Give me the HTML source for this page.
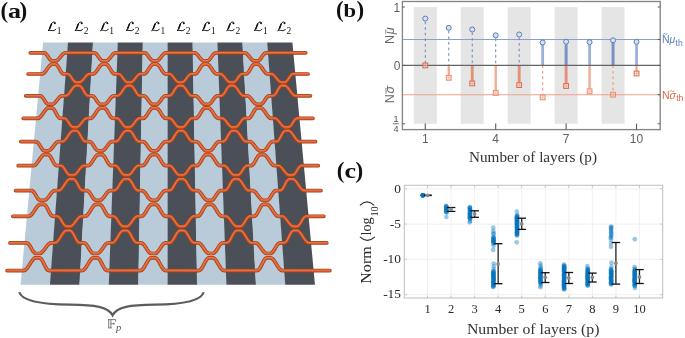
<!DOCTYPE html>
<html><head><meta charset="utf-8"><style>
html,body{margin:0;padding:0;background:#fff;width:685px;height:338px;overflow:hidden}
svg{display:block;will-change:transform}
</style></head><body>
<svg width="685" height="338" viewBox="0 0 685 338">
<rect width="685" height="338" fill="#fff"/>
<polygon points="43.10,42.50 68.30,42.50 50.25,284.70 20.54,284.70" fill="#b9cad9"/>
<polygon points="68.00,42.50 93.20,42.50 79.66,284.70 49.95,284.70" fill="#4b4f58"/>
<polygon points="92.90,42.50 118.10,42.50 109.08,284.70 79.36,284.70" fill="#b9cad9"/>
<polygon points="117.80,42.50 143.00,42.50 138.49,284.70 108.78,284.70" fill="#4b4f58"/>
<polygon points="142.70,42.50 167.90,42.50 167.90,284.70 138.19,284.70" fill="#b9cad9"/>
<polygon points="167.60,42.50 192.80,42.50 197.31,284.70 167.60,284.70" fill="#4b4f58"/>
<polygon points="192.50,42.50 217.70,42.50 226.72,284.70 197.01,284.70" fill="#b9cad9"/>
<polygon points="217.40,42.50 242.60,42.50 256.14,284.70 226.42,284.70" fill="#4b4f58"/>
<polygon points="242.30,42.50 267.50,42.50 285.55,284.70 255.84,284.70" fill="#b9cad9"/>
<polygon points="267.20,42.50 292.40,42.50 314.96,284.70 285.25,284.70" fill="#4b4f58"/>
<path d="M30.29,52.83 L31.21,52.83 L32.13,52.83 L33.05,52.83 L33.97,52.83 L34.88,52.83 L35.80,52.83 L36.72,52.83 L37.64,52.83 L38.56,52.83 L39.47,52.83 L40.39,52.83 L41.31,52.83 L42.23,52.83 L43.15,52.83 L44.06,52.84 L44.96,53.10 L45.82,53.73 L46.66,54.65 L47.47,55.79 L48.28,57.03 L49.10,58.27 L49.92,59.37 L50.77,60.23 L51.65,60.77 L52.56,60.94 L53.48,60.94 L54.40,60.94 L55.33,60.94 L56.26,60.82 L57.22,60.32 L58.21,59.50 L59.22,58.43 L60.24,57.21 L61.26,55.96 L62.27,54.80 L63.26,53.84 L64.23,53.17 L65.18,52.85 L66.10,52.83 L67.01,52.83 L67.93,52.83 L68.85,52.83 L69.77,52.83 L70.69,52.83 L71.60,52.83 L72.52,52.83 L73.44,52.83 L74.36,52.83 L75.28,52.83 L76.19,52.83 L77.11,52.83 L78.03,52.83 L78.95,52.83 L79.87,52.83 L80.78,52.83 L81.70,52.83 L82.62,52.83 L83.54,52.83 L84.46,52.83 L85.37,52.83 L86.29,52.83 L87.21,52.83 L88.13,52.83 L89.05,52.83 L89.96,52.83 L90.88,52.83 L91.80,52.83 L92.72,52.83 L93.64,52.83 L94.55,52.88 L95.45,53.27 L96.33,54.00 L97.19,55.01 L98.05,56.20 L98.91,57.45 L99.77,58.65 L100.64,59.68 L101.53,60.45 L102.43,60.87 L103.35,60.94 L104.27,60.94 L105.20,60.94 L106.12,60.94 L107.06,60.69 L108.01,60.08 L108.97,59.17 L109.94,58.03 L110.91,56.79 L111.88,55.55 L112.85,54.45 L113.80,53.58 L114.74,53.02 L115.67,52.83 L116.59,52.83 L117.50,52.83 L118.42,52.83 L119.34,52.83 L120.26,52.83 L121.18,52.83 L122.09,52.83 L123.01,52.83 L123.93,52.83 L124.85,52.83 L125.77,52.83 L126.68,52.83 L127.60,52.83 L128.52,52.83 L129.44,52.83 L130.36,52.83 L131.27,52.83 L132.19,52.83 L133.11,52.83 L134.03,52.83 L134.95,52.83 L135.86,52.83 L136.78,52.83 L137.70,52.83 L138.62,52.83 L139.54,52.83 L140.45,52.83 L141.37,52.83 L142.29,52.83 L143.21,52.83 L144.13,52.83 L145.04,52.97 L145.95,53.48 L146.86,54.31 L147.76,55.39 L148.66,56.61 L149.57,57.86 L150.47,59.02 L151.39,59.97 L152.30,60.63 L153.22,60.93 L154.14,60.94 L155.07,60.94 L155.99,60.94 L156.92,60.90 L157.84,60.53 L158.77,59.81 L159.70,58.81 L160.63,57.62 L161.55,56.37 L162.48,55.17 L163.40,54.13 L164.32,53.35 L165.24,52.92 L166.16,52.83 L167.08,52.83 L168.00,52.83 L168.91,52.83 L169.83,52.83 L170.75,52.83 L171.67,52.83 L172.59,52.83 L173.50,52.83 L174.42,52.83 L175.34,52.83 L176.26,52.83 L177.18,52.83 L178.09,52.83 L179.01,52.83 L179.93,52.83 L180.85,52.83 L181.77,52.83 L182.68,52.83 L183.60,52.83 L184.52,52.83 L185.44,52.83 L186.36,52.83 L187.27,52.83 L188.19,52.83 L189.11,52.83 L190.03,52.83 L190.95,52.83 L191.86,52.83 L192.78,52.83 L193.70,52.83 L194.62,52.84 L195.54,53.10 L196.47,53.72 L197.41,54.65 L198.36,55.79 L199.31,57.03 L200.26,58.26 L201.21,59.37 L202.15,60.23 L203.09,60.77 L204.02,60.94 L204.94,60.94 L205.86,60.94 L206.79,60.94 L207.71,60.82 L208.61,60.32 L209.51,59.50 L210.40,58.43 L211.28,57.21 L212.16,55.96 L213.04,54.80 L213.93,53.84 L214.83,53.17 L215.73,52.85 L216.65,52.83 L217.57,52.83 L218.49,52.83 L219.40,52.83 L220.32,52.83 L221.24,52.83 L222.16,52.83 L223.08,52.83 L223.99,52.83 L224.91,52.83 L225.83,52.83 L226.75,52.83 L227.67,52.83 L228.58,52.83 L229.50,52.83 L230.42,52.83 L231.34,52.83 L232.26,52.83 L233.17,52.83 L234.09,52.83 L235.01,52.83 L235.93,52.83 L236.85,52.83 L237.76,52.83 L238.68,52.83 L239.60,52.83 L240.52,52.83 L241.44,52.83 L242.35,52.83 L243.27,52.83 L244.19,52.83 L245.11,52.88 L246.05,53.27 L247.01,54.00 L247.99,55.01 L248.98,56.20 L249.98,57.45 L250.97,58.65 L251.96,59.68 L252.93,60.45 L253.88,60.87 L254.81,60.94 L255.73,60.94 L256.66,60.94 L257.58,60.94 L258.49,60.69 L259.37,60.08 L260.23,59.17 L261.07,58.03 L261.91,56.79 L262.74,55.56 L263.58,54.45 L264.44,53.58 L265.32,53.02 L266.22,52.83 L267.14,52.83 L268.06,52.83 L268.98,52.83 L269.89,52.83 L270.81,52.83 L271.73,52.83 L272.65,52.83 L273.57,52.83 L274.48,52.83 L275.40,52.83 L276.32,52.83 L277.24,52.83 L278.16,52.83 L279.07,52.83 L279.99,52.83 L280.91,52.83 L281.83,52.83 L282.75,52.83 L283.66,52.83 L284.58,52.83 L285.50,52.83 L286.42,52.83 L287.34,52.83 L288.25,52.83 L289.17,52.83 L290.09,52.83 L291.01,52.83 L291.93,52.83 L292.84,52.83 L293.76,52.83 L294.68,52.83 L295.60,52.83 L296.52,52.83 L297.43,52.83 L298.35,52.83 L299.27,52.83 L300.19,52.83 L301.11,52.83 L302.02,52.83 L302.94,52.83 L303.86,52.83 L304.78,52.83 L305.70,52.83" fill="none" stroke="#a0401c" stroke-width="3.7" stroke-linecap="round" stroke-linejoin="round"/>
<path d="M30.29,52.83 L31.21,52.83 L32.13,52.83 L33.05,52.83 L33.97,52.83 L34.88,52.83 L35.80,52.83 L36.72,52.83 L37.64,52.83 L38.56,52.83 L39.47,52.83 L40.39,52.83 L41.31,52.83 L42.23,52.83 L43.15,52.83 L44.06,52.84 L44.96,53.10 L45.82,53.73 L46.66,54.65 L47.47,55.79 L48.28,57.03 L49.10,58.27 L49.92,59.37 L50.77,60.23 L51.65,60.77 L52.56,60.94 L53.48,60.94 L54.40,60.94 L55.33,60.94 L56.26,60.82 L57.22,60.32 L58.21,59.50 L59.22,58.43 L60.24,57.21 L61.26,55.96 L62.27,54.80 L63.26,53.84 L64.23,53.17 L65.18,52.85 L66.10,52.83 L67.01,52.83 L67.93,52.83 L68.85,52.83 L69.77,52.83 L70.69,52.83 L71.60,52.83 L72.52,52.83 L73.44,52.83 L74.36,52.83 L75.28,52.83 L76.19,52.83 L77.11,52.83 L78.03,52.83 L78.95,52.83 L79.87,52.83 L80.78,52.83 L81.70,52.83 L82.62,52.83 L83.54,52.83 L84.46,52.83 L85.37,52.83 L86.29,52.83 L87.21,52.83 L88.13,52.83 L89.05,52.83 L89.96,52.83 L90.88,52.83 L91.80,52.83 L92.72,52.83 L93.64,52.83 L94.55,52.88 L95.45,53.27 L96.33,54.00 L97.19,55.01 L98.05,56.20 L98.91,57.45 L99.77,58.65 L100.64,59.68 L101.53,60.45 L102.43,60.87 L103.35,60.94 L104.27,60.94 L105.20,60.94 L106.12,60.94 L107.06,60.69 L108.01,60.08 L108.97,59.17 L109.94,58.03 L110.91,56.79 L111.88,55.55 L112.85,54.45 L113.80,53.58 L114.74,53.02 L115.67,52.83 L116.59,52.83 L117.50,52.83 L118.42,52.83 L119.34,52.83 L120.26,52.83 L121.18,52.83 L122.09,52.83 L123.01,52.83 L123.93,52.83 L124.85,52.83 L125.77,52.83 L126.68,52.83 L127.60,52.83 L128.52,52.83 L129.44,52.83 L130.36,52.83 L131.27,52.83 L132.19,52.83 L133.11,52.83 L134.03,52.83 L134.95,52.83 L135.86,52.83 L136.78,52.83 L137.70,52.83 L138.62,52.83 L139.54,52.83 L140.45,52.83 L141.37,52.83 L142.29,52.83 L143.21,52.83 L144.13,52.83 L145.04,52.97 L145.95,53.48 L146.86,54.31 L147.76,55.39 L148.66,56.61 L149.57,57.86 L150.47,59.02 L151.39,59.97 L152.30,60.63 L153.22,60.93 L154.14,60.94 L155.07,60.94 L155.99,60.94 L156.92,60.90 L157.84,60.53 L158.77,59.81 L159.70,58.81 L160.63,57.62 L161.55,56.37 L162.48,55.17 L163.40,54.13 L164.32,53.35 L165.24,52.92 L166.16,52.83 L167.08,52.83 L168.00,52.83 L168.91,52.83 L169.83,52.83 L170.75,52.83 L171.67,52.83 L172.59,52.83 L173.50,52.83 L174.42,52.83 L175.34,52.83 L176.26,52.83 L177.18,52.83 L178.09,52.83 L179.01,52.83 L179.93,52.83 L180.85,52.83 L181.77,52.83 L182.68,52.83 L183.60,52.83 L184.52,52.83 L185.44,52.83 L186.36,52.83 L187.27,52.83 L188.19,52.83 L189.11,52.83 L190.03,52.83 L190.95,52.83 L191.86,52.83 L192.78,52.83 L193.70,52.83 L194.62,52.84 L195.54,53.10 L196.47,53.72 L197.41,54.65 L198.36,55.79 L199.31,57.03 L200.26,58.26 L201.21,59.37 L202.15,60.23 L203.09,60.77 L204.02,60.94 L204.94,60.94 L205.86,60.94 L206.79,60.94 L207.71,60.82 L208.61,60.32 L209.51,59.50 L210.40,58.43 L211.28,57.21 L212.16,55.96 L213.04,54.80 L213.93,53.84 L214.83,53.17 L215.73,52.85 L216.65,52.83 L217.57,52.83 L218.49,52.83 L219.40,52.83 L220.32,52.83 L221.24,52.83 L222.16,52.83 L223.08,52.83 L223.99,52.83 L224.91,52.83 L225.83,52.83 L226.75,52.83 L227.67,52.83 L228.58,52.83 L229.50,52.83 L230.42,52.83 L231.34,52.83 L232.26,52.83 L233.17,52.83 L234.09,52.83 L235.01,52.83 L235.93,52.83 L236.85,52.83 L237.76,52.83 L238.68,52.83 L239.60,52.83 L240.52,52.83 L241.44,52.83 L242.35,52.83 L243.27,52.83 L244.19,52.83 L245.11,52.88 L246.05,53.27 L247.01,54.00 L247.99,55.01 L248.98,56.20 L249.98,57.45 L250.97,58.65 L251.96,59.68 L252.93,60.45 L253.88,60.87 L254.81,60.94 L255.73,60.94 L256.66,60.94 L257.58,60.94 L258.49,60.69 L259.37,60.08 L260.23,59.17 L261.07,58.03 L261.91,56.79 L262.74,55.56 L263.58,54.45 L264.44,53.58 L265.32,53.02 L266.22,52.83 L267.14,52.83 L268.06,52.83 L268.98,52.83 L269.89,52.83 L270.81,52.83 L271.73,52.83 L272.65,52.83 L273.57,52.83 L274.48,52.83 L275.40,52.83 L276.32,52.83 L277.24,52.83 L278.16,52.83 L279.07,52.83 L279.99,52.83 L280.91,52.83 L281.83,52.83 L282.75,52.83 L283.66,52.83 L284.58,52.83 L285.50,52.83 L286.42,52.83 L287.34,52.83 L288.25,52.83 L289.17,52.83 L290.09,52.83 L291.01,52.83 L291.93,52.83 L292.84,52.83 L293.76,52.83 L294.68,52.83 L295.60,52.83 L296.52,52.83 L297.43,52.83 L298.35,52.83 L299.27,52.83 L300.19,52.83 L301.11,52.83 L302.02,52.83 L302.94,52.83 L303.86,52.83 L304.78,52.83 L305.70,52.83" fill="none" stroke="#dc5b2c" stroke-width="2.3" stroke-linecap="round" stroke-linejoin="round"/>
<path d="M30.29,52.83 L31.21,52.83 L32.13,52.83 L33.05,52.83 L33.97,52.83 L34.88,52.83 L35.80,52.83 L36.72,52.83 L37.64,52.83 L38.56,52.83 L39.47,52.83 L40.39,52.83 L41.31,52.83 L42.23,52.83 L43.15,52.83 L44.06,52.84 L44.96,53.10 L45.82,53.73 L46.66,54.65 L47.47,55.79 L48.28,57.03 L49.10,58.27 L49.92,59.37 L50.77,60.23 L51.65,60.77 L52.56,60.94 L53.48,60.94 L54.40,60.94 L55.33,60.94 L56.26,60.82 L57.22,60.32 L58.21,59.50 L59.22,58.43 L60.24,57.21 L61.26,55.96 L62.27,54.80 L63.26,53.84 L64.23,53.17 L65.18,52.85 L66.10,52.83 L67.01,52.83 L67.93,52.83 L68.85,52.83 L69.77,52.83 L70.69,52.83 L71.60,52.83 L72.52,52.83 L73.44,52.83 L74.36,52.83 L75.28,52.83 L76.19,52.83 L77.11,52.83 L78.03,52.83 L78.95,52.83 L79.87,52.83 L80.78,52.83 L81.70,52.83 L82.62,52.83 L83.54,52.83 L84.46,52.83 L85.37,52.83 L86.29,52.83 L87.21,52.83 L88.13,52.83 L89.05,52.83 L89.96,52.83 L90.88,52.83 L91.80,52.83 L92.72,52.83 L93.64,52.83 L94.55,52.88 L95.45,53.27 L96.33,54.00 L97.19,55.01 L98.05,56.20 L98.91,57.45 L99.77,58.65 L100.64,59.68 L101.53,60.45 L102.43,60.87 L103.35,60.94 L104.27,60.94 L105.20,60.94 L106.12,60.94 L107.06,60.69 L108.01,60.08 L108.97,59.17 L109.94,58.03 L110.91,56.79 L111.88,55.55 L112.85,54.45 L113.80,53.58 L114.74,53.02 L115.67,52.83 L116.59,52.83 L117.50,52.83 L118.42,52.83 L119.34,52.83 L120.26,52.83 L121.18,52.83 L122.09,52.83 L123.01,52.83 L123.93,52.83 L124.85,52.83 L125.77,52.83 L126.68,52.83 L127.60,52.83 L128.52,52.83 L129.44,52.83 L130.36,52.83 L131.27,52.83 L132.19,52.83 L133.11,52.83 L134.03,52.83 L134.95,52.83 L135.86,52.83 L136.78,52.83 L137.70,52.83 L138.62,52.83 L139.54,52.83 L140.45,52.83 L141.37,52.83 L142.29,52.83 L143.21,52.83 L144.13,52.83 L145.04,52.97 L145.95,53.48 L146.86,54.31 L147.76,55.39 L148.66,56.61 L149.57,57.86 L150.47,59.02 L151.39,59.97 L152.30,60.63 L153.22,60.93 L154.14,60.94 L155.07,60.94 L155.99,60.94 L156.92,60.90 L157.84,60.53 L158.77,59.81 L159.70,58.81 L160.63,57.62 L161.55,56.37 L162.48,55.17 L163.40,54.13 L164.32,53.35 L165.24,52.92 L166.16,52.83 L167.08,52.83 L168.00,52.83 L168.91,52.83 L169.83,52.83 L170.75,52.83 L171.67,52.83 L172.59,52.83 L173.50,52.83 L174.42,52.83 L175.34,52.83 L176.26,52.83 L177.18,52.83 L178.09,52.83 L179.01,52.83 L179.93,52.83 L180.85,52.83 L181.77,52.83 L182.68,52.83 L183.60,52.83 L184.52,52.83 L185.44,52.83 L186.36,52.83 L187.27,52.83 L188.19,52.83 L189.11,52.83 L190.03,52.83 L190.95,52.83 L191.86,52.83 L192.78,52.83 L193.70,52.83 L194.62,52.84 L195.54,53.10 L196.47,53.72 L197.41,54.65 L198.36,55.79 L199.31,57.03 L200.26,58.26 L201.21,59.37 L202.15,60.23 L203.09,60.77 L204.02,60.94 L204.94,60.94 L205.86,60.94 L206.79,60.94 L207.71,60.82 L208.61,60.32 L209.51,59.50 L210.40,58.43 L211.28,57.21 L212.16,55.96 L213.04,54.80 L213.93,53.84 L214.83,53.17 L215.73,52.85 L216.65,52.83 L217.57,52.83 L218.49,52.83 L219.40,52.83 L220.32,52.83 L221.24,52.83 L222.16,52.83 L223.08,52.83 L223.99,52.83 L224.91,52.83 L225.83,52.83 L226.75,52.83 L227.67,52.83 L228.58,52.83 L229.50,52.83 L230.42,52.83 L231.34,52.83 L232.26,52.83 L233.17,52.83 L234.09,52.83 L235.01,52.83 L235.93,52.83 L236.85,52.83 L237.76,52.83 L238.68,52.83 L239.60,52.83 L240.52,52.83 L241.44,52.83 L242.35,52.83 L243.27,52.83 L244.19,52.83 L245.11,52.88 L246.05,53.27 L247.01,54.00 L247.99,55.01 L248.98,56.20 L249.98,57.45 L250.97,58.65 L251.96,59.68 L252.93,60.45 L253.88,60.87 L254.81,60.94 L255.73,60.94 L256.66,60.94 L257.58,60.94 L258.49,60.69 L259.37,60.08 L260.23,59.17 L261.07,58.03 L261.91,56.79 L262.74,55.56 L263.58,54.45 L264.44,53.58 L265.32,53.02 L266.22,52.83 L267.14,52.83 L268.06,52.83 L268.98,52.83 L269.89,52.83 L270.81,52.83 L271.73,52.83 L272.65,52.83 L273.57,52.83 L274.48,52.83 L275.40,52.83 L276.32,52.83 L277.24,52.83 L278.16,52.83 L279.07,52.83 L279.99,52.83 L280.91,52.83 L281.83,52.83 L282.75,52.83 L283.66,52.83 L284.58,52.83 L285.50,52.83 L286.42,52.83 L287.34,52.83 L288.25,52.83 L289.17,52.83 L290.09,52.83 L291.01,52.83 L291.93,52.83 L292.84,52.83 L293.76,52.83 L294.68,52.83 L295.60,52.83 L296.52,52.83 L297.43,52.83 L298.35,52.83 L299.27,52.83 L300.19,52.83 L301.11,52.83 L302.02,52.83 L302.94,52.83 L303.86,52.83 L304.78,52.83 L305.70,52.83" fill="none" stroke="#ee8656" stroke-width="0.8" stroke-linecap="round" stroke-linejoin="round" transform="translate(0,-0.4)"/>
<path d="M28.04,73.98 L28.97,73.98 L29.90,73.98 L30.84,73.98 L31.77,73.98 L32.70,73.98 L33.64,73.98 L34.57,73.98 L35.50,73.98 L36.44,73.98 L37.37,73.98 L38.30,73.98 L39.24,73.98 L40.17,73.98 L41.10,73.98 L42.04,73.98 L43.00,73.70 L43.99,72.98 L45.02,71.89 L46.08,70.53 L47.14,69.03 L48.20,67.54 L49.25,66.21 L50.27,65.15 L51.25,64.47 L52.20,64.23 L53.12,64.23 L54.05,64.23 L54.98,64.23 L55.90,64.35 L56.78,64.90 L57.63,65.86 L58.45,67.12 L59.27,68.58 L60.08,70.08 L60.90,71.50 L61.74,72.69 L62.61,73.53 L63.51,73.95 L64.44,73.98 L65.37,73.98 L66.30,73.98 L67.24,73.98 L68.16,74.10 L69.06,74.61 L69.93,75.45 L70.79,76.55 L71.64,77.80 L72.48,79.10 L73.34,80.30 L74.21,81.30 L75.10,82.00 L76.02,82.33 L76.95,82.35 L77.89,82.35 L78.83,82.35 L79.77,82.31 L80.73,81.95 L81.72,81.22 L82.72,80.20 L83.73,78.99 L84.75,77.69 L85.76,76.45 L86.76,75.36 L87.74,74.55 L88.70,74.08 L89.64,73.98 L90.57,73.98 L91.50,73.98 L92.44,73.98 L93.37,73.93 L94.33,73.47 L95.31,72.60 L96.31,71.38 L97.31,69.96 L98.32,68.45 L99.32,67.00 L100.31,65.76 L101.28,64.84 L102.24,64.33 L103.17,64.23 L104.09,64.23 L105.02,64.23 L105.95,64.24 L106.86,64.51 L107.76,65.23 L108.64,66.31 L109.51,67.67 L110.37,69.16 L111.24,70.65 L112.12,71.99 L113.01,73.06 L113.91,73.74 L114.84,73.98 L115.77,73.98 L116.71,73.98 L117.64,73.98 L118.57,73.99 L119.50,74.25 L120.41,74.90 L121.31,75.85 L122.20,77.02 L123.10,78.31 L123.99,79.58 L124.90,80.72 L125.81,81.61 L126.73,82.17 L127.66,82.35 L128.60,82.35 L129.54,82.35 L130.48,82.35 L131.42,82.22 L132.37,81.71 L133.33,80.86 L134.30,79.75 L135.27,78.49 L136.23,77.20 L137.19,76.00 L138.15,75.01 L139.10,74.32 L140.04,74.00 L140.97,73.98 L141.91,73.98 L142.84,73.98 L143.77,73.98 L144.71,73.81 L145.65,73.18 L146.60,72.16 L147.55,70.85 L148.50,69.37 L149.45,67.87 L150.40,66.49 L151.34,65.36 L152.28,64.59 L153.21,64.25 L154.14,64.23 L155.06,64.23 L155.99,64.23 L156.92,64.29 L157.84,64.74 L158.76,65.61 L159.68,66.81 L160.60,68.24 L161.53,69.75 L162.45,71.20 L163.38,72.45 L164.31,73.37 L165.24,73.89 L166.17,73.98 L167.11,73.98 L168.04,73.98 L168.97,73.98 L169.91,74.04 L170.84,74.46 L171.78,75.23 L172.72,76.28 L173.66,77.51 L174.60,78.81 L175.54,80.04 L176.49,81.10 L177.43,81.87 L178.37,82.29 L179.31,82.35 L180.25,82.35 L181.19,82.35 L182.13,82.34 L183.06,82.07 L184.00,81.42 L184.92,80.45 L185.84,79.27 L186.76,77.99 L187.68,76.72 L188.60,75.59 L189.52,74.70 L190.44,74.15 L191.37,73.98 L192.31,73.98 L193.24,73.98 L194.17,73.98 L195.11,73.97 L196.03,73.61 L196.95,72.83 L197.86,71.68 L198.76,70.29 L199.65,68.79 L200.55,67.31 L201.44,66.02 L202.34,65.01 L203.26,64.40 L204.18,64.23 L205.10,64.23 L206.03,64.23 L206.96,64.23 L207.89,64.41 L208.84,65.03 L209.79,66.04 L210.76,67.35 L211.74,68.82 L212.72,70.32 L213.70,71.71 L214.67,72.85 L215.63,73.63 L216.57,73.97 L217.51,73.98 L218.44,73.98 L219.37,73.98 L220.31,73.98 L221.25,74.16 L222.20,74.72 L223.17,75.61 L224.15,76.74 L225.14,78.02 L226.13,79.30 L227.12,80.48 L228.10,81.44 L229.07,82.08 L230.02,82.34 L230.96,82.35 L231.90,82.35 L232.84,82.35 L233.77,82.28 L234.69,81.86 L235.59,81.08 L236.48,80.02 L237.35,78.78 L238.22,77.48 L239.09,76.26 L239.97,75.21 L240.87,74.45 L241.78,74.04 L242.71,73.98 L243.64,73.98 L244.57,73.98 L245.51,73.98 L246.44,73.88 L247.34,73.36 L248.22,72.42 L249.07,71.16 L249.92,69.71 L250.76,68.20 L251.60,66.78 L252.45,65.59 L253.32,64.73 L254.22,64.28 L255.15,64.23 L256.07,64.23 L257.00,64.23 L257.93,64.25 L258.88,64.60 L259.86,65.38 L260.86,66.52 L261.89,67.91 L262.92,69.41 L263.96,70.88 L264.98,72.19 L265.99,73.20 L266.96,73.81 L267.91,73.98 L268.84,73.98 L269.78,73.98 L270.71,73.98 L271.64,74.00 L272.60,74.33 L273.59,75.03 L274.60,76.03 L275.63,77.23 L276.67,78.52 L277.71,79.78 L278.73,80.88 L279.74,81.73 L280.72,82.23 L281.67,82.35 L282.61,82.35 L283.55,82.35 L284.49,82.35 L285.41,82.16 L286.30,81.59 L287.16,80.69 L288.00,79.55 L288.82,78.28 L289.64,76.99 L290.47,75.82 L291.32,74.88 L292.20,74.24 L293.11,73.99 L294.04,73.98 L294.98,73.98 L295.91,73.98 L296.84,73.98 L297.78,73.98 L298.71,73.98 L299.64,73.98 L300.58,73.98 L301.51,73.98 L302.44,73.98 L303.38,73.98 L304.31,73.98 L305.24,73.98 L306.18,73.98 L307.11,73.98 L308.04,73.98" fill="none" stroke="#a0401c" stroke-width="3.7" stroke-linecap="round" stroke-linejoin="round"/>
<path d="M28.04,73.98 L28.97,73.98 L29.90,73.98 L30.84,73.98 L31.77,73.98 L32.70,73.98 L33.64,73.98 L34.57,73.98 L35.50,73.98 L36.44,73.98 L37.37,73.98 L38.30,73.98 L39.24,73.98 L40.17,73.98 L41.10,73.98 L42.04,73.98 L43.00,73.70 L43.99,72.98 L45.02,71.89 L46.08,70.53 L47.14,69.03 L48.20,67.54 L49.25,66.21 L50.27,65.15 L51.25,64.47 L52.20,64.23 L53.12,64.23 L54.05,64.23 L54.98,64.23 L55.90,64.35 L56.78,64.90 L57.63,65.86 L58.45,67.12 L59.27,68.58 L60.08,70.08 L60.90,71.50 L61.74,72.69 L62.61,73.53 L63.51,73.95 L64.44,73.98 L65.37,73.98 L66.30,73.98 L67.24,73.98 L68.16,74.10 L69.06,74.61 L69.93,75.45 L70.79,76.55 L71.64,77.80 L72.48,79.10 L73.34,80.30 L74.21,81.30 L75.10,82.00 L76.02,82.33 L76.95,82.35 L77.89,82.35 L78.83,82.35 L79.77,82.31 L80.73,81.95 L81.72,81.22 L82.72,80.20 L83.73,78.99 L84.75,77.69 L85.76,76.45 L86.76,75.36 L87.74,74.55 L88.70,74.08 L89.64,73.98 L90.57,73.98 L91.50,73.98 L92.44,73.98 L93.37,73.93 L94.33,73.47 L95.31,72.60 L96.31,71.38 L97.31,69.96 L98.32,68.45 L99.32,67.00 L100.31,65.76 L101.28,64.84 L102.24,64.33 L103.17,64.23 L104.09,64.23 L105.02,64.23 L105.95,64.24 L106.86,64.51 L107.76,65.23 L108.64,66.31 L109.51,67.67 L110.37,69.16 L111.24,70.65 L112.12,71.99 L113.01,73.06 L113.91,73.74 L114.84,73.98 L115.77,73.98 L116.71,73.98 L117.64,73.98 L118.57,73.99 L119.50,74.25 L120.41,74.90 L121.31,75.85 L122.20,77.02 L123.10,78.31 L123.99,79.58 L124.90,80.72 L125.81,81.61 L126.73,82.17 L127.66,82.35 L128.60,82.35 L129.54,82.35 L130.48,82.35 L131.42,82.22 L132.37,81.71 L133.33,80.86 L134.30,79.75 L135.27,78.49 L136.23,77.20 L137.19,76.00 L138.15,75.01 L139.10,74.32 L140.04,74.00 L140.97,73.98 L141.91,73.98 L142.84,73.98 L143.77,73.98 L144.71,73.81 L145.65,73.18 L146.60,72.16 L147.55,70.85 L148.50,69.37 L149.45,67.87 L150.40,66.49 L151.34,65.36 L152.28,64.59 L153.21,64.25 L154.14,64.23 L155.06,64.23 L155.99,64.23 L156.92,64.29 L157.84,64.74 L158.76,65.61 L159.68,66.81 L160.60,68.24 L161.53,69.75 L162.45,71.20 L163.38,72.45 L164.31,73.37 L165.24,73.89 L166.17,73.98 L167.11,73.98 L168.04,73.98 L168.97,73.98 L169.91,74.04 L170.84,74.46 L171.78,75.23 L172.72,76.28 L173.66,77.51 L174.60,78.81 L175.54,80.04 L176.49,81.10 L177.43,81.87 L178.37,82.29 L179.31,82.35 L180.25,82.35 L181.19,82.35 L182.13,82.34 L183.06,82.07 L184.00,81.42 L184.92,80.45 L185.84,79.27 L186.76,77.99 L187.68,76.72 L188.60,75.59 L189.52,74.70 L190.44,74.15 L191.37,73.98 L192.31,73.98 L193.24,73.98 L194.17,73.98 L195.11,73.97 L196.03,73.61 L196.95,72.83 L197.86,71.68 L198.76,70.29 L199.65,68.79 L200.55,67.31 L201.44,66.02 L202.34,65.01 L203.26,64.40 L204.18,64.23 L205.10,64.23 L206.03,64.23 L206.96,64.23 L207.89,64.41 L208.84,65.03 L209.79,66.04 L210.76,67.35 L211.74,68.82 L212.72,70.32 L213.70,71.71 L214.67,72.85 L215.63,73.63 L216.57,73.97 L217.51,73.98 L218.44,73.98 L219.37,73.98 L220.31,73.98 L221.25,74.16 L222.20,74.72 L223.17,75.61 L224.15,76.74 L225.14,78.02 L226.13,79.30 L227.12,80.48 L228.10,81.44 L229.07,82.08 L230.02,82.34 L230.96,82.35 L231.90,82.35 L232.84,82.35 L233.77,82.28 L234.69,81.86 L235.59,81.08 L236.48,80.02 L237.35,78.78 L238.22,77.48 L239.09,76.26 L239.97,75.21 L240.87,74.45 L241.78,74.04 L242.71,73.98 L243.64,73.98 L244.57,73.98 L245.51,73.98 L246.44,73.88 L247.34,73.36 L248.22,72.42 L249.07,71.16 L249.92,69.71 L250.76,68.20 L251.60,66.78 L252.45,65.59 L253.32,64.73 L254.22,64.28 L255.15,64.23 L256.07,64.23 L257.00,64.23 L257.93,64.25 L258.88,64.60 L259.86,65.38 L260.86,66.52 L261.89,67.91 L262.92,69.41 L263.96,70.88 L264.98,72.19 L265.99,73.20 L266.96,73.81 L267.91,73.98 L268.84,73.98 L269.78,73.98 L270.71,73.98 L271.64,74.00 L272.60,74.33 L273.59,75.03 L274.60,76.03 L275.63,77.23 L276.67,78.52 L277.71,79.78 L278.73,80.88 L279.74,81.73 L280.72,82.23 L281.67,82.35 L282.61,82.35 L283.55,82.35 L284.49,82.35 L285.41,82.16 L286.30,81.59 L287.16,80.69 L288.00,79.55 L288.82,78.28 L289.64,76.99 L290.47,75.82 L291.32,74.88 L292.20,74.24 L293.11,73.99 L294.04,73.98 L294.98,73.98 L295.91,73.98 L296.84,73.98 L297.78,73.98 L298.71,73.98 L299.64,73.98 L300.58,73.98 L301.51,73.98 L302.44,73.98 L303.38,73.98 L304.31,73.98 L305.24,73.98 L306.18,73.98 L307.11,73.98 L308.04,73.98" fill="none" stroke="#dc5b2c" stroke-width="2.3" stroke-linecap="round" stroke-linejoin="round"/>
<path d="M28.04,73.98 L28.97,73.98 L29.90,73.98 L30.84,73.98 L31.77,73.98 L32.70,73.98 L33.64,73.98 L34.57,73.98 L35.50,73.98 L36.44,73.98 L37.37,73.98 L38.30,73.98 L39.24,73.98 L40.17,73.98 L41.10,73.98 L42.04,73.98 L43.00,73.70 L43.99,72.98 L45.02,71.89 L46.08,70.53 L47.14,69.03 L48.20,67.54 L49.25,66.21 L50.27,65.15 L51.25,64.47 L52.20,64.23 L53.12,64.23 L54.05,64.23 L54.98,64.23 L55.90,64.35 L56.78,64.90 L57.63,65.86 L58.45,67.12 L59.27,68.58 L60.08,70.08 L60.90,71.50 L61.74,72.69 L62.61,73.53 L63.51,73.95 L64.44,73.98 L65.37,73.98 L66.30,73.98 L67.24,73.98 L68.16,74.10 L69.06,74.61 L69.93,75.45 L70.79,76.55 L71.64,77.80 L72.48,79.10 L73.34,80.30 L74.21,81.30 L75.10,82.00 L76.02,82.33 L76.95,82.35 L77.89,82.35 L78.83,82.35 L79.77,82.31 L80.73,81.95 L81.72,81.22 L82.72,80.20 L83.73,78.99 L84.75,77.69 L85.76,76.45 L86.76,75.36 L87.74,74.55 L88.70,74.08 L89.64,73.98 L90.57,73.98 L91.50,73.98 L92.44,73.98 L93.37,73.93 L94.33,73.47 L95.31,72.60 L96.31,71.38 L97.31,69.96 L98.32,68.45 L99.32,67.00 L100.31,65.76 L101.28,64.84 L102.24,64.33 L103.17,64.23 L104.09,64.23 L105.02,64.23 L105.95,64.24 L106.86,64.51 L107.76,65.23 L108.64,66.31 L109.51,67.67 L110.37,69.16 L111.24,70.65 L112.12,71.99 L113.01,73.06 L113.91,73.74 L114.84,73.98 L115.77,73.98 L116.71,73.98 L117.64,73.98 L118.57,73.99 L119.50,74.25 L120.41,74.90 L121.31,75.85 L122.20,77.02 L123.10,78.31 L123.99,79.58 L124.90,80.72 L125.81,81.61 L126.73,82.17 L127.66,82.35 L128.60,82.35 L129.54,82.35 L130.48,82.35 L131.42,82.22 L132.37,81.71 L133.33,80.86 L134.30,79.75 L135.27,78.49 L136.23,77.20 L137.19,76.00 L138.15,75.01 L139.10,74.32 L140.04,74.00 L140.97,73.98 L141.91,73.98 L142.84,73.98 L143.77,73.98 L144.71,73.81 L145.65,73.18 L146.60,72.16 L147.55,70.85 L148.50,69.37 L149.45,67.87 L150.40,66.49 L151.34,65.36 L152.28,64.59 L153.21,64.25 L154.14,64.23 L155.06,64.23 L155.99,64.23 L156.92,64.29 L157.84,64.74 L158.76,65.61 L159.68,66.81 L160.60,68.24 L161.53,69.75 L162.45,71.20 L163.38,72.45 L164.31,73.37 L165.24,73.89 L166.17,73.98 L167.11,73.98 L168.04,73.98 L168.97,73.98 L169.91,74.04 L170.84,74.46 L171.78,75.23 L172.72,76.28 L173.66,77.51 L174.60,78.81 L175.54,80.04 L176.49,81.10 L177.43,81.87 L178.37,82.29 L179.31,82.35 L180.25,82.35 L181.19,82.35 L182.13,82.34 L183.06,82.07 L184.00,81.42 L184.92,80.45 L185.84,79.27 L186.76,77.99 L187.68,76.72 L188.60,75.59 L189.52,74.70 L190.44,74.15 L191.37,73.98 L192.31,73.98 L193.24,73.98 L194.17,73.98 L195.11,73.97 L196.03,73.61 L196.95,72.83 L197.86,71.68 L198.76,70.29 L199.65,68.79 L200.55,67.31 L201.44,66.02 L202.34,65.01 L203.26,64.40 L204.18,64.23 L205.10,64.23 L206.03,64.23 L206.96,64.23 L207.89,64.41 L208.84,65.03 L209.79,66.04 L210.76,67.35 L211.74,68.82 L212.72,70.32 L213.70,71.71 L214.67,72.85 L215.63,73.63 L216.57,73.97 L217.51,73.98 L218.44,73.98 L219.37,73.98 L220.31,73.98 L221.25,74.16 L222.20,74.72 L223.17,75.61 L224.15,76.74 L225.14,78.02 L226.13,79.30 L227.12,80.48 L228.10,81.44 L229.07,82.08 L230.02,82.34 L230.96,82.35 L231.90,82.35 L232.84,82.35 L233.77,82.28 L234.69,81.86 L235.59,81.08 L236.48,80.02 L237.35,78.78 L238.22,77.48 L239.09,76.26 L239.97,75.21 L240.87,74.45 L241.78,74.04 L242.71,73.98 L243.64,73.98 L244.57,73.98 L245.51,73.98 L246.44,73.88 L247.34,73.36 L248.22,72.42 L249.07,71.16 L249.92,69.71 L250.76,68.20 L251.60,66.78 L252.45,65.59 L253.32,64.73 L254.22,64.28 L255.15,64.23 L256.07,64.23 L257.00,64.23 L257.93,64.25 L258.88,64.60 L259.86,65.38 L260.86,66.52 L261.89,67.91 L262.92,69.41 L263.96,70.88 L264.98,72.19 L265.99,73.20 L266.96,73.81 L267.91,73.98 L268.84,73.98 L269.78,73.98 L270.71,73.98 L271.64,74.00 L272.60,74.33 L273.59,75.03 L274.60,76.03 L275.63,77.23 L276.67,78.52 L277.71,79.78 L278.73,80.88 L279.74,81.73 L280.72,82.23 L281.67,82.35 L282.61,82.35 L283.55,82.35 L284.49,82.35 L285.41,82.16 L286.30,81.59 L287.16,80.69 L288.00,79.55 L288.82,78.28 L289.64,76.99 L290.47,75.82 L291.32,74.88 L292.20,74.24 L293.11,73.99 L294.04,73.98 L294.98,73.98 L295.91,73.98 L296.84,73.98 L297.78,73.98 L298.71,73.98 L299.64,73.98 L300.58,73.98 L301.51,73.98 L302.44,73.98 L303.38,73.98 L304.31,73.98 L305.24,73.98 L306.18,73.98 L307.11,73.98 L308.04,73.98" fill="none" stroke="#ee8656" stroke-width="0.8" stroke-linecap="round" stroke-linejoin="round" transform="translate(0,-0.4)"/>
<path d="M25.71,95.81 L26.66,95.81 L27.60,95.81 L28.55,95.81 L29.50,95.81 L30.45,95.81 L31.40,95.81 L32.35,95.81 L33.30,95.81 L34.25,95.81 L35.20,95.81 L36.15,95.81 L37.10,95.81 L38.05,95.81 L39.00,95.81 L39.94,95.81 L40.87,96.01 L41.77,96.61 L42.64,97.54 L43.48,98.73 L44.32,100.04 L45.15,101.37 L46.00,102.58 L46.87,103.55 L47.77,104.19 L48.70,104.44 L49.66,104.44 L50.61,104.44 L51.57,104.44 L52.53,104.36 L53.52,103.89 L54.54,103.07 L55.59,101.96 L56.64,100.67 L57.70,99.33 L58.75,98.07 L59.78,97.01 L60.79,96.24 L61.77,95.85 L62.72,95.81 L63.67,95.81 L64.62,95.81 L65.57,95.81 L66.53,95.68 L67.52,95.10 L68.54,94.10 L69.58,92.78 L70.64,91.27 L71.69,89.72 L72.73,88.26 L73.76,87.05 L74.76,86.20 L75.73,85.78 L76.68,85.75 L77.62,85.75 L78.56,85.75 L79.50,85.78 L80.42,86.18 L81.31,87.03 L82.18,88.23 L83.03,89.68 L83.88,91.23 L84.74,92.75 L85.61,94.07 L86.50,95.08 L87.41,95.67 L88.35,95.81 L89.30,95.81 L90.25,95.81 L91.20,95.81 L92.15,95.85 L93.08,96.23 L93.99,96.99 L94.88,98.04 L95.77,99.30 L96.65,100.64 L97.54,101.93 L98.44,103.04 L99.35,103.88 L100.28,104.35 L101.23,104.44 L102.19,104.44 L103.14,104.44 L104.10,104.44 L105.06,104.20 L106.05,103.57 L107.04,102.60 L108.05,101.40 L109.06,100.08 L110.06,98.76 L111.06,97.57 L112.05,96.63 L113.02,96.02 L113.98,95.81 L114.93,95.81 L115.88,95.81 L116.83,95.81 L117.78,95.80 L118.74,95.48 L119.71,94.71 L120.70,93.55 L121.70,92.13 L122.69,90.58 L123.69,89.05 L124.67,87.69 L125.65,86.62 L126.61,85.96 L127.56,85.75 L128.50,85.75 L129.45,85.75 L130.39,85.75 L131.33,85.90 L132.25,86.51 L133.17,87.52 L134.08,88.85 L134.99,90.36 L135.90,91.92 L136.82,93.37 L137.74,94.56 L138.67,95.40 L139.61,95.78 L140.56,95.81 L141.51,95.81 L142.46,95.81 L143.41,95.81 L144.35,95.97 L145.29,96.52 L146.23,97.42 L147.16,98.58 L148.10,99.89 L149.03,101.22 L149.97,102.45 L150.91,103.45 L151.86,104.14 L152.81,104.43 L153.76,104.44 L154.72,104.44 L155.67,104.44 L156.63,104.39 L157.59,103.97 L158.55,103.18 L159.51,102.10 L160.47,100.82 L161.42,99.48 L162.38,98.21 L163.34,97.12 L164.29,96.31 L165.24,95.88 L166.19,95.81 L167.14,95.81 L168.09,95.81 L169.03,95.81 L169.98,95.72 L170.93,95.19 L171.88,94.24 L172.82,92.95 L173.76,91.45 L174.70,89.89 L175.64,88.42 L176.57,87.18 L177.51,86.28 L178.45,85.81 L179.39,85.75 L180.33,85.75 L181.27,85.75 L182.22,85.76 L183.16,86.11 L184.12,86.91 L185.07,88.08 L186.04,89.50 L187.00,91.05 L187.97,92.58 L188.94,93.93 L189.90,94.98 L190.86,95.63 L191.82,95.81 L192.76,95.81 L193.71,95.81 L194.66,95.81 L195.61,95.83 L196.57,96.17 L197.53,96.88 L198.51,97.91 L199.49,99.15 L200.47,100.48 L201.45,101.78 L202.43,102.93 L203.41,103.80 L204.38,104.32 L205.34,104.44 L206.29,104.44 L207.25,104.44 L208.20,104.44 L209.15,104.25 L210.09,103.66 L211.01,102.73 L211.93,101.55 L212.84,100.23 L213.75,98.91 L214.66,97.70 L215.58,96.72 L216.50,96.07 L217.44,95.81 L218.39,95.81 L219.34,95.81 L220.29,95.81 L221.24,95.81 L222.18,95.54 L223.10,94.82 L224.00,93.70 L224.89,92.30 L225.77,90.76 L226.65,89.22 L227.54,87.84 L228.43,86.73 L229.34,86.01 L230.28,85.75 L231.22,85.75 L232.16,85.75 L233.10,85.75 L234.05,85.86 L235.02,86.41 L236.01,87.38 L237.02,88.68 L238.04,90.18 L239.07,91.74 L240.09,93.21 L241.10,94.44 L242.10,95.32 L243.07,95.76 L244.02,95.81 L244.97,95.81 L245.92,95.81 L246.87,95.81 L247.82,95.93 L248.80,96.44 L249.80,97.30 L250.82,98.44 L251.85,99.73 L252.89,101.07 L253.92,102.31 L254.93,103.35 L255.93,104.08 L256.91,104.42 L257.87,104.44 L258.82,104.44 L259.78,104.44 L260.73,104.41 L261.66,104.04 L262.56,103.29 L263.45,102.23 L264.31,100.98 L265.17,99.64 L266.03,98.35 L266.90,97.23 L267.79,96.39 L268.71,95.91 L269.65,95.81 L270.60,95.81 L271.55,95.81 L272.50,95.81 L273.44,95.75 L274.35,95.27 L275.23,94.37 L276.08,93.11 L276.91,91.63 L277.74,90.07 L278.56,88.58 L279.40,87.30 L280.27,86.36 L281.17,85.84 L282.10,85.75 L283.05,85.75 L283.99,85.75 L284.93,85.75 L285.90,86.05 L286.91,86.80 L287.95,87.93 L289.01,89.33 L290.10,90.87 L291.18,92.41 L292.25,93.79 L293.30,94.88 L294.31,95.58 L295.28,95.81 L296.23,95.81 L297.18,95.81 L298.13,95.81 L299.07,95.81 L300.02,95.81 L300.97,95.81 L301.92,95.81 L302.87,95.81 L303.82,95.81 L304.77,95.81 L305.72,95.81 L306.67,95.81 L307.62,95.81 L308.57,95.81 L309.52,95.81 L310.46,95.81" fill="none" stroke="#a0401c" stroke-width="3.7" stroke-linecap="round" stroke-linejoin="round"/>
<path d="M25.71,95.81 L26.66,95.81 L27.60,95.81 L28.55,95.81 L29.50,95.81 L30.45,95.81 L31.40,95.81 L32.35,95.81 L33.30,95.81 L34.25,95.81 L35.20,95.81 L36.15,95.81 L37.10,95.81 L38.05,95.81 L39.00,95.81 L39.94,95.81 L40.87,96.01 L41.77,96.61 L42.64,97.54 L43.48,98.73 L44.32,100.04 L45.15,101.37 L46.00,102.58 L46.87,103.55 L47.77,104.19 L48.70,104.44 L49.66,104.44 L50.61,104.44 L51.57,104.44 L52.53,104.36 L53.52,103.89 L54.54,103.07 L55.59,101.96 L56.64,100.67 L57.70,99.33 L58.75,98.07 L59.78,97.01 L60.79,96.24 L61.77,95.85 L62.72,95.81 L63.67,95.81 L64.62,95.81 L65.57,95.81 L66.53,95.68 L67.52,95.10 L68.54,94.10 L69.58,92.78 L70.64,91.27 L71.69,89.72 L72.73,88.26 L73.76,87.05 L74.76,86.20 L75.73,85.78 L76.68,85.75 L77.62,85.75 L78.56,85.75 L79.50,85.78 L80.42,86.18 L81.31,87.03 L82.18,88.23 L83.03,89.68 L83.88,91.23 L84.74,92.75 L85.61,94.07 L86.50,95.08 L87.41,95.67 L88.35,95.81 L89.30,95.81 L90.25,95.81 L91.20,95.81 L92.15,95.85 L93.08,96.23 L93.99,96.99 L94.88,98.04 L95.77,99.30 L96.65,100.64 L97.54,101.93 L98.44,103.04 L99.35,103.88 L100.28,104.35 L101.23,104.44 L102.19,104.44 L103.14,104.44 L104.10,104.44 L105.06,104.20 L106.05,103.57 L107.04,102.60 L108.05,101.40 L109.06,100.08 L110.06,98.76 L111.06,97.57 L112.05,96.63 L113.02,96.02 L113.98,95.81 L114.93,95.81 L115.88,95.81 L116.83,95.81 L117.78,95.80 L118.74,95.48 L119.71,94.71 L120.70,93.55 L121.70,92.13 L122.69,90.58 L123.69,89.05 L124.67,87.69 L125.65,86.62 L126.61,85.96 L127.56,85.75 L128.50,85.75 L129.45,85.75 L130.39,85.75 L131.33,85.90 L132.25,86.51 L133.17,87.52 L134.08,88.85 L134.99,90.36 L135.90,91.92 L136.82,93.37 L137.74,94.56 L138.67,95.40 L139.61,95.78 L140.56,95.81 L141.51,95.81 L142.46,95.81 L143.41,95.81 L144.35,95.97 L145.29,96.52 L146.23,97.42 L147.16,98.58 L148.10,99.89 L149.03,101.22 L149.97,102.45 L150.91,103.45 L151.86,104.14 L152.81,104.43 L153.76,104.44 L154.72,104.44 L155.67,104.44 L156.63,104.39 L157.59,103.97 L158.55,103.18 L159.51,102.10 L160.47,100.82 L161.42,99.48 L162.38,98.21 L163.34,97.12 L164.29,96.31 L165.24,95.88 L166.19,95.81 L167.14,95.81 L168.09,95.81 L169.03,95.81 L169.98,95.72 L170.93,95.19 L171.88,94.24 L172.82,92.95 L173.76,91.45 L174.70,89.89 L175.64,88.42 L176.57,87.18 L177.51,86.28 L178.45,85.81 L179.39,85.75 L180.33,85.75 L181.27,85.75 L182.22,85.76 L183.16,86.11 L184.12,86.91 L185.07,88.08 L186.04,89.50 L187.00,91.05 L187.97,92.58 L188.94,93.93 L189.90,94.98 L190.86,95.63 L191.82,95.81 L192.76,95.81 L193.71,95.81 L194.66,95.81 L195.61,95.83 L196.57,96.17 L197.53,96.88 L198.51,97.91 L199.49,99.15 L200.47,100.48 L201.45,101.78 L202.43,102.93 L203.41,103.80 L204.38,104.32 L205.34,104.44 L206.29,104.44 L207.25,104.44 L208.20,104.44 L209.15,104.25 L210.09,103.66 L211.01,102.73 L211.93,101.55 L212.84,100.23 L213.75,98.91 L214.66,97.70 L215.58,96.72 L216.50,96.07 L217.44,95.81 L218.39,95.81 L219.34,95.81 L220.29,95.81 L221.24,95.81 L222.18,95.54 L223.10,94.82 L224.00,93.70 L224.89,92.30 L225.77,90.76 L226.65,89.22 L227.54,87.84 L228.43,86.73 L229.34,86.01 L230.28,85.75 L231.22,85.75 L232.16,85.75 L233.10,85.75 L234.05,85.86 L235.02,86.41 L236.01,87.38 L237.02,88.68 L238.04,90.18 L239.07,91.74 L240.09,93.21 L241.10,94.44 L242.10,95.32 L243.07,95.76 L244.02,95.81 L244.97,95.81 L245.92,95.81 L246.87,95.81 L247.82,95.93 L248.80,96.44 L249.80,97.30 L250.82,98.44 L251.85,99.73 L252.89,101.07 L253.92,102.31 L254.93,103.35 L255.93,104.08 L256.91,104.42 L257.87,104.44 L258.82,104.44 L259.78,104.44 L260.73,104.41 L261.66,104.04 L262.56,103.29 L263.45,102.23 L264.31,100.98 L265.17,99.64 L266.03,98.35 L266.90,97.23 L267.79,96.39 L268.71,95.91 L269.65,95.81 L270.60,95.81 L271.55,95.81 L272.50,95.81 L273.44,95.75 L274.35,95.27 L275.23,94.37 L276.08,93.11 L276.91,91.63 L277.74,90.07 L278.56,88.58 L279.40,87.30 L280.27,86.36 L281.17,85.84 L282.10,85.75 L283.05,85.75 L283.99,85.75 L284.93,85.75 L285.90,86.05 L286.91,86.80 L287.95,87.93 L289.01,89.33 L290.10,90.87 L291.18,92.41 L292.25,93.79 L293.30,94.88 L294.31,95.58 L295.28,95.81 L296.23,95.81 L297.18,95.81 L298.13,95.81 L299.07,95.81 L300.02,95.81 L300.97,95.81 L301.92,95.81 L302.87,95.81 L303.82,95.81 L304.77,95.81 L305.72,95.81 L306.67,95.81 L307.62,95.81 L308.57,95.81 L309.52,95.81 L310.46,95.81" fill="none" stroke="#dc5b2c" stroke-width="2.3" stroke-linecap="round" stroke-linejoin="round"/>
<path d="M25.71,95.81 L26.66,95.81 L27.60,95.81 L28.55,95.81 L29.50,95.81 L30.45,95.81 L31.40,95.81 L32.35,95.81 L33.30,95.81 L34.25,95.81 L35.20,95.81 L36.15,95.81 L37.10,95.81 L38.05,95.81 L39.00,95.81 L39.94,95.81 L40.87,96.01 L41.77,96.61 L42.64,97.54 L43.48,98.73 L44.32,100.04 L45.15,101.37 L46.00,102.58 L46.87,103.55 L47.77,104.19 L48.70,104.44 L49.66,104.44 L50.61,104.44 L51.57,104.44 L52.53,104.36 L53.52,103.89 L54.54,103.07 L55.59,101.96 L56.64,100.67 L57.70,99.33 L58.75,98.07 L59.78,97.01 L60.79,96.24 L61.77,95.85 L62.72,95.81 L63.67,95.81 L64.62,95.81 L65.57,95.81 L66.53,95.68 L67.52,95.10 L68.54,94.10 L69.58,92.78 L70.64,91.27 L71.69,89.72 L72.73,88.26 L73.76,87.05 L74.76,86.20 L75.73,85.78 L76.68,85.75 L77.62,85.75 L78.56,85.75 L79.50,85.78 L80.42,86.18 L81.31,87.03 L82.18,88.23 L83.03,89.68 L83.88,91.23 L84.74,92.75 L85.61,94.07 L86.50,95.08 L87.41,95.67 L88.35,95.81 L89.30,95.81 L90.25,95.81 L91.20,95.81 L92.15,95.85 L93.08,96.23 L93.99,96.99 L94.88,98.04 L95.77,99.30 L96.65,100.64 L97.54,101.93 L98.44,103.04 L99.35,103.88 L100.28,104.35 L101.23,104.44 L102.19,104.44 L103.14,104.44 L104.10,104.44 L105.06,104.20 L106.05,103.57 L107.04,102.60 L108.05,101.40 L109.06,100.08 L110.06,98.76 L111.06,97.57 L112.05,96.63 L113.02,96.02 L113.98,95.81 L114.93,95.81 L115.88,95.81 L116.83,95.81 L117.78,95.80 L118.74,95.48 L119.71,94.71 L120.70,93.55 L121.70,92.13 L122.69,90.58 L123.69,89.05 L124.67,87.69 L125.65,86.62 L126.61,85.96 L127.56,85.75 L128.50,85.75 L129.45,85.75 L130.39,85.75 L131.33,85.90 L132.25,86.51 L133.17,87.52 L134.08,88.85 L134.99,90.36 L135.90,91.92 L136.82,93.37 L137.74,94.56 L138.67,95.40 L139.61,95.78 L140.56,95.81 L141.51,95.81 L142.46,95.81 L143.41,95.81 L144.35,95.97 L145.29,96.52 L146.23,97.42 L147.16,98.58 L148.10,99.89 L149.03,101.22 L149.97,102.45 L150.91,103.45 L151.86,104.14 L152.81,104.43 L153.76,104.44 L154.72,104.44 L155.67,104.44 L156.63,104.39 L157.59,103.97 L158.55,103.18 L159.51,102.10 L160.47,100.82 L161.42,99.48 L162.38,98.21 L163.34,97.12 L164.29,96.31 L165.24,95.88 L166.19,95.81 L167.14,95.81 L168.09,95.81 L169.03,95.81 L169.98,95.72 L170.93,95.19 L171.88,94.24 L172.82,92.95 L173.76,91.45 L174.70,89.89 L175.64,88.42 L176.57,87.18 L177.51,86.28 L178.45,85.81 L179.39,85.75 L180.33,85.75 L181.27,85.75 L182.22,85.76 L183.16,86.11 L184.12,86.91 L185.07,88.08 L186.04,89.50 L187.00,91.05 L187.97,92.58 L188.94,93.93 L189.90,94.98 L190.86,95.63 L191.82,95.81 L192.76,95.81 L193.71,95.81 L194.66,95.81 L195.61,95.83 L196.57,96.17 L197.53,96.88 L198.51,97.91 L199.49,99.15 L200.47,100.48 L201.45,101.78 L202.43,102.93 L203.41,103.80 L204.38,104.32 L205.34,104.44 L206.29,104.44 L207.25,104.44 L208.20,104.44 L209.15,104.25 L210.09,103.66 L211.01,102.73 L211.93,101.55 L212.84,100.23 L213.75,98.91 L214.66,97.70 L215.58,96.72 L216.50,96.07 L217.44,95.81 L218.39,95.81 L219.34,95.81 L220.29,95.81 L221.24,95.81 L222.18,95.54 L223.10,94.82 L224.00,93.70 L224.89,92.30 L225.77,90.76 L226.65,89.22 L227.54,87.84 L228.43,86.73 L229.34,86.01 L230.28,85.75 L231.22,85.75 L232.16,85.75 L233.10,85.75 L234.05,85.86 L235.02,86.41 L236.01,87.38 L237.02,88.68 L238.04,90.18 L239.07,91.74 L240.09,93.21 L241.10,94.44 L242.10,95.32 L243.07,95.76 L244.02,95.81 L244.97,95.81 L245.92,95.81 L246.87,95.81 L247.82,95.93 L248.80,96.44 L249.80,97.30 L250.82,98.44 L251.85,99.73 L252.89,101.07 L253.92,102.31 L254.93,103.35 L255.93,104.08 L256.91,104.42 L257.87,104.44 L258.82,104.44 L259.78,104.44 L260.73,104.41 L261.66,104.04 L262.56,103.29 L263.45,102.23 L264.31,100.98 L265.17,99.64 L266.03,98.35 L266.90,97.23 L267.79,96.39 L268.71,95.91 L269.65,95.81 L270.60,95.81 L271.55,95.81 L272.50,95.81 L273.44,95.75 L274.35,95.27 L275.23,94.37 L276.08,93.11 L276.91,91.63 L277.74,90.07 L278.56,88.58 L279.40,87.30 L280.27,86.36 L281.17,85.84 L282.10,85.75 L283.05,85.75 L283.99,85.75 L284.93,85.75 L285.90,86.05 L286.91,86.80 L287.95,87.93 L289.01,89.33 L290.10,90.87 L291.18,92.41 L292.25,93.79 L293.30,94.88 L294.31,95.58 L295.28,95.81 L296.23,95.81 L297.18,95.81 L298.13,95.81 L299.07,95.81 L300.02,95.81 L300.97,95.81 L301.92,95.81 L302.87,95.81 L303.82,95.81 L304.77,95.81 L305.72,95.81 L306.67,95.81 L307.62,95.81 L308.57,95.81 L309.52,95.81 L310.46,95.81" fill="none" stroke="#ee8656" stroke-width="0.8" stroke-linecap="round" stroke-linejoin="round" transform="translate(0,-0.4)"/>
<path d="M23.30,118.34 L24.27,118.34 L25.23,118.34 L26.20,118.34 L27.16,118.34 L28.13,118.34 L29.09,118.34 L30.06,118.34 L31.03,118.34 L31.99,118.34 L32.96,118.34 L33.92,118.34 L34.89,118.34 L35.85,118.34 L36.82,118.34 L37.78,118.34 L38.77,118.13 L39.80,117.45 L40.86,116.34 L41.95,114.93 L43.05,113.35 L44.16,111.75 L45.24,110.29 L46.31,109.10 L47.34,108.30 L48.32,107.96 L49.28,107.95 L50.24,107.95 L51.20,107.95 L52.15,108.03 L53.07,108.54 L53.95,109.50 L54.80,110.80 L55.64,112.33 L56.48,113.94 L57.32,115.48 L58.18,116.79 L59.07,117.75 L60.00,118.27 L60.96,118.34 L61.92,118.34 L62.89,118.34 L63.85,118.34 L64.81,118.43 L65.74,118.91 L66.65,119.77 L67.53,120.91 L68.41,122.24 L69.28,123.63 L70.16,124.93 L71.06,126.03 L71.97,126.82 L72.92,127.22 L73.89,127.26 L74.86,127.26 L75.83,127.26 L76.80,127.24 L77.80,126.89 L78.81,126.16 L79.85,125.09 L80.90,123.81 L81.95,122.43 L83.00,121.09 L84.04,119.91 L85.06,119.01 L86.05,118.47 L87.03,118.34 L87.99,118.34 L88.96,118.34 L89.92,118.34 L90.89,118.30 L91.88,117.85 L92.89,116.95 L93.93,115.67 L94.97,114.16 L96.01,112.55 L97.05,111.00 L98.08,109.65 L99.09,108.65 L100.07,108.07 L101.04,107.95 L102.00,107.95 L102.95,107.95 L103.91,107.95 L104.86,108.22 L105.79,108.96 L106.69,110.11 L107.59,111.54 L108.49,113.13 L109.38,114.73 L110.29,116.17 L111.21,117.32 L112.14,118.07 L113.10,118.34 L114.06,118.34 L115.03,118.34 L115.99,118.34 L116.96,118.34 L117.91,118.62 L118.86,119.30 L119.79,120.31 L120.71,121.56 L121.64,122.93 L122.56,124.29 L123.49,125.51 L124.44,126.47 L125.39,127.07 L126.36,127.26 L127.33,127.26 L128.30,127.26 L129.27,127.26 L130.25,127.12 L131.23,126.57 L132.23,125.66 L133.22,124.48 L134.23,123.13 L135.23,121.75 L136.22,120.47 L137.21,119.42 L138.19,118.69 L139.17,118.36 L140.13,118.34 L141.10,118.34 L142.06,118.34 L143.03,118.34 L144.00,118.14 L144.97,117.45 L145.96,116.35 L146.94,114.94 L147.93,113.36 L148.91,111.76 L149.89,110.30 L150.86,109.10 L151.83,108.30 L152.79,107.96 L153.75,107.95 L154.71,107.95 L155.67,107.95 L156.63,108.03 L157.58,108.54 L158.53,109.49 L159.49,110.79 L160.44,112.32 L161.39,113.93 L162.35,115.47 L163.31,116.79 L164.27,117.75 L165.24,118.27 L166.20,118.34 L167.17,118.34 L168.13,118.34 L169.10,118.34 L170.06,118.43 L171.03,118.91 L172.00,119.76 L172.97,120.91 L173.94,122.23 L174.92,123.62 L175.90,124.92 L176.87,126.02 L177.85,126.81 L178.82,127.21 L179.80,127.26 L180.77,127.26 L181.74,127.26 L182.71,127.24 L183.68,126.90 L184.64,126.16 L185.60,125.10 L186.55,123.82 L187.50,122.44 L188.45,121.09 L189.40,119.91 L190.35,119.01 L191.31,118.47 L192.27,118.34 L193.24,118.34 L194.20,118.34 L195.17,118.34 L196.13,118.30 L197.09,117.85 L198.03,116.95 L198.97,115.68 L199.90,114.17 L200.82,112.56 L201.75,111.01 L202.68,109.66 L203.61,108.65 L204.55,108.07 L205.51,107.95 L206.47,107.95 L207.43,107.95 L208.38,107.95 L209.35,108.22 L210.33,108.96 L211.33,110.10 L212.33,111.53 L213.34,113.12 L214.36,114.72 L215.37,116.16 L216.37,117.31 L217.37,118.06 L218.34,118.34 L219.31,118.34 L220.27,118.34 L221.24,118.34 L222.20,118.34 L223.18,118.62 L224.17,119.29 L225.18,120.30 L226.20,121.55 L227.22,122.92 L228.25,124.28 L229.27,125.50 L230.29,126.46 L231.28,127.06 L232.26,127.26 L233.24,127.26 L234.21,127.26 L235.18,127.26 L236.14,127.12 L237.09,126.58 L238.02,125.67 L238.93,124.48 L239.83,123.14 L240.73,121.76 L241.63,120.48 L242.54,119.43 L243.46,118.70 L244.41,118.36 L245.38,118.34 L246.34,118.34 L247.31,118.34 L248.27,118.34 L249.23,118.14 L250.15,117.46 L251.05,116.36 L251.93,114.95 L252.80,113.37 L253.66,111.77 L254.53,110.30 L255.42,109.11 L256.33,108.30 L257.26,107.96 L258.22,107.95 L259.18,107.95 L260.14,107.95 L261.10,108.02 L262.10,108.53 L263.12,109.48 L264.17,110.78 L265.23,112.31 L266.31,113.92 L267.38,115.46 L268.44,116.78 L269.47,117.74 L270.48,118.26 L271.45,118.34 L272.41,118.34 L273.38,118.34 L274.34,118.34 L275.32,118.43 L276.32,118.90 L277.35,119.75 L278.41,120.90 L279.48,122.22 L280.56,123.61 L281.63,124.91 L282.69,126.02 L283.72,126.81 L284.73,127.21 L285.70,127.26 L286.68,127.26 L287.65,127.26 L288.62,127.24 L289.56,126.90 L290.47,126.17 L291.35,125.11 L292.20,123.83 L293.05,122.45 L293.90,121.10 L294.76,119.92 L295.65,119.02 L296.56,118.48 L297.52,118.34 L298.48,118.34 L299.45,118.34 L300.41,118.34 L301.38,118.34 L302.34,118.34 L303.31,118.34 L304.27,118.34 L305.24,118.34 L306.21,118.34 L307.17,118.34 L308.14,118.34 L309.10,118.34 L310.07,118.34 L311.03,118.34 L312.00,118.34 L312.96,118.34" fill="none" stroke="#a0401c" stroke-width="3.7" stroke-linecap="round" stroke-linejoin="round"/>
<path d="M23.30,118.34 L24.27,118.34 L25.23,118.34 L26.20,118.34 L27.16,118.34 L28.13,118.34 L29.09,118.34 L30.06,118.34 L31.03,118.34 L31.99,118.34 L32.96,118.34 L33.92,118.34 L34.89,118.34 L35.85,118.34 L36.82,118.34 L37.78,118.34 L38.77,118.13 L39.80,117.45 L40.86,116.34 L41.95,114.93 L43.05,113.35 L44.16,111.75 L45.24,110.29 L46.31,109.10 L47.34,108.30 L48.32,107.96 L49.28,107.95 L50.24,107.95 L51.20,107.95 L52.15,108.03 L53.07,108.54 L53.95,109.50 L54.80,110.80 L55.64,112.33 L56.48,113.94 L57.32,115.48 L58.18,116.79 L59.07,117.75 L60.00,118.27 L60.96,118.34 L61.92,118.34 L62.89,118.34 L63.85,118.34 L64.81,118.43 L65.74,118.91 L66.65,119.77 L67.53,120.91 L68.41,122.24 L69.28,123.63 L70.16,124.93 L71.06,126.03 L71.97,126.82 L72.92,127.22 L73.89,127.26 L74.86,127.26 L75.83,127.26 L76.80,127.24 L77.80,126.89 L78.81,126.16 L79.85,125.09 L80.90,123.81 L81.95,122.43 L83.00,121.09 L84.04,119.91 L85.06,119.01 L86.05,118.47 L87.03,118.34 L87.99,118.34 L88.96,118.34 L89.92,118.34 L90.89,118.30 L91.88,117.85 L92.89,116.95 L93.93,115.67 L94.97,114.16 L96.01,112.55 L97.05,111.00 L98.08,109.65 L99.09,108.65 L100.07,108.07 L101.04,107.95 L102.00,107.95 L102.95,107.95 L103.91,107.95 L104.86,108.22 L105.79,108.96 L106.69,110.11 L107.59,111.54 L108.49,113.13 L109.38,114.73 L110.29,116.17 L111.21,117.32 L112.14,118.07 L113.10,118.34 L114.06,118.34 L115.03,118.34 L115.99,118.34 L116.96,118.34 L117.91,118.62 L118.86,119.30 L119.79,120.31 L120.71,121.56 L121.64,122.93 L122.56,124.29 L123.49,125.51 L124.44,126.47 L125.39,127.07 L126.36,127.26 L127.33,127.26 L128.30,127.26 L129.27,127.26 L130.25,127.12 L131.23,126.57 L132.23,125.66 L133.22,124.48 L134.23,123.13 L135.23,121.75 L136.22,120.47 L137.21,119.42 L138.19,118.69 L139.17,118.36 L140.13,118.34 L141.10,118.34 L142.06,118.34 L143.03,118.34 L144.00,118.14 L144.97,117.45 L145.96,116.35 L146.94,114.94 L147.93,113.36 L148.91,111.76 L149.89,110.30 L150.86,109.10 L151.83,108.30 L152.79,107.96 L153.75,107.95 L154.71,107.95 L155.67,107.95 L156.63,108.03 L157.58,108.54 L158.53,109.49 L159.49,110.79 L160.44,112.32 L161.39,113.93 L162.35,115.47 L163.31,116.79 L164.27,117.75 L165.24,118.27 L166.20,118.34 L167.17,118.34 L168.13,118.34 L169.10,118.34 L170.06,118.43 L171.03,118.91 L172.00,119.76 L172.97,120.91 L173.94,122.23 L174.92,123.62 L175.90,124.92 L176.87,126.02 L177.85,126.81 L178.82,127.21 L179.80,127.26 L180.77,127.26 L181.74,127.26 L182.71,127.24 L183.68,126.90 L184.64,126.16 L185.60,125.10 L186.55,123.82 L187.50,122.44 L188.45,121.09 L189.40,119.91 L190.35,119.01 L191.31,118.47 L192.27,118.34 L193.24,118.34 L194.20,118.34 L195.17,118.34 L196.13,118.30 L197.09,117.85 L198.03,116.95 L198.97,115.68 L199.90,114.17 L200.82,112.56 L201.75,111.01 L202.68,109.66 L203.61,108.65 L204.55,108.07 L205.51,107.95 L206.47,107.95 L207.43,107.95 L208.38,107.95 L209.35,108.22 L210.33,108.96 L211.33,110.10 L212.33,111.53 L213.34,113.12 L214.36,114.72 L215.37,116.16 L216.37,117.31 L217.37,118.06 L218.34,118.34 L219.31,118.34 L220.27,118.34 L221.24,118.34 L222.20,118.34 L223.18,118.62 L224.17,119.29 L225.18,120.30 L226.20,121.55 L227.22,122.92 L228.25,124.28 L229.27,125.50 L230.29,126.46 L231.28,127.06 L232.26,127.26 L233.24,127.26 L234.21,127.26 L235.18,127.26 L236.14,127.12 L237.09,126.58 L238.02,125.67 L238.93,124.48 L239.83,123.14 L240.73,121.76 L241.63,120.48 L242.54,119.43 L243.46,118.70 L244.41,118.36 L245.38,118.34 L246.34,118.34 L247.31,118.34 L248.27,118.34 L249.23,118.14 L250.15,117.46 L251.05,116.36 L251.93,114.95 L252.80,113.37 L253.66,111.77 L254.53,110.30 L255.42,109.11 L256.33,108.30 L257.26,107.96 L258.22,107.95 L259.18,107.95 L260.14,107.95 L261.10,108.02 L262.10,108.53 L263.12,109.48 L264.17,110.78 L265.23,112.31 L266.31,113.92 L267.38,115.46 L268.44,116.78 L269.47,117.74 L270.48,118.26 L271.45,118.34 L272.41,118.34 L273.38,118.34 L274.34,118.34 L275.32,118.43 L276.32,118.90 L277.35,119.75 L278.41,120.90 L279.48,122.22 L280.56,123.61 L281.63,124.91 L282.69,126.02 L283.72,126.81 L284.73,127.21 L285.70,127.26 L286.68,127.26 L287.65,127.26 L288.62,127.24 L289.56,126.90 L290.47,126.17 L291.35,125.11 L292.20,123.83 L293.05,122.45 L293.90,121.10 L294.76,119.92 L295.65,119.02 L296.56,118.48 L297.52,118.34 L298.48,118.34 L299.45,118.34 L300.41,118.34 L301.38,118.34 L302.34,118.34 L303.31,118.34 L304.27,118.34 L305.24,118.34 L306.21,118.34 L307.17,118.34 L308.14,118.34 L309.10,118.34 L310.07,118.34 L311.03,118.34 L312.00,118.34 L312.96,118.34" fill="none" stroke="#dc5b2c" stroke-width="2.3" stroke-linecap="round" stroke-linejoin="round"/>
<path d="M23.30,118.34 L24.27,118.34 L25.23,118.34 L26.20,118.34 L27.16,118.34 L28.13,118.34 L29.09,118.34 L30.06,118.34 L31.03,118.34 L31.99,118.34 L32.96,118.34 L33.92,118.34 L34.89,118.34 L35.85,118.34 L36.82,118.34 L37.78,118.34 L38.77,118.13 L39.80,117.45 L40.86,116.34 L41.95,114.93 L43.05,113.35 L44.16,111.75 L45.24,110.29 L46.31,109.10 L47.34,108.30 L48.32,107.96 L49.28,107.95 L50.24,107.95 L51.20,107.95 L52.15,108.03 L53.07,108.54 L53.95,109.50 L54.80,110.80 L55.64,112.33 L56.48,113.94 L57.32,115.48 L58.18,116.79 L59.07,117.75 L60.00,118.27 L60.96,118.34 L61.92,118.34 L62.89,118.34 L63.85,118.34 L64.81,118.43 L65.74,118.91 L66.65,119.77 L67.53,120.91 L68.41,122.24 L69.28,123.63 L70.16,124.93 L71.06,126.03 L71.97,126.82 L72.92,127.22 L73.89,127.26 L74.86,127.26 L75.83,127.26 L76.80,127.24 L77.80,126.89 L78.81,126.16 L79.85,125.09 L80.90,123.81 L81.95,122.43 L83.00,121.09 L84.04,119.91 L85.06,119.01 L86.05,118.47 L87.03,118.34 L87.99,118.34 L88.96,118.34 L89.92,118.34 L90.89,118.30 L91.88,117.85 L92.89,116.95 L93.93,115.67 L94.97,114.16 L96.01,112.55 L97.05,111.00 L98.08,109.65 L99.09,108.65 L100.07,108.07 L101.04,107.95 L102.00,107.95 L102.95,107.95 L103.91,107.95 L104.86,108.22 L105.79,108.96 L106.69,110.11 L107.59,111.54 L108.49,113.13 L109.38,114.73 L110.29,116.17 L111.21,117.32 L112.14,118.07 L113.10,118.34 L114.06,118.34 L115.03,118.34 L115.99,118.34 L116.96,118.34 L117.91,118.62 L118.86,119.30 L119.79,120.31 L120.71,121.56 L121.64,122.93 L122.56,124.29 L123.49,125.51 L124.44,126.47 L125.39,127.07 L126.36,127.26 L127.33,127.26 L128.30,127.26 L129.27,127.26 L130.25,127.12 L131.23,126.57 L132.23,125.66 L133.22,124.48 L134.23,123.13 L135.23,121.75 L136.22,120.47 L137.21,119.42 L138.19,118.69 L139.17,118.36 L140.13,118.34 L141.10,118.34 L142.06,118.34 L143.03,118.34 L144.00,118.14 L144.97,117.45 L145.96,116.35 L146.94,114.94 L147.93,113.36 L148.91,111.76 L149.89,110.30 L150.86,109.10 L151.83,108.30 L152.79,107.96 L153.75,107.95 L154.71,107.95 L155.67,107.95 L156.63,108.03 L157.58,108.54 L158.53,109.49 L159.49,110.79 L160.44,112.32 L161.39,113.93 L162.35,115.47 L163.31,116.79 L164.27,117.75 L165.24,118.27 L166.20,118.34 L167.17,118.34 L168.13,118.34 L169.10,118.34 L170.06,118.43 L171.03,118.91 L172.00,119.76 L172.97,120.91 L173.94,122.23 L174.92,123.62 L175.90,124.92 L176.87,126.02 L177.85,126.81 L178.82,127.21 L179.80,127.26 L180.77,127.26 L181.74,127.26 L182.71,127.24 L183.68,126.90 L184.64,126.16 L185.60,125.10 L186.55,123.82 L187.50,122.44 L188.45,121.09 L189.40,119.91 L190.35,119.01 L191.31,118.47 L192.27,118.34 L193.24,118.34 L194.20,118.34 L195.17,118.34 L196.13,118.30 L197.09,117.85 L198.03,116.95 L198.97,115.68 L199.90,114.17 L200.82,112.56 L201.75,111.01 L202.68,109.66 L203.61,108.65 L204.55,108.07 L205.51,107.95 L206.47,107.95 L207.43,107.95 L208.38,107.95 L209.35,108.22 L210.33,108.96 L211.33,110.10 L212.33,111.53 L213.34,113.12 L214.36,114.72 L215.37,116.16 L216.37,117.31 L217.37,118.06 L218.34,118.34 L219.31,118.34 L220.27,118.34 L221.24,118.34 L222.20,118.34 L223.18,118.62 L224.17,119.29 L225.18,120.30 L226.20,121.55 L227.22,122.92 L228.25,124.28 L229.27,125.50 L230.29,126.46 L231.28,127.06 L232.26,127.26 L233.24,127.26 L234.21,127.26 L235.18,127.26 L236.14,127.12 L237.09,126.58 L238.02,125.67 L238.93,124.48 L239.83,123.14 L240.73,121.76 L241.63,120.48 L242.54,119.43 L243.46,118.70 L244.41,118.36 L245.38,118.34 L246.34,118.34 L247.31,118.34 L248.27,118.34 L249.23,118.14 L250.15,117.46 L251.05,116.36 L251.93,114.95 L252.80,113.37 L253.66,111.77 L254.53,110.30 L255.42,109.11 L256.33,108.30 L257.26,107.96 L258.22,107.95 L259.18,107.95 L260.14,107.95 L261.10,108.02 L262.10,108.53 L263.12,109.48 L264.17,110.78 L265.23,112.31 L266.31,113.92 L267.38,115.46 L268.44,116.78 L269.47,117.74 L270.48,118.26 L271.45,118.34 L272.41,118.34 L273.38,118.34 L274.34,118.34 L275.32,118.43 L276.32,118.90 L277.35,119.75 L278.41,120.90 L279.48,122.22 L280.56,123.61 L281.63,124.91 L282.69,126.02 L283.72,126.81 L284.73,127.21 L285.70,127.26 L286.68,127.26 L287.65,127.26 L288.62,127.24 L289.56,126.90 L290.47,126.17 L291.35,125.11 L292.20,123.83 L293.05,122.45 L293.90,121.10 L294.76,119.92 L295.65,119.02 L296.56,118.48 L297.52,118.34 L298.48,118.34 L299.45,118.34 L300.41,118.34 L301.38,118.34 L302.34,118.34 L303.31,118.34 L304.27,118.34 L305.24,118.34 L306.21,118.34 L307.17,118.34 L308.14,118.34 L309.10,118.34 L310.07,118.34 L311.03,118.34 L312.00,118.34 L312.96,118.34" fill="none" stroke="#ee8656" stroke-width="0.8" stroke-linecap="round" stroke-linejoin="round" transform="translate(0,-0.4)"/>
<path d="M20.82,141.61 L21.80,141.61 L22.78,141.61 L23.76,141.61 L24.75,141.61 L25.73,141.61 L26.71,141.61 L27.69,141.61 L28.68,141.61 L29.66,141.61 L30.64,141.61 L31.62,141.61 L32.61,141.61 L33.59,141.61 L34.57,141.61 L35.55,141.61 L36.52,141.76 L37.45,142.32 L38.35,143.26 L39.23,144.49 L40.09,145.88 L40.95,147.31 L41.82,148.63 L42.71,149.72 L43.63,150.47 L44.59,150.81 L45.58,150.83 L46.57,150.83 L47.56,150.83 L48.55,150.78 L49.58,150.35 L50.63,149.52 L51.71,148.37 L52.81,147.02 L53.91,145.59 L55.00,144.22 L56.07,143.04 L57.12,142.18 L58.14,141.70 L59.13,141.61 L60.11,141.61 L61.10,141.61 L62.08,141.61 L63.07,141.52 L64.09,140.97 L65.14,139.95 L66.22,138.58 L67.32,136.98 L68.41,135.32 L69.50,133.74 L70.56,132.41 L71.61,131.45 L72.61,130.94 L73.59,130.88 L74.57,130.88 L75.54,130.88 L76.52,130.90 L77.47,131.28 L78.39,132.14 L79.29,133.39 L80.17,134.92 L81.05,136.58 L81.93,138.20 L82.83,139.65 L83.74,140.76 L84.69,141.43 L85.66,141.61 L86.64,141.61 L87.62,141.61 L88.60,141.61 L89.59,141.64 L90.55,142.02 L91.49,142.80 L92.41,143.91 L93.33,145.24 L94.24,146.67 L95.16,148.06 L96.08,149.27 L97.03,150.18 L97.99,150.71 L98.97,150.83 L99.96,150.83 L100.95,150.83 L101.94,150.83 L102.94,150.60 L103.96,149.94 L104.99,148.92 L106.03,147.64 L107.08,146.23 L108.12,144.82 L109.16,143.54 L110.18,142.52 L111.19,141.86 L112.18,141.61 L113.17,141.61 L114.15,141.61 L115.13,141.61 L116.11,141.61 L117.11,141.28 L118.12,140.46 L119.14,139.23 L120.17,137.72 L121.20,136.06 L122.24,134.43 L123.26,132.97 L124.27,131.83 L125.27,131.11 L126.25,130.88 L127.22,130.88 L128.20,130.88 L129.17,130.88 L130.14,131.05 L131.10,131.70 L132.05,132.78 L132.99,134.21 L133.93,135.83 L134.87,137.49 L135.82,139.03 L136.77,140.31 L137.74,141.19 L138.71,141.59 L139.69,141.61 L140.67,141.61 L141.66,141.61 L142.64,141.61 L143.62,141.80 L144.59,142.40 L145.56,143.38 L146.52,144.62 L147.49,146.03 L148.46,147.45 L149.43,148.75 L150.40,149.81 L151.38,150.53 L152.37,150.82 L153.35,150.83 L154.34,150.83 L155.33,150.83 L156.32,150.76 L157.31,150.28 L158.31,149.42 L159.30,148.24 L160.30,146.87 L161.29,145.44 L162.28,144.09 L163.27,142.94 L164.25,142.11 L165.23,141.67 L166.22,141.61 L167.20,141.61 L168.18,141.61 L169.16,141.61 L170.15,141.49 L171.13,140.88 L172.11,139.83 L173.08,138.42 L174.05,136.81 L175.03,135.15 L175.99,133.59 L176.96,132.29 L177.93,131.37 L178.90,130.92 L179.88,130.88 L180.85,130.88 L181.83,130.88 L182.80,130.91 L183.78,131.35 L184.77,132.25 L185.76,133.53 L186.76,135.08 L187.76,136.75 L188.76,138.36 L189.77,139.78 L190.77,140.85 L191.76,141.48 L192.74,141.61 L193.73,141.61 L194.71,141.61 L195.69,141.61 L196.67,141.66 L197.66,142.08 L198.67,142.90 L199.67,144.04 L200.69,145.39 L201.71,146.82 L202.73,148.19 L203.74,149.38 L204.75,150.26 L205.76,150.74 L206.75,150.83 L207.74,150.83 L208.72,150.83 L209.71,150.83 L210.69,150.55 L211.66,149.85 L212.62,148.80 L213.56,147.50 L214.50,146.08 L215.44,144.68 L216.38,143.42 L217.33,142.44 L218.29,141.81 L219.27,141.61 L220.25,141.61 L221.23,141.61 L222.22,141.61 L223.20,141.60 L224.16,141.22 L225.11,140.35 L226.04,139.09 L226.96,137.55 L227.87,135.89 L228.78,134.27 L229.69,132.84 L230.62,131.73 L231.57,131.06 L232.53,130.88 L233.51,130.88 L234.48,130.88 L235.46,130.88 L236.44,131.09 L237.45,131.79 L238.49,132.92 L239.53,134.36 L240.60,136.00 L241.66,137.65 L242.72,139.18 L243.77,140.42 L244.79,141.25 L245.79,141.61 L246.78,141.61 L247.76,141.61 L248.74,141.61 L249.72,141.61 L250.72,141.84 L251.74,142.49 L252.78,143.49 L253.84,144.76 L254.91,146.17 L255.98,147.59 L257.05,148.88 L258.10,149.90 L259.13,150.58 L260.14,150.83 L261.13,150.83 L262.12,150.83 L263.10,150.83 L264.09,150.73 L265.04,150.21 L265.97,149.31 L266.87,148.11 L267.76,146.73 L268.65,145.30 L269.54,143.96 L270.44,142.84 L271.37,142.04 L272.32,141.65 L273.30,141.61 L274.28,141.61 L275.27,141.61 L276.25,141.61 L277.22,141.45 L278.15,140.80 L279.05,139.70 L279.92,138.27 L280.77,136.64 L281.62,134.98 L282.47,133.45 L283.34,132.18 L284.25,131.30 L285.19,130.90 L286.16,130.88 L287.14,130.88 L288.11,130.88 L289.09,130.94 L290.11,131.42 L291.17,132.36 L292.26,133.68 L293.37,135.25 L294.50,136.92 L295.62,138.52 L296.73,139.90 L297.80,140.94 L298.84,141.51 L299.83,141.61 L300.81,141.61 L301.79,141.61 L302.78,141.61 L303.76,141.61 L304.74,141.61 L305.72,141.61 L306.71,141.61 L307.69,141.61 L308.67,141.61 L309.65,141.61 L310.63,141.61 L311.62,141.61 L312.60,141.61 L313.58,141.61 L314.56,141.61 L315.55,141.61" fill="none" stroke="#a0401c" stroke-width="3.7" stroke-linecap="round" stroke-linejoin="round"/>
<path d="M20.82,141.61 L21.80,141.61 L22.78,141.61 L23.76,141.61 L24.75,141.61 L25.73,141.61 L26.71,141.61 L27.69,141.61 L28.68,141.61 L29.66,141.61 L30.64,141.61 L31.62,141.61 L32.61,141.61 L33.59,141.61 L34.57,141.61 L35.55,141.61 L36.52,141.76 L37.45,142.32 L38.35,143.26 L39.23,144.49 L40.09,145.88 L40.95,147.31 L41.82,148.63 L42.71,149.72 L43.63,150.47 L44.59,150.81 L45.58,150.83 L46.57,150.83 L47.56,150.83 L48.55,150.78 L49.58,150.35 L50.63,149.52 L51.71,148.37 L52.81,147.02 L53.91,145.59 L55.00,144.22 L56.07,143.04 L57.12,142.18 L58.14,141.70 L59.13,141.61 L60.11,141.61 L61.10,141.61 L62.08,141.61 L63.07,141.52 L64.09,140.97 L65.14,139.95 L66.22,138.58 L67.32,136.98 L68.41,135.32 L69.50,133.74 L70.56,132.41 L71.61,131.45 L72.61,130.94 L73.59,130.88 L74.57,130.88 L75.54,130.88 L76.52,130.90 L77.47,131.28 L78.39,132.14 L79.29,133.39 L80.17,134.92 L81.05,136.58 L81.93,138.20 L82.83,139.65 L83.74,140.76 L84.69,141.43 L85.66,141.61 L86.64,141.61 L87.62,141.61 L88.60,141.61 L89.59,141.64 L90.55,142.02 L91.49,142.80 L92.41,143.91 L93.33,145.24 L94.24,146.67 L95.16,148.06 L96.08,149.27 L97.03,150.18 L97.99,150.71 L98.97,150.83 L99.96,150.83 L100.95,150.83 L101.94,150.83 L102.94,150.60 L103.96,149.94 L104.99,148.92 L106.03,147.64 L107.08,146.23 L108.12,144.82 L109.16,143.54 L110.18,142.52 L111.19,141.86 L112.18,141.61 L113.17,141.61 L114.15,141.61 L115.13,141.61 L116.11,141.61 L117.11,141.28 L118.12,140.46 L119.14,139.23 L120.17,137.72 L121.20,136.06 L122.24,134.43 L123.26,132.97 L124.27,131.83 L125.27,131.11 L126.25,130.88 L127.22,130.88 L128.20,130.88 L129.17,130.88 L130.14,131.05 L131.10,131.70 L132.05,132.78 L132.99,134.21 L133.93,135.83 L134.87,137.49 L135.82,139.03 L136.77,140.31 L137.74,141.19 L138.71,141.59 L139.69,141.61 L140.67,141.61 L141.66,141.61 L142.64,141.61 L143.62,141.80 L144.59,142.40 L145.56,143.38 L146.52,144.62 L147.49,146.03 L148.46,147.45 L149.43,148.75 L150.40,149.81 L151.38,150.53 L152.37,150.82 L153.35,150.83 L154.34,150.83 L155.33,150.83 L156.32,150.76 L157.31,150.28 L158.31,149.42 L159.30,148.24 L160.30,146.87 L161.29,145.44 L162.28,144.09 L163.27,142.94 L164.25,142.11 L165.23,141.67 L166.22,141.61 L167.20,141.61 L168.18,141.61 L169.16,141.61 L170.15,141.49 L171.13,140.88 L172.11,139.83 L173.08,138.42 L174.05,136.81 L175.03,135.15 L175.99,133.59 L176.96,132.29 L177.93,131.37 L178.90,130.92 L179.88,130.88 L180.85,130.88 L181.83,130.88 L182.80,130.91 L183.78,131.35 L184.77,132.25 L185.76,133.53 L186.76,135.08 L187.76,136.75 L188.76,138.36 L189.77,139.78 L190.77,140.85 L191.76,141.48 L192.74,141.61 L193.73,141.61 L194.71,141.61 L195.69,141.61 L196.67,141.66 L197.66,142.08 L198.67,142.90 L199.67,144.04 L200.69,145.39 L201.71,146.82 L202.73,148.19 L203.74,149.38 L204.75,150.26 L205.76,150.74 L206.75,150.83 L207.74,150.83 L208.72,150.83 L209.71,150.83 L210.69,150.55 L211.66,149.85 L212.62,148.80 L213.56,147.50 L214.50,146.08 L215.44,144.68 L216.38,143.42 L217.33,142.44 L218.29,141.81 L219.27,141.61 L220.25,141.61 L221.23,141.61 L222.22,141.61 L223.20,141.60 L224.16,141.22 L225.11,140.35 L226.04,139.09 L226.96,137.55 L227.87,135.89 L228.78,134.27 L229.69,132.84 L230.62,131.73 L231.57,131.06 L232.53,130.88 L233.51,130.88 L234.48,130.88 L235.46,130.88 L236.44,131.09 L237.45,131.79 L238.49,132.92 L239.53,134.36 L240.60,136.00 L241.66,137.65 L242.72,139.18 L243.77,140.42 L244.79,141.25 L245.79,141.61 L246.78,141.61 L247.76,141.61 L248.74,141.61 L249.72,141.61 L250.72,141.84 L251.74,142.49 L252.78,143.49 L253.84,144.76 L254.91,146.17 L255.98,147.59 L257.05,148.88 L258.10,149.90 L259.13,150.58 L260.14,150.83 L261.13,150.83 L262.12,150.83 L263.10,150.83 L264.09,150.73 L265.04,150.21 L265.97,149.31 L266.87,148.11 L267.76,146.73 L268.65,145.30 L269.54,143.96 L270.44,142.84 L271.37,142.04 L272.32,141.65 L273.30,141.61 L274.28,141.61 L275.27,141.61 L276.25,141.61 L277.22,141.45 L278.15,140.80 L279.05,139.70 L279.92,138.27 L280.77,136.64 L281.62,134.98 L282.47,133.45 L283.34,132.18 L284.25,131.30 L285.19,130.90 L286.16,130.88 L287.14,130.88 L288.11,130.88 L289.09,130.94 L290.11,131.42 L291.17,132.36 L292.26,133.68 L293.37,135.25 L294.50,136.92 L295.62,138.52 L296.73,139.90 L297.80,140.94 L298.84,141.51 L299.83,141.61 L300.81,141.61 L301.79,141.61 L302.78,141.61 L303.76,141.61 L304.74,141.61 L305.72,141.61 L306.71,141.61 L307.69,141.61 L308.67,141.61 L309.65,141.61 L310.63,141.61 L311.62,141.61 L312.60,141.61 L313.58,141.61 L314.56,141.61 L315.55,141.61" fill="none" stroke="#dc5b2c" stroke-width="2.3" stroke-linecap="round" stroke-linejoin="round"/>
<path d="M20.82,141.61 L21.80,141.61 L22.78,141.61 L23.76,141.61 L24.75,141.61 L25.73,141.61 L26.71,141.61 L27.69,141.61 L28.68,141.61 L29.66,141.61 L30.64,141.61 L31.62,141.61 L32.61,141.61 L33.59,141.61 L34.57,141.61 L35.55,141.61 L36.52,141.76 L37.45,142.32 L38.35,143.26 L39.23,144.49 L40.09,145.88 L40.95,147.31 L41.82,148.63 L42.71,149.72 L43.63,150.47 L44.59,150.81 L45.58,150.83 L46.57,150.83 L47.56,150.83 L48.55,150.78 L49.58,150.35 L50.63,149.52 L51.71,148.37 L52.81,147.02 L53.91,145.59 L55.00,144.22 L56.07,143.04 L57.12,142.18 L58.14,141.70 L59.13,141.61 L60.11,141.61 L61.10,141.61 L62.08,141.61 L63.07,141.52 L64.09,140.97 L65.14,139.95 L66.22,138.58 L67.32,136.98 L68.41,135.32 L69.50,133.74 L70.56,132.41 L71.61,131.45 L72.61,130.94 L73.59,130.88 L74.57,130.88 L75.54,130.88 L76.52,130.90 L77.47,131.28 L78.39,132.14 L79.29,133.39 L80.17,134.92 L81.05,136.58 L81.93,138.20 L82.83,139.65 L83.74,140.76 L84.69,141.43 L85.66,141.61 L86.64,141.61 L87.62,141.61 L88.60,141.61 L89.59,141.64 L90.55,142.02 L91.49,142.80 L92.41,143.91 L93.33,145.24 L94.24,146.67 L95.16,148.06 L96.08,149.27 L97.03,150.18 L97.99,150.71 L98.97,150.83 L99.96,150.83 L100.95,150.83 L101.94,150.83 L102.94,150.60 L103.96,149.94 L104.99,148.92 L106.03,147.64 L107.08,146.23 L108.12,144.82 L109.16,143.54 L110.18,142.52 L111.19,141.86 L112.18,141.61 L113.17,141.61 L114.15,141.61 L115.13,141.61 L116.11,141.61 L117.11,141.28 L118.12,140.46 L119.14,139.23 L120.17,137.72 L121.20,136.06 L122.24,134.43 L123.26,132.97 L124.27,131.83 L125.27,131.11 L126.25,130.88 L127.22,130.88 L128.20,130.88 L129.17,130.88 L130.14,131.05 L131.10,131.70 L132.05,132.78 L132.99,134.21 L133.93,135.83 L134.87,137.49 L135.82,139.03 L136.77,140.31 L137.74,141.19 L138.71,141.59 L139.69,141.61 L140.67,141.61 L141.66,141.61 L142.64,141.61 L143.62,141.80 L144.59,142.40 L145.56,143.38 L146.52,144.62 L147.49,146.03 L148.46,147.45 L149.43,148.75 L150.40,149.81 L151.38,150.53 L152.37,150.82 L153.35,150.83 L154.34,150.83 L155.33,150.83 L156.32,150.76 L157.31,150.28 L158.31,149.42 L159.30,148.24 L160.30,146.87 L161.29,145.44 L162.28,144.09 L163.27,142.94 L164.25,142.11 L165.23,141.67 L166.22,141.61 L167.20,141.61 L168.18,141.61 L169.16,141.61 L170.15,141.49 L171.13,140.88 L172.11,139.83 L173.08,138.42 L174.05,136.81 L175.03,135.15 L175.99,133.59 L176.96,132.29 L177.93,131.37 L178.90,130.92 L179.88,130.88 L180.85,130.88 L181.83,130.88 L182.80,130.91 L183.78,131.35 L184.77,132.25 L185.76,133.53 L186.76,135.08 L187.76,136.75 L188.76,138.36 L189.77,139.78 L190.77,140.85 L191.76,141.48 L192.74,141.61 L193.73,141.61 L194.71,141.61 L195.69,141.61 L196.67,141.66 L197.66,142.08 L198.67,142.90 L199.67,144.04 L200.69,145.39 L201.71,146.82 L202.73,148.19 L203.74,149.38 L204.75,150.26 L205.76,150.74 L206.75,150.83 L207.74,150.83 L208.72,150.83 L209.71,150.83 L210.69,150.55 L211.66,149.85 L212.62,148.80 L213.56,147.50 L214.50,146.08 L215.44,144.68 L216.38,143.42 L217.33,142.44 L218.29,141.81 L219.27,141.61 L220.25,141.61 L221.23,141.61 L222.22,141.61 L223.20,141.60 L224.16,141.22 L225.11,140.35 L226.04,139.09 L226.96,137.55 L227.87,135.89 L228.78,134.27 L229.69,132.84 L230.62,131.73 L231.57,131.06 L232.53,130.88 L233.51,130.88 L234.48,130.88 L235.46,130.88 L236.44,131.09 L237.45,131.79 L238.49,132.92 L239.53,134.36 L240.60,136.00 L241.66,137.65 L242.72,139.18 L243.77,140.42 L244.79,141.25 L245.79,141.61 L246.78,141.61 L247.76,141.61 L248.74,141.61 L249.72,141.61 L250.72,141.84 L251.74,142.49 L252.78,143.49 L253.84,144.76 L254.91,146.17 L255.98,147.59 L257.05,148.88 L258.10,149.90 L259.13,150.58 L260.14,150.83 L261.13,150.83 L262.12,150.83 L263.10,150.83 L264.09,150.73 L265.04,150.21 L265.97,149.31 L266.87,148.11 L267.76,146.73 L268.65,145.30 L269.54,143.96 L270.44,142.84 L271.37,142.04 L272.32,141.65 L273.30,141.61 L274.28,141.61 L275.27,141.61 L276.25,141.61 L277.22,141.45 L278.15,140.80 L279.05,139.70 L279.92,138.27 L280.77,136.64 L281.62,134.98 L282.47,133.45 L283.34,132.18 L284.25,131.30 L285.19,130.90 L286.16,130.88 L287.14,130.88 L288.11,130.88 L289.09,130.94 L290.11,131.42 L291.17,132.36 L292.26,133.68 L293.37,135.25 L294.50,136.92 L295.62,138.52 L296.73,139.90 L297.80,140.94 L298.84,141.51 L299.83,141.61 L300.81,141.61 L301.79,141.61 L302.78,141.61 L303.76,141.61 L304.74,141.61 L305.72,141.61 L306.71,141.61 L307.69,141.61 L308.67,141.61 L309.65,141.61 L310.63,141.61 L311.62,141.61 L312.60,141.61 L313.58,141.61 L314.56,141.61 L315.55,141.61" fill="none" stroke="#ee8656" stroke-width="0.8" stroke-linecap="round" stroke-linejoin="round" transform="translate(0,-0.4)"/>
<path d="M18.25,165.67 L19.25,165.67 L20.25,165.67 L21.25,165.67 L22.25,165.67 L23.25,165.67 L24.25,165.67 L25.25,165.67 L26.25,165.67 L27.25,165.67 L28.25,165.67 L29.25,165.67 L30.25,165.67 L31.25,165.67 L32.25,165.67 L33.25,165.67 L34.26,165.53 L35.32,164.89 L36.42,163.78 L37.55,162.32 L38.69,160.65 L39.84,158.93 L40.97,157.32 L42.08,155.99 L43.16,155.06 L44.19,154.61 L45.18,154.58 L46.18,154.58 L47.17,154.58 L48.16,154.62 L49.11,155.09 L50.03,156.04 L50.91,157.38 L51.78,159.00 L52.64,160.72 L53.50,162.39 L54.39,163.83 L55.30,164.92 L56.25,165.55 L57.24,165.67 L58.24,165.67 L59.24,165.67 L60.24,165.67 L61.24,165.73 L62.21,166.19 L63.14,167.06 L64.06,168.25 L64.96,169.66 L65.86,171.14 L66.77,172.55 L67.69,173.76 L68.64,174.65 L69.61,175.13 L70.61,175.20 L71.62,175.20 L72.63,175.20 L73.63,175.19 L74.66,174.87 L75.71,174.12 L76.79,173.01 L77.88,171.65 L78.97,170.18 L80.06,168.73 L81.14,167.45 L82.20,166.45 L83.23,165.84 L84.24,165.67 L85.24,165.67 L86.24,165.67 L87.24,165.67 L88.24,165.64 L89.27,165.20 L90.31,164.27 L91.38,162.93 L92.46,161.32 L93.55,159.60 L94.63,157.93 L95.70,156.48 L96.74,155.37 L97.77,154.72 L98.77,154.58 L99.76,154.58 L100.75,154.58 L101.74,154.58 L102.72,154.84 L103.68,155.61 L104.62,156.81 L105.55,158.34 L106.48,160.04 L107.40,161.74 L108.34,163.30 L109.28,164.54 L110.25,165.36 L111.24,165.67 L112.24,165.67 L113.24,165.67 L114.24,165.67 L115.24,165.67 L116.23,165.96 L117.20,166.67 L118.17,167.75 L119.12,169.09 L120.08,170.55 L121.04,172.01 L122.00,173.32 L122.97,174.34 L123.96,174.99 L124.96,175.20 L125.97,175.20 L126.97,175.20 L127.98,175.20 L128.99,175.05 L130.01,174.46 L131.04,173.48 L132.08,172.21 L133.12,170.77 L134.15,169.29 L135.19,167.93 L136.21,166.81 L137.23,166.03 L138.24,165.69 L139.24,165.67 L140.24,165.67 L141.24,165.67 L142.24,165.67 L143.24,165.44 L144.25,164.69 L145.27,163.50 L146.29,161.98 L147.31,160.28 L148.33,158.57 L149.34,157.02 L150.35,155.76 L151.35,154.92 L152.35,154.58 L153.34,154.58 L154.34,154.58 L155.33,154.58 L156.32,154.67 L157.31,155.25 L158.29,156.29 L159.28,157.71 L160.26,159.36 L161.25,161.08 L162.24,162.71 L163.24,164.10 L164.23,165.10 L165.23,165.61 L166.23,165.67 L167.23,165.67 L168.23,165.67 L169.23,165.67 L170.23,165.79 L171.23,166.34 L172.24,167.29 L173.24,168.53 L174.25,169.97 L175.26,171.45 L176.27,172.83 L177.29,173.98 L178.30,174.79 L179.31,175.17 L180.31,175.20 L181.32,175.20 L182.33,175.20 L183.33,175.16 L184.33,174.74 L185.33,173.91 L186.32,172.74 L187.31,171.35 L188.29,169.87 L189.27,168.44 L190.25,167.21 L191.24,166.29 L192.23,165.77 L193.23,165.67 L194.23,165.67 L195.23,165.67 L196.23,165.67 L197.23,165.59 L198.22,165.04 L199.19,164.01 L200.16,162.61 L201.12,160.96 L202.08,159.24 L203.03,157.60 L203.99,156.21 L204.96,155.19 L205.94,154.65 L206.93,154.58 L207.92,154.58 L208.91,154.58 L209.90,154.59 L210.91,154.96 L211.93,155.83 L212.96,157.11 L214.00,158.69 L215.06,160.40 L216.11,162.09 L217.16,163.59 L218.20,164.75 L219.22,165.47 L220.23,165.67 L221.23,165.67 L222.23,165.67 L223.23,165.67 L224.23,165.69 L225.24,166.07 L226.27,166.87 L227.32,168.01 L228.38,169.39 L229.45,170.87 L230.51,172.30 L231.57,173.56 L232.62,174.51 L233.65,175.07 L234.66,175.20 L235.67,175.20 L236.67,175.20 L237.68,175.20 L238.67,174.96 L239.65,174.29 L240.60,173.24 L241.54,171.92 L242.47,170.45 L243.40,168.99 L244.33,167.67 L245.27,166.61 L246.24,165.92 L247.22,165.67 L248.22,165.67 L249.22,165.67 L250.22,165.67 L251.22,165.66 L252.20,165.32 L253.15,164.47 L254.08,163.20 L254.98,161.63 L255.87,159.92 L256.77,158.23 L257.67,156.72 L258.59,155.54 L259.53,154.81 L260.51,154.58 L261.50,154.58 L262.50,154.58 L263.49,154.58 L264.49,154.75 L265.53,155.43 L266.60,156.56 L267.70,158.04 L268.81,159.72 L269.92,161.44 L271.03,163.03 L272.13,164.34 L273.19,165.25 L274.22,165.65 L275.22,165.67 L276.22,165.67 L277.22,165.67 L278.22,165.67 L279.24,165.87 L280.29,166.51 L281.36,167.53 L282.47,168.83 L283.59,170.28 L284.71,171.75 L285.82,173.09 L286.91,174.18 L287.98,174.90 L289.01,175.19 L290.01,175.20 L291.02,175.20 L292.03,175.20 L293.02,175.11 L293.99,174.60 L294.91,173.69 L295.81,172.46 L296.69,171.04 L297.56,169.56 L298.44,168.16 L299.34,166.99 L300.26,166.15 L301.22,165.72 L302.22,165.67 L303.22,165.67 L304.22,165.67 L305.22,165.67 L306.22,165.67 L307.22,165.67 L308.22,165.67 L309.22,165.67 L310.22,165.67 L311.22,165.67 L312.22,165.67 L313.22,165.67 L314.22,165.67 L315.22,165.67 L316.22,165.67 L317.22,165.67 L318.22,165.67" fill="none" stroke="#a0401c" stroke-width="3.7" stroke-linecap="round" stroke-linejoin="round"/>
<path d="M18.25,165.67 L19.25,165.67 L20.25,165.67 L21.25,165.67 L22.25,165.67 L23.25,165.67 L24.25,165.67 L25.25,165.67 L26.25,165.67 L27.25,165.67 L28.25,165.67 L29.25,165.67 L30.25,165.67 L31.25,165.67 L32.25,165.67 L33.25,165.67 L34.26,165.53 L35.32,164.89 L36.42,163.78 L37.55,162.32 L38.69,160.65 L39.84,158.93 L40.97,157.32 L42.08,155.99 L43.16,155.06 L44.19,154.61 L45.18,154.58 L46.18,154.58 L47.17,154.58 L48.16,154.62 L49.11,155.09 L50.03,156.04 L50.91,157.38 L51.78,159.00 L52.64,160.72 L53.50,162.39 L54.39,163.83 L55.30,164.92 L56.25,165.55 L57.24,165.67 L58.24,165.67 L59.24,165.67 L60.24,165.67 L61.24,165.73 L62.21,166.19 L63.14,167.06 L64.06,168.25 L64.96,169.66 L65.86,171.14 L66.77,172.55 L67.69,173.76 L68.64,174.65 L69.61,175.13 L70.61,175.20 L71.62,175.20 L72.63,175.20 L73.63,175.19 L74.66,174.87 L75.71,174.12 L76.79,173.01 L77.88,171.65 L78.97,170.18 L80.06,168.73 L81.14,167.45 L82.20,166.45 L83.23,165.84 L84.24,165.67 L85.24,165.67 L86.24,165.67 L87.24,165.67 L88.24,165.64 L89.27,165.20 L90.31,164.27 L91.38,162.93 L92.46,161.32 L93.55,159.60 L94.63,157.93 L95.70,156.48 L96.74,155.37 L97.77,154.72 L98.77,154.58 L99.76,154.58 L100.75,154.58 L101.74,154.58 L102.72,154.84 L103.68,155.61 L104.62,156.81 L105.55,158.34 L106.48,160.04 L107.40,161.74 L108.34,163.30 L109.28,164.54 L110.25,165.36 L111.24,165.67 L112.24,165.67 L113.24,165.67 L114.24,165.67 L115.24,165.67 L116.23,165.96 L117.20,166.67 L118.17,167.75 L119.12,169.09 L120.08,170.55 L121.04,172.01 L122.00,173.32 L122.97,174.34 L123.96,174.99 L124.96,175.20 L125.97,175.20 L126.97,175.20 L127.98,175.20 L128.99,175.05 L130.01,174.46 L131.04,173.48 L132.08,172.21 L133.12,170.77 L134.15,169.29 L135.19,167.93 L136.21,166.81 L137.23,166.03 L138.24,165.69 L139.24,165.67 L140.24,165.67 L141.24,165.67 L142.24,165.67 L143.24,165.44 L144.25,164.69 L145.27,163.50 L146.29,161.98 L147.31,160.28 L148.33,158.57 L149.34,157.02 L150.35,155.76 L151.35,154.92 L152.35,154.58 L153.34,154.58 L154.34,154.58 L155.33,154.58 L156.32,154.67 L157.31,155.25 L158.29,156.29 L159.28,157.71 L160.26,159.36 L161.25,161.08 L162.24,162.71 L163.24,164.10 L164.23,165.10 L165.23,165.61 L166.23,165.67 L167.23,165.67 L168.23,165.67 L169.23,165.67 L170.23,165.79 L171.23,166.34 L172.24,167.29 L173.24,168.53 L174.25,169.97 L175.26,171.45 L176.27,172.83 L177.29,173.98 L178.30,174.79 L179.31,175.17 L180.31,175.20 L181.32,175.20 L182.33,175.20 L183.33,175.16 L184.33,174.74 L185.33,173.91 L186.32,172.74 L187.31,171.35 L188.29,169.87 L189.27,168.44 L190.25,167.21 L191.24,166.29 L192.23,165.77 L193.23,165.67 L194.23,165.67 L195.23,165.67 L196.23,165.67 L197.23,165.59 L198.22,165.04 L199.19,164.01 L200.16,162.61 L201.12,160.96 L202.08,159.24 L203.03,157.60 L203.99,156.21 L204.96,155.19 L205.94,154.65 L206.93,154.58 L207.92,154.58 L208.91,154.58 L209.90,154.59 L210.91,154.96 L211.93,155.83 L212.96,157.11 L214.00,158.69 L215.06,160.40 L216.11,162.09 L217.16,163.59 L218.20,164.75 L219.22,165.47 L220.23,165.67 L221.23,165.67 L222.23,165.67 L223.23,165.67 L224.23,165.69 L225.24,166.07 L226.27,166.87 L227.32,168.01 L228.38,169.39 L229.45,170.87 L230.51,172.30 L231.57,173.56 L232.62,174.51 L233.65,175.07 L234.66,175.20 L235.67,175.20 L236.67,175.20 L237.68,175.20 L238.67,174.96 L239.65,174.29 L240.60,173.24 L241.54,171.92 L242.47,170.45 L243.40,168.99 L244.33,167.67 L245.27,166.61 L246.24,165.92 L247.22,165.67 L248.22,165.67 L249.22,165.67 L250.22,165.67 L251.22,165.66 L252.20,165.32 L253.15,164.47 L254.08,163.20 L254.98,161.63 L255.87,159.92 L256.77,158.23 L257.67,156.72 L258.59,155.54 L259.53,154.81 L260.51,154.58 L261.50,154.58 L262.50,154.58 L263.49,154.58 L264.49,154.75 L265.53,155.43 L266.60,156.56 L267.70,158.04 L268.81,159.72 L269.92,161.44 L271.03,163.03 L272.13,164.34 L273.19,165.25 L274.22,165.65 L275.22,165.67 L276.22,165.67 L277.22,165.67 L278.22,165.67 L279.24,165.87 L280.29,166.51 L281.36,167.53 L282.47,168.83 L283.59,170.28 L284.71,171.75 L285.82,173.09 L286.91,174.18 L287.98,174.90 L289.01,175.19 L290.01,175.20 L291.02,175.20 L292.03,175.20 L293.02,175.11 L293.99,174.60 L294.91,173.69 L295.81,172.46 L296.69,171.04 L297.56,169.56 L298.44,168.16 L299.34,166.99 L300.26,166.15 L301.22,165.72 L302.22,165.67 L303.22,165.67 L304.22,165.67 L305.22,165.67 L306.22,165.67 L307.22,165.67 L308.22,165.67 L309.22,165.67 L310.22,165.67 L311.22,165.67 L312.22,165.67 L313.22,165.67 L314.22,165.67 L315.22,165.67 L316.22,165.67 L317.22,165.67 L318.22,165.67" fill="none" stroke="#dc5b2c" stroke-width="2.3" stroke-linecap="round" stroke-linejoin="round"/>
<path d="M18.25,165.67 L19.25,165.67 L20.25,165.67 L21.25,165.67 L22.25,165.67 L23.25,165.67 L24.25,165.67 L25.25,165.67 L26.25,165.67 L27.25,165.67 L28.25,165.67 L29.25,165.67 L30.25,165.67 L31.25,165.67 L32.25,165.67 L33.25,165.67 L34.26,165.53 L35.32,164.89 L36.42,163.78 L37.55,162.32 L38.69,160.65 L39.84,158.93 L40.97,157.32 L42.08,155.99 L43.16,155.06 L44.19,154.61 L45.18,154.58 L46.18,154.58 L47.17,154.58 L48.16,154.62 L49.11,155.09 L50.03,156.04 L50.91,157.38 L51.78,159.00 L52.64,160.72 L53.50,162.39 L54.39,163.83 L55.30,164.92 L56.25,165.55 L57.24,165.67 L58.24,165.67 L59.24,165.67 L60.24,165.67 L61.24,165.73 L62.21,166.19 L63.14,167.06 L64.06,168.25 L64.96,169.66 L65.86,171.14 L66.77,172.55 L67.69,173.76 L68.64,174.65 L69.61,175.13 L70.61,175.20 L71.62,175.20 L72.63,175.20 L73.63,175.19 L74.66,174.87 L75.71,174.12 L76.79,173.01 L77.88,171.65 L78.97,170.18 L80.06,168.73 L81.14,167.45 L82.20,166.45 L83.23,165.84 L84.24,165.67 L85.24,165.67 L86.24,165.67 L87.24,165.67 L88.24,165.64 L89.27,165.20 L90.31,164.27 L91.38,162.93 L92.46,161.32 L93.55,159.60 L94.63,157.93 L95.70,156.48 L96.74,155.37 L97.77,154.72 L98.77,154.58 L99.76,154.58 L100.75,154.58 L101.74,154.58 L102.72,154.84 L103.68,155.61 L104.62,156.81 L105.55,158.34 L106.48,160.04 L107.40,161.74 L108.34,163.30 L109.28,164.54 L110.25,165.36 L111.24,165.67 L112.24,165.67 L113.24,165.67 L114.24,165.67 L115.24,165.67 L116.23,165.96 L117.20,166.67 L118.17,167.75 L119.12,169.09 L120.08,170.55 L121.04,172.01 L122.00,173.32 L122.97,174.34 L123.96,174.99 L124.96,175.20 L125.97,175.20 L126.97,175.20 L127.98,175.20 L128.99,175.05 L130.01,174.46 L131.04,173.48 L132.08,172.21 L133.12,170.77 L134.15,169.29 L135.19,167.93 L136.21,166.81 L137.23,166.03 L138.24,165.69 L139.24,165.67 L140.24,165.67 L141.24,165.67 L142.24,165.67 L143.24,165.44 L144.25,164.69 L145.27,163.50 L146.29,161.98 L147.31,160.28 L148.33,158.57 L149.34,157.02 L150.35,155.76 L151.35,154.92 L152.35,154.58 L153.34,154.58 L154.34,154.58 L155.33,154.58 L156.32,154.67 L157.31,155.25 L158.29,156.29 L159.28,157.71 L160.26,159.36 L161.25,161.08 L162.24,162.71 L163.24,164.10 L164.23,165.10 L165.23,165.61 L166.23,165.67 L167.23,165.67 L168.23,165.67 L169.23,165.67 L170.23,165.79 L171.23,166.34 L172.24,167.29 L173.24,168.53 L174.25,169.97 L175.26,171.45 L176.27,172.83 L177.29,173.98 L178.30,174.79 L179.31,175.17 L180.31,175.20 L181.32,175.20 L182.33,175.20 L183.33,175.16 L184.33,174.74 L185.33,173.91 L186.32,172.74 L187.31,171.35 L188.29,169.87 L189.27,168.44 L190.25,167.21 L191.24,166.29 L192.23,165.77 L193.23,165.67 L194.23,165.67 L195.23,165.67 L196.23,165.67 L197.23,165.59 L198.22,165.04 L199.19,164.01 L200.16,162.61 L201.12,160.96 L202.08,159.24 L203.03,157.60 L203.99,156.21 L204.96,155.19 L205.94,154.65 L206.93,154.58 L207.92,154.58 L208.91,154.58 L209.90,154.59 L210.91,154.96 L211.93,155.83 L212.96,157.11 L214.00,158.69 L215.06,160.40 L216.11,162.09 L217.16,163.59 L218.20,164.75 L219.22,165.47 L220.23,165.67 L221.23,165.67 L222.23,165.67 L223.23,165.67 L224.23,165.69 L225.24,166.07 L226.27,166.87 L227.32,168.01 L228.38,169.39 L229.45,170.87 L230.51,172.30 L231.57,173.56 L232.62,174.51 L233.65,175.07 L234.66,175.20 L235.67,175.20 L236.67,175.20 L237.68,175.20 L238.67,174.96 L239.65,174.29 L240.60,173.24 L241.54,171.92 L242.47,170.45 L243.40,168.99 L244.33,167.67 L245.27,166.61 L246.24,165.92 L247.22,165.67 L248.22,165.67 L249.22,165.67 L250.22,165.67 L251.22,165.66 L252.20,165.32 L253.15,164.47 L254.08,163.20 L254.98,161.63 L255.87,159.92 L256.77,158.23 L257.67,156.72 L258.59,155.54 L259.53,154.81 L260.51,154.58 L261.50,154.58 L262.50,154.58 L263.49,154.58 L264.49,154.75 L265.53,155.43 L266.60,156.56 L267.70,158.04 L268.81,159.72 L269.92,161.44 L271.03,163.03 L272.13,164.34 L273.19,165.25 L274.22,165.65 L275.22,165.67 L276.22,165.67 L277.22,165.67 L278.22,165.67 L279.24,165.87 L280.29,166.51 L281.36,167.53 L282.47,168.83 L283.59,170.28 L284.71,171.75 L285.82,173.09 L286.91,174.18 L287.98,174.90 L289.01,175.19 L290.01,175.20 L291.02,175.20 L292.03,175.20 L293.02,175.11 L293.99,174.60 L294.91,173.69 L295.81,172.46 L296.69,171.04 L297.56,169.56 L298.44,168.16 L299.34,166.99 L300.26,166.15 L301.22,165.72 L302.22,165.67 L303.22,165.67 L304.22,165.67 L305.22,165.67 L306.22,165.67 L307.22,165.67 L308.22,165.67 L309.22,165.67 L310.22,165.67 L311.22,165.67 L312.22,165.67 L313.22,165.67 L314.22,165.67 L315.22,165.67 L316.22,165.67 L317.22,165.67 L318.22,165.67" fill="none" stroke="#ee8656" stroke-width="0.8" stroke-linecap="round" stroke-linejoin="round" transform="translate(0,-0.4)"/>
<path d="M15.59,190.54 L16.61,190.54 L17.63,190.54 L18.65,190.54 L19.66,190.54 L20.68,190.54 L21.70,190.54 L22.72,190.54 L23.74,190.54 L24.75,190.54 L25.77,190.54 L26.79,190.54 L27.81,190.54 L28.83,190.54 L29.84,190.54 L30.86,190.54 L31.87,190.64 L32.84,191.16 L33.78,192.10 L34.68,193.36 L35.57,194.83 L36.46,196.37 L37.35,197.81 L38.27,199.04 L39.22,199.91 L40.21,200.35 L41.23,200.40 L42.25,200.40 L43.28,200.40 L44.30,200.38 L45.36,199.99 L46.45,199.16 L47.57,197.98 L48.71,196.55 L49.85,195.02 L50.99,193.54 L52.11,192.24 L53.20,191.25 L54.26,190.68 L55.29,190.54 L56.31,190.54 L57.33,190.54 L58.35,190.54 L59.37,190.49 L60.42,189.96 L61.52,188.93 L62.63,187.50 L63.77,185.81 L64.91,184.03 L66.04,182.32 L67.15,180.85 L68.23,179.77 L69.28,179.17 L70.30,179.07 L71.31,179.07 L72.32,179.07 L73.33,179.08 L74.32,179.43 L75.28,180.30 L76.21,181.60 L77.12,183.21 L78.02,184.99 L78.93,186.74 L79.86,188.31 L80.80,189.54 L81.77,190.31 L82.78,190.54 L83.80,190.54 L84.81,190.54 L85.83,190.54 L86.85,190.56 L87.85,190.93 L88.82,191.74 L89.78,192.90 L90.73,194.32 L91.67,195.85 L92.61,197.34 L93.57,198.65 L94.55,199.66 L95.54,200.26 L96.56,200.40 L97.58,200.40 L98.61,200.40 L99.63,200.40 L100.67,200.17 L101.72,199.49 L102.79,198.42 L103.88,197.06 L104.96,195.55 L106.05,194.03 L107.12,192.65 L108.19,191.55 L109.23,190.82 L110.26,190.55 L111.28,190.54 L112.30,190.54 L113.32,190.54 L114.33,190.54 L115.36,190.20 L116.41,189.33 L117.47,188.02 L118.54,186.41 L119.61,184.63 L120.68,182.88 L121.75,181.32 L122.79,180.09 L123.83,179.32 L124.85,179.07 L125.86,179.07 L126.87,179.07 L127.88,179.07 L128.88,179.25 L129.87,179.95 L130.86,181.11 L131.83,182.64 L132.80,184.38 L133.77,186.16 L134.75,187.81 L135.74,189.17 L136.74,190.10 L137.75,190.53 L138.76,190.54 L139.78,190.54 L140.80,190.54 L141.82,190.54 L142.83,190.75 L143.84,191.42 L144.84,192.47 L145.84,193.82 L146.84,195.32 L147.84,196.85 L148.85,198.24 L149.86,199.36 L150.87,200.10 L151.89,200.40 L152.92,200.40 L153.94,200.40 L154.97,200.40 L155.99,200.30 L157.02,199.77 L158.05,198.82 L159.08,197.54 L160.11,196.07 L161.14,194.54 L162.17,193.10 L163.19,191.89 L164.21,191.02 L165.23,190.59 L166.25,190.54 L167.27,190.54 L168.28,190.54 L169.30,190.54 L170.32,190.38 L171.34,189.68 L172.35,188.51 L173.36,186.98 L174.37,185.24 L175.37,183.46 L176.38,181.82 L177.38,180.46 L178.38,179.52 L179.39,179.09 L180.40,179.07 L181.41,179.07 L182.42,179.07 L183.43,179.13 L184.45,179.65 L185.47,180.67 L186.50,182.09 L187.53,183.77 L188.57,185.56 L189.61,187.27 L190.65,188.75 L191.69,189.84 L192.71,190.44 L193.73,190.54 L194.75,190.54 L195.77,190.54 L196.79,190.54 L197.81,190.63 L198.84,191.14 L199.87,192.07 L200.92,193.33 L201.97,194.80 L203.03,196.33 L204.09,197.79 L205.14,199.01 L206.19,199.90 L207.23,200.35 L208.25,200.40 L209.28,200.40 L210.30,200.40 L211.33,200.38 L212.34,200.00 L213.34,199.19 L214.33,198.01 L215.30,196.58 L216.28,195.05 L217.25,193.57 L218.22,192.26 L219.21,191.27 L220.20,190.68 L221.22,190.54 L222.24,190.54 L223.25,190.54 L224.27,190.54 L225.29,190.49 L226.28,189.98 L227.26,188.96 L228.22,187.53 L229.17,185.85 L230.11,184.06 L231.05,182.35 L231.99,180.88 L232.96,179.79 L233.94,179.18 L234.94,179.07 L235.95,179.07 L236.96,179.07 L237.97,179.08 L239.00,179.41 L240.05,180.27 L241.13,181.57 L242.22,183.18 L243.33,184.95 L244.43,186.70 L245.53,188.28 L246.61,189.52 L247.67,190.30 L248.70,190.54 L249.72,190.54 L250.74,190.54 L251.76,190.54 L252.77,190.56 L253.81,190.92 L254.88,191.72 L255.97,192.88 L257.07,194.29 L258.18,195.81 L259.30,197.31 L260.40,198.63 L261.49,199.64 L262.55,200.25 L263.59,200.40 L264.61,200.40 L265.64,200.40 L266.66,200.40 L267.67,200.18 L268.65,199.51 L269.60,198.44 L270.53,197.09 L271.45,195.58 L272.36,194.06 L273.28,192.68 L274.22,191.57 L275.19,190.83 L276.19,190.55 L277.20,190.54 L278.22,190.54 L279.24,190.54 L280.26,190.54 L281.25,190.21 L282.20,189.36 L283.12,188.06 L284.01,186.44 L284.88,184.67 L285.76,182.92 L286.64,181.35 L287.55,180.11 L288.50,179.33 L289.49,179.07 L290.50,179.07 L291.51,179.07 L292.52,179.07 L293.54,179.24 L294.61,179.93 L295.72,181.09 L296.87,182.60 L298.03,184.34 L299.21,186.12 L300.37,187.77 L301.51,189.14 L302.61,190.09 L303.67,190.52 L304.69,190.54 L305.71,190.54 L306.72,190.54 L307.74,190.54 L308.76,190.54 L309.78,190.54 L310.80,190.54 L311.81,190.54 L312.83,190.54 L313.85,190.54 L314.87,190.54 L315.89,190.54 L316.90,190.54 L317.92,190.54 L318.94,190.54 L319.96,190.54 L320.98,190.54" fill="none" stroke="#a0401c" stroke-width="3.7" stroke-linecap="round" stroke-linejoin="round"/>
<path d="M15.59,190.54 L16.61,190.54 L17.63,190.54 L18.65,190.54 L19.66,190.54 L20.68,190.54 L21.70,190.54 L22.72,190.54 L23.74,190.54 L24.75,190.54 L25.77,190.54 L26.79,190.54 L27.81,190.54 L28.83,190.54 L29.84,190.54 L30.86,190.54 L31.87,190.64 L32.84,191.16 L33.78,192.10 L34.68,193.36 L35.57,194.83 L36.46,196.37 L37.35,197.81 L38.27,199.04 L39.22,199.91 L40.21,200.35 L41.23,200.40 L42.25,200.40 L43.28,200.40 L44.30,200.38 L45.36,199.99 L46.45,199.16 L47.57,197.98 L48.71,196.55 L49.85,195.02 L50.99,193.54 L52.11,192.24 L53.20,191.25 L54.26,190.68 L55.29,190.54 L56.31,190.54 L57.33,190.54 L58.35,190.54 L59.37,190.49 L60.42,189.96 L61.52,188.93 L62.63,187.50 L63.77,185.81 L64.91,184.03 L66.04,182.32 L67.15,180.85 L68.23,179.77 L69.28,179.17 L70.30,179.07 L71.31,179.07 L72.32,179.07 L73.33,179.08 L74.32,179.43 L75.28,180.30 L76.21,181.60 L77.12,183.21 L78.02,184.99 L78.93,186.74 L79.86,188.31 L80.80,189.54 L81.77,190.31 L82.78,190.54 L83.80,190.54 L84.81,190.54 L85.83,190.54 L86.85,190.56 L87.85,190.93 L88.82,191.74 L89.78,192.90 L90.73,194.32 L91.67,195.85 L92.61,197.34 L93.57,198.65 L94.55,199.66 L95.54,200.26 L96.56,200.40 L97.58,200.40 L98.61,200.40 L99.63,200.40 L100.67,200.17 L101.72,199.49 L102.79,198.42 L103.88,197.06 L104.96,195.55 L106.05,194.03 L107.12,192.65 L108.19,191.55 L109.23,190.82 L110.26,190.55 L111.28,190.54 L112.30,190.54 L113.32,190.54 L114.33,190.54 L115.36,190.20 L116.41,189.33 L117.47,188.02 L118.54,186.41 L119.61,184.63 L120.68,182.88 L121.75,181.32 L122.79,180.09 L123.83,179.32 L124.85,179.07 L125.86,179.07 L126.87,179.07 L127.88,179.07 L128.88,179.25 L129.87,179.95 L130.86,181.11 L131.83,182.64 L132.80,184.38 L133.77,186.16 L134.75,187.81 L135.74,189.17 L136.74,190.10 L137.75,190.53 L138.76,190.54 L139.78,190.54 L140.80,190.54 L141.82,190.54 L142.83,190.75 L143.84,191.42 L144.84,192.47 L145.84,193.82 L146.84,195.32 L147.84,196.85 L148.85,198.24 L149.86,199.36 L150.87,200.10 L151.89,200.40 L152.92,200.40 L153.94,200.40 L154.97,200.40 L155.99,200.30 L157.02,199.77 L158.05,198.82 L159.08,197.54 L160.11,196.07 L161.14,194.54 L162.17,193.10 L163.19,191.89 L164.21,191.02 L165.23,190.59 L166.25,190.54 L167.27,190.54 L168.28,190.54 L169.30,190.54 L170.32,190.38 L171.34,189.68 L172.35,188.51 L173.36,186.98 L174.37,185.24 L175.37,183.46 L176.38,181.82 L177.38,180.46 L178.38,179.52 L179.39,179.09 L180.40,179.07 L181.41,179.07 L182.42,179.07 L183.43,179.13 L184.45,179.65 L185.47,180.67 L186.50,182.09 L187.53,183.77 L188.57,185.56 L189.61,187.27 L190.65,188.75 L191.69,189.84 L192.71,190.44 L193.73,190.54 L194.75,190.54 L195.77,190.54 L196.79,190.54 L197.81,190.63 L198.84,191.14 L199.87,192.07 L200.92,193.33 L201.97,194.80 L203.03,196.33 L204.09,197.79 L205.14,199.01 L206.19,199.90 L207.23,200.35 L208.25,200.40 L209.28,200.40 L210.30,200.40 L211.33,200.38 L212.34,200.00 L213.34,199.19 L214.33,198.01 L215.30,196.58 L216.28,195.05 L217.25,193.57 L218.22,192.26 L219.21,191.27 L220.20,190.68 L221.22,190.54 L222.24,190.54 L223.25,190.54 L224.27,190.54 L225.29,190.49 L226.28,189.98 L227.26,188.96 L228.22,187.53 L229.17,185.85 L230.11,184.06 L231.05,182.35 L231.99,180.88 L232.96,179.79 L233.94,179.18 L234.94,179.07 L235.95,179.07 L236.96,179.07 L237.97,179.08 L239.00,179.41 L240.05,180.27 L241.13,181.57 L242.22,183.18 L243.33,184.95 L244.43,186.70 L245.53,188.28 L246.61,189.52 L247.67,190.30 L248.70,190.54 L249.72,190.54 L250.74,190.54 L251.76,190.54 L252.77,190.56 L253.81,190.92 L254.88,191.72 L255.97,192.88 L257.07,194.29 L258.18,195.81 L259.30,197.31 L260.40,198.63 L261.49,199.64 L262.55,200.25 L263.59,200.40 L264.61,200.40 L265.64,200.40 L266.66,200.40 L267.67,200.18 L268.65,199.51 L269.60,198.44 L270.53,197.09 L271.45,195.58 L272.36,194.06 L273.28,192.68 L274.22,191.57 L275.19,190.83 L276.19,190.55 L277.20,190.54 L278.22,190.54 L279.24,190.54 L280.26,190.54 L281.25,190.21 L282.20,189.36 L283.12,188.06 L284.01,186.44 L284.88,184.67 L285.76,182.92 L286.64,181.35 L287.55,180.11 L288.50,179.33 L289.49,179.07 L290.50,179.07 L291.51,179.07 L292.52,179.07 L293.54,179.24 L294.61,179.93 L295.72,181.09 L296.87,182.60 L298.03,184.34 L299.21,186.12 L300.37,187.77 L301.51,189.14 L302.61,190.09 L303.67,190.52 L304.69,190.54 L305.71,190.54 L306.72,190.54 L307.74,190.54 L308.76,190.54 L309.78,190.54 L310.80,190.54 L311.81,190.54 L312.83,190.54 L313.85,190.54 L314.87,190.54 L315.89,190.54 L316.90,190.54 L317.92,190.54 L318.94,190.54 L319.96,190.54 L320.98,190.54" fill="none" stroke="#dc5b2c" stroke-width="2.3" stroke-linecap="round" stroke-linejoin="round"/>
<path d="M15.59,190.54 L16.61,190.54 L17.63,190.54 L18.65,190.54 L19.66,190.54 L20.68,190.54 L21.70,190.54 L22.72,190.54 L23.74,190.54 L24.75,190.54 L25.77,190.54 L26.79,190.54 L27.81,190.54 L28.83,190.54 L29.84,190.54 L30.86,190.54 L31.87,190.64 L32.84,191.16 L33.78,192.10 L34.68,193.36 L35.57,194.83 L36.46,196.37 L37.35,197.81 L38.27,199.04 L39.22,199.91 L40.21,200.35 L41.23,200.40 L42.25,200.40 L43.28,200.40 L44.30,200.38 L45.36,199.99 L46.45,199.16 L47.57,197.98 L48.71,196.55 L49.85,195.02 L50.99,193.54 L52.11,192.24 L53.20,191.25 L54.26,190.68 L55.29,190.54 L56.31,190.54 L57.33,190.54 L58.35,190.54 L59.37,190.49 L60.42,189.96 L61.52,188.93 L62.63,187.50 L63.77,185.81 L64.91,184.03 L66.04,182.32 L67.15,180.85 L68.23,179.77 L69.28,179.17 L70.30,179.07 L71.31,179.07 L72.32,179.07 L73.33,179.08 L74.32,179.43 L75.28,180.30 L76.21,181.60 L77.12,183.21 L78.02,184.99 L78.93,186.74 L79.86,188.31 L80.80,189.54 L81.77,190.31 L82.78,190.54 L83.80,190.54 L84.81,190.54 L85.83,190.54 L86.85,190.56 L87.85,190.93 L88.82,191.74 L89.78,192.90 L90.73,194.32 L91.67,195.85 L92.61,197.34 L93.57,198.65 L94.55,199.66 L95.54,200.26 L96.56,200.40 L97.58,200.40 L98.61,200.40 L99.63,200.40 L100.67,200.17 L101.72,199.49 L102.79,198.42 L103.88,197.06 L104.96,195.55 L106.05,194.03 L107.12,192.65 L108.19,191.55 L109.23,190.82 L110.26,190.55 L111.28,190.54 L112.30,190.54 L113.32,190.54 L114.33,190.54 L115.36,190.20 L116.41,189.33 L117.47,188.02 L118.54,186.41 L119.61,184.63 L120.68,182.88 L121.75,181.32 L122.79,180.09 L123.83,179.32 L124.85,179.07 L125.86,179.07 L126.87,179.07 L127.88,179.07 L128.88,179.25 L129.87,179.95 L130.86,181.11 L131.83,182.64 L132.80,184.38 L133.77,186.16 L134.75,187.81 L135.74,189.17 L136.74,190.10 L137.75,190.53 L138.76,190.54 L139.78,190.54 L140.80,190.54 L141.82,190.54 L142.83,190.75 L143.84,191.42 L144.84,192.47 L145.84,193.82 L146.84,195.32 L147.84,196.85 L148.85,198.24 L149.86,199.36 L150.87,200.10 L151.89,200.40 L152.92,200.40 L153.94,200.40 L154.97,200.40 L155.99,200.30 L157.02,199.77 L158.05,198.82 L159.08,197.54 L160.11,196.07 L161.14,194.54 L162.17,193.10 L163.19,191.89 L164.21,191.02 L165.23,190.59 L166.25,190.54 L167.27,190.54 L168.28,190.54 L169.30,190.54 L170.32,190.38 L171.34,189.68 L172.35,188.51 L173.36,186.98 L174.37,185.24 L175.37,183.46 L176.38,181.82 L177.38,180.46 L178.38,179.52 L179.39,179.09 L180.40,179.07 L181.41,179.07 L182.42,179.07 L183.43,179.13 L184.45,179.65 L185.47,180.67 L186.50,182.09 L187.53,183.77 L188.57,185.56 L189.61,187.27 L190.65,188.75 L191.69,189.84 L192.71,190.44 L193.73,190.54 L194.75,190.54 L195.77,190.54 L196.79,190.54 L197.81,190.63 L198.84,191.14 L199.87,192.07 L200.92,193.33 L201.97,194.80 L203.03,196.33 L204.09,197.79 L205.14,199.01 L206.19,199.90 L207.23,200.35 L208.25,200.40 L209.28,200.40 L210.30,200.40 L211.33,200.38 L212.34,200.00 L213.34,199.19 L214.33,198.01 L215.30,196.58 L216.28,195.05 L217.25,193.57 L218.22,192.26 L219.21,191.27 L220.20,190.68 L221.22,190.54 L222.24,190.54 L223.25,190.54 L224.27,190.54 L225.29,190.49 L226.28,189.98 L227.26,188.96 L228.22,187.53 L229.17,185.85 L230.11,184.06 L231.05,182.35 L231.99,180.88 L232.96,179.79 L233.94,179.18 L234.94,179.07 L235.95,179.07 L236.96,179.07 L237.97,179.08 L239.00,179.41 L240.05,180.27 L241.13,181.57 L242.22,183.18 L243.33,184.95 L244.43,186.70 L245.53,188.28 L246.61,189.52 L247.67,190.30 L248.70,190.54 L249.72,190.54 L250.74,190.54 L251.76,190.54 L252.77,190.56 L253.81,190.92 L254.88,191.72 L255.97,192.88 L257.07,194.29 L258.18,195.81 L259.30,197.31 L260.40,198.63 L261.49,199.64 L262.55,200.25 L263.59,200.40 L264.61,200.40 L265.64,200.40 L266.66,200.40 L267.67,200.18 L268.65,199.51 L269.60,198.44 L270.53,197.09 L271.45,195.58 L272.36,194.06 L273.28,192.68 L274.22,191.57 L275.19,190.83 L276.19,190.55 L277.20,190.54 L278.22,190.54 L279.24,190.54 L280.26,190.54 L281.25,190.21 L282.20,189.36 L283.12,188.06 L284.01,186.44 L284.88,184.67 L285.76,182.92 L286.64,181.35 L287.55,180.11 L288.50,179.33 L289.49,179.07 L290.50,179.07 L291.51,179.07 L292.52,179.07 L293.54,179.24 L294.61,179.93 L295.72,181.09 L296.87,182.60 L298.03,184.34 L299.21,186.12 L300.37,187.77 L301.51,189.14 L302.61,190.09 L303.67,190.52 L304.69,190.54 L305.71,190.54 L306.72,190.54 L307.74,190.54 L308.76,190.54 L309.78,190.54 L310.80,190.54 L311.81,190.54 L312.83,190.54 L313.85,190.54 L314.87,190.54 L315.89,190.54 L316.90,190.54 L317.92,190.54 L318.94,190.54 L319.96,190.54 L320.98,190.54" fill="none" stroke="#ee8656" stroke-width="0.8" stroke-linecap="round" stroke-linejoin="round" transform="translate(0,-0.4)"/>
<path d="M12.85,216.28 L13.88,216.28 L14.92,216.28 L15.96,216.28 L16.99,216.28 L18.03,216.28 L19.07,216.28 L20.10,216.28 L21.14,216.28 L22.18,216.28 L23.21,216.28 L24.25,216.28 L25.28,216.28 L26.32,216.28 L27.36,216.28 L28.39,216.28 L29.44,216.20 L30.53,215.61 L31.66,214.51 L32.83,213.00 L34.03,211.23 L35.22,209.38 L36.41,207.63 L37.57,206.14 L38.69,205.06 L39.77,204.49 L40.80,204.41 L41.83,204.41 L42.86,204.41 L43.89,204.42 L44.88,204.84 L45.83,205.78 L46.75,207.17 L47.65,208.86 L48.53,210.71 L49.42,212.51 L50.33,214.11 L51.27,215.34 L52.25,216.09 L53.27,216.28 L54.31,216.28 L55.35,216.28 L56.38,216.28 L57.42,216.32 L58.42,216.75 L59.40,217.63 L60.35,218.87 L61.28,220.36 L62.21,221.94 L63.14,223.48 L64.10,224.81 L65.07,225.81 L66.08,226.37 L67.11,226.48 L68.16,226.48 L69.20,226.48 L70.24,226.48 L71.31,226.19 L72.40,225.43 L73.51,224.27 L74.64,222.84 L75.78,221.26 L76.91,219.70 L78.03,218.30 L79.14,217.20 L80.21,216.51 L81.26,216.28 L82.30,216.28 L83.34,216.28 L84.37,216.28 L85.41,216.26 L86.47,215.83 L87.56,214.87 L88.67,213.46 L89.79,211.76 L90.92,209.91 L92.04,208.11 L93.15,206.53 L94.24,205.32 L95.30,204.59 L96.34,204.41 L97.37,204.41 L98.40,204.41 L99.43,204.41 L100.44,204.66 L101.44,205.46 L102.41,206.74 L103.37,208.36 L104.32,210.17 L105.28,212.01 L106.25,213.68 L107.23,215.04 L108.23,215.93 L109.25,216.28 L110.29,216.28 L111.32,216.28 L112.36,216.28 L113.40,216.28 L114.42,216.58 L115.43,217.33 L116.43,218.48 L117.42,219.91 L118.41,221.49 L119.40,223.05 L120.40,224.46 L121.41,225.56 L122.43,226.26 L123.47,226.48 L124.51,226.48 L125.56,226.48 L126.60,226.48 L127.65,226.32 L128.71,225.69 L129.78,224.64 L130.85,223.27 L131.93,221.72 L133.01,220.14 L134.08,218.68 L135.14,217.48 L136.20,216.66 L137.24,216.30 L138.28,216.28 L139.31,216.28 L140.35,216.28 L141.39,216.28 L142.43,216.02 L143.48,215.20 L144.53,213.90 L145.59,212.27 L146.65,210.44 L147.71,208.61 L148.76,206.95 L149.81,205.62 L150.84,204.75 L151.88,204.41 L152.91,204.41 L153.93,204.41 L154.96,204.41 L155.99,204.53 L157.01,205.18 L158.04,206.33 L159.06,207.87 L160.08,209.64 L161.10,211.49 L162.13,213.23 L163.16,214.69 L164.19,215.73 L165.23,216.24 L166.27,216.28 L167.30,216.28 L168.34,216.28 L169.38,216.28 L170.41,216.44 L171.45,217.07 L172.49,218.12 L173.53,219.48 L174.58,221.03 L175.63,222.61 L176.68,224.08 L177.73,225.28 L178.78,226.11 L179.82,226.47 L180.87,226.48 L181.91,226.48 L182.95,226.48 L184.00,226.42 L185.04,225.92 L186.07,224.98 L187.09,223.69 L188.11,222.17 L189.13,220.58 L190.15,219.07 L191.17,217.79 L192.19,216.85 L193.22,216.35 L194.25,216.28 L195.29,216.28 L196.33,216.28 L197.36,216.28 L198.40,216.15 L199.42,215.48 L200.43,214.32 L201.43,212.76 L202.42,210.97 L203.41,209.13 L204.40,207.40 L205.40,205.96 L206.40,204.94 L207.42,204.45 L208.44,204.41 L209.47,204.41 L210.50,204.41 L211.53,204.45 L212.57,204.94 L213.63,205.96 L214.71,207.39 L215.79,209.12 L216.89,210.97 L217.98,212.75 L219.07,214.31 L220.14,215.48 L221.20,216.15 L222.24,216.28 L223.28,216.28 L224.32,216.28 L225.35,216.28 L226.39,216.35 L227.45,216.85 L228.52,217.78 L229.61,219.07 L230.71,220.58 L231.82,222.17 L232.93,223.68 L234.03,224.97 L235.11,225.91 L236.18,226.41 L237.22,226.48 L238.27,226.48 L239.31,226.48 L240.35,226.47 L241.38,226.11 L242.38,225.29 L243.36,224.09 L244.33,222.62 L245.29,221.04 L246.25,219.49 L247.22,218.13 L248.20,217.08 L249.20,216.45 L250.23,216.28 L251.27,216.28 L252.30,216.28 L253.34,216.28 L254.38,216.24 L255.38,215.73 L256.36,214.70 L257.31,213.24 L258.24,211.50 L259.16,209.65 L260.08,207.87 L261.02,206.34 L261.97,205.19 L262.96,204.53 L263.98,204.41 L265.01,204.41 L266.04,204.41 L267.07,204.41 L268.12,204.74 L269.20,205.62 L270.33,206.95 L271.47,208.61 L272.63,210.44 L273.79,212.26 L274.94,213.90 L276.07,215.19 L277.16,216.01 L278.22,216.28 L279.26,216.28 L280.29,216.28 L281.33,216.28 L282.37,216.29 L283.43,216.66 L284.53,217.47 L285.66,218.67 L286.82,220.13 L287.98,221.71 L289.15,223.26 L290.30,224.63 L291.43,225.69 L292.52,226.32 L293.58,226.48 L294.62,226.48 L295.67,226.48 L296.71,226.48 L297.73,226.26 L298.72,225.57 L299.66,224.46 L300.58,223.06 L301.49,221.49 L302.39,219.92 L303.30,218.49 L304.23,217.34 L305.20,216.58 L306.21,216.28 L307.25,216.28 L308.28,216.28 L309.32,216.28 L310.36,216.28 L311.39,216.28 L312.43,216.28 L313.47,216.28 L314.50,216.28 L315.54,216.28 L316.58,216.28 L317.61,216.28 L318.65,216.28 L319.69,216.28 L320.72,216.28 L321.76,216.28 L322.80,216.28 L323.83,216.28" fill="none" stroke="#a0401c" stroke-width="3.7" stroke-linecap="round" stroke-linejoin="round"/>
<path d="M12.85,216.28 L13.88,216.28 L14.92,216.28 L15.96,216.28 L16.99,216.28 L18.03,216.28 L19.07,216.28 L20.10,216.28 L21.14,216.28 L22.18,216.28 L23.21,216.28 L24.25,216.28 L25.28,216.28 L26.32,216.28 L27.36,216.28 L28.39,216.28 L29.44,216.20 L30.53,215.61 L31.66,214.51 L32.83,213.00 L34.03,211.23 L35.22,209.38 L36.41,207.63 L37.57,206.14 L38.69,205.06 L39.77,204.49 L40.80,204.41 L41.83,204.41 L42.86,204.41 L43.89,204.42 L44.88,204.84 L45.83,205.78 L46.75,207.17 L47.65,208.86 L48.53,210.71 L49.42,212.51 L50.33,214.11 L51.27,215.34 L52.25,216.09 L53.27,216.28 L54.31,216.28 L55.35,216.28 L56.38,216.28 L57.42,216.32 L58.42,216.75 L59.40,217.63 L60.35,218.87 L61.28,220.36 L62.21,221.94 L63.14,223.48 L64.10,224.81 L65.07,225.81 L66.08,226.37 L67.11,226.48 L68.16,226.48 L69.20,226.48 L70.24,226.48 L71.31,226.19 L72.40,225.43 L73.51,224.27 L74.64,222.84 L75.78,221.26 L76.91,219.70 L78.03,218.30 L79.14,217.20 L80.21,216.51 L81.26,216.28 L82.30,216.28 L83.34,216.28 L84.37,216.28 L85.41,216.26 L86.47,215.83 L87.56,214.87 L88.67,213.46 L89.79,211.76 L90.92,209.91 L92.04,208.11 L93.15,206.53 L94.24,205.32 L95.30,204.59 L96.34,204.41 L97.37,204.41 L98.40,204.41 L99.43,204.41 L100.44,204.66 L101.44,205.46 L102.41,206.74 L103.37,208.36 L104.32,210.17 L105.28,212.01 L106.25,213.68 L107.23,215.04 L108.23,215.93 L109.25,216.28 L110.29,216.28 L111.32,216.28 L112.36,216.28 L113.40,216.28 L114.42,216.58 L115.43,217.33 L116.43,218.48 L117.42,219.91 L118.41,221.49 L119.40,223.05 L120.40,224.46 L121.41,225.56 L122.43,226.26 L123.47,226.48 L124.51,226.48 L125.56,226.48 L126.60,226.48 L127.65,226.32 L128.71,225.69 L129.78,224.64 L130.85,223.27 L131.93,221.72 L133.01,220.14 L134.08,218.68 L135.14,217.48 L136.20,216.66 L137.24,216.30 L138.28,216.28 L139.31,216.28 L140.35,216.28 L141.39,216.28 L142.43,216.02 L143.48,215.20 L144.53,213.90 L145.59,212.27 L146.65,210.44 L147.71,208.61 L148.76,206.95 L149.81,205.62 L150.84,204.75 L151.88,204.41 L152.91,204.41 L153.93,204.41 L154.96,204.41 L155.99,204.53 L157.01,205.18 L158.04,206.33 L159.06,207.87 L160.08,209.64 L161.10,211.49 L162.13,213.23 L163.16,214.69 L164.19,215.73 L165.23,216.24 L166.27,216.28 L167.30,216.28 L168.34,216.28 L169.38,216.28 L170.41,216.44 L171.45,217.07 L172.49,218.12 L173.53,219.48 L174.58,221.03 L175.63,222.61 L176.68,224.08 L177.73,225.28 L178.78,226.11 L179.82,226.47 L180.87,226.48 L181.91,226.48 L182.95,226.48 L184.00,226.42 L185.04,225.92 L186.07,224.98 L187.09,223.69 L188.11,222.17 L189.13,220.58 L190.15,219.07 L191.17,217.79 L192.19,216.85 L193.22,216.35 L194.25,216.28 L195.29,216.28 L196.33,216.28 L197.36,216.28 L198.40,216.15 L199.42,215.48 L200.43,214.32 L201.43,212.76 L202.42,210.97 L203.41,209.13 L204.40,207.40 L205.40,205.96 L206.40,204.94 L207.42,204.45 L208.44,204.41 L209.47,204.41 L210.50,204.41 L211.53,204.45 L212.57,204.94 L213.63,205.96 L214.71,207.39 L215.79,209.12 L216.89,210.97 L217.98,212.75 L219.07,214.31 L220.14,215.48 L221.20,216.15 L222.24,216.28 L223.28,216.28 L224.32,216.28 L225.35,216.28 L226.39,216.35 L227.45,216.85 L228.52,217.78 L229.61,219.07 L230.71,220.58 L231.82,222.17 L232.93,223.68 L234.03,224.97 L235.11,225.91 L236.18,226.41 L237.22,226.48 L238.27,226.48 L239.31,226.48 L240.35,226.47 L241.38,226.11 L242.38,225.29 L243.36,224.09 L244.33,222.62 L245.29,221.04 L246.25,219.49 L247.22,218.13 L248.20,217.08 L249.20,216.45 L250.23,216.28 L251.27,216.28 L252.30,216.28 L253.34,216.28 L254.38,216.24 L255.38,215.73 L256.36,214.70 L257.31,213.24 L258.24,211.50 L259.16,209.65 L260.08,207.87 L261.02,206.34 L261.97,205.19 L262.96,204.53 L263.98,204.41 L265.01,204.41 L266.04,204.41 L267.07,204.41 L268.12,204.74 L269.20,205.62 L270.33,206.95 L271.47,208.61 L272.63,210.44 L273.79,212.26 L274.94,213.90 L276.07,215.19 L277.16,216.01 L278.22,216.28 L279.26,216.28 L280.29,216.28 L281.33,216.28 L282.37,216.29 L283.43,216.66 L284.53,217.47 L285.66,218.67 L286.82,220.13 L287.98,221.71 L289.15,223.26 L290.30,224.63 L291.43,225.69 L292.52,226.32 L293.58,226.48 L294.62,226.48 L295.67,226.48 L296.71,226.48 L297.73,226.26 L298.72,225.57 L299.66,224.46 L300.58,223.06 L301.49,221.49 L302.39,219.92 L303.30,218.49 L304.23,217.34 L305.20,216.58 L306.21,216.28 L307.25,216.28 L308.28,216.28 L309.32,216.28 L310.36,216.28 L311.39,216.28 L312.43,216.28 L313.47,216.28 L314.50,216.28 L315.54,216.28 L316.58,216.28 L317.61,216.28 L318.65,216.28 L319.69,216.28 L320.72,216.28 L321.76,216.28 L322.80,216.28 L323.83,216.28" fill="none" stroke="#dc5b2c" stroke-width="2.3" stroke-linecap="round" stroke-linejoin="round"/>
<path d="M12.85,216.28 L13.88,216.28 L14.92,216.28 L15.96,216.28 L16.99,216.28 L18.03,216.28 L19.07,216.28 L20.10,216.28 L21.14,216.28 L22.18,216.28 L23.21,216.28 L24.25,216.28 L25.28,216.28 L26.32,216.28 L27.36,216.28 L28.39,216.28 L29.44,216.20 L30.53,215.61 L31.66,214.51 L32.83,213.00 L34.03,211.23 L35.22,209.38 L36.41,207.63 L37.57,206.14 L38.69,205.06 L39.77,204.49 L40.80,204.41 L41.83,204.41 L42.86,204.41 L43.89,204.42 L44.88,204.84 L45.83,205.78 L46.75,207.17 L47.65,208.86 L48.53,210.71 L49.42,212.51 L50.33,214.11 L51.27,215.34 L52.25,216.09 L53.27,216.28 L54.31,216.28 L55.35,216.28 L56.38,216.28 L57.42,216.32 L58.42,216.75 L59.40,217.63 L60.35,218.87 L61.28,220.36 L62.21,221.94 L63.14,223.48 L64.10,224.81 L65.07,225.81 L66.08,226.37 L67.11,226.48 L68.16,226.48 L69.20,226.48 L70.24,226.48 L71.31,226.19 L72.40,225.43 L73.51,224.27 L74.64,222.84 L75.78,221.26 L76.91,219.70 L78.03,218.30 L79.14,217.20 L80.21,216.51 L81.26,216.28 L82.30,216.28 L83.34,216.28 L84.37,216.28 L85.41,216.26 L86.47,215.83 L87.56,214.87 L88.67,213.46 L89.79,211.76 L90.92,209.91 L92.04,208.11 L93.15,206.53 L94.24,205.32 L95.30,204.59 L96.34,204.41 L97.37,204.41 L98.40,204.41 L99.43,204.41 L100.44,204.66 L101.44,205.46 L102.41,206.74 L103.37,208.36 L104.32,210.17 L105.28,212.01 L106.25,213.68 L107.23,215.04 L108.23,215.93 L109.25,216.28 L110.29,216.28 L111.32,216.28 L112.36,216.28 L113.40,216.28 L114.42,216.58 L115.43,217.33 L116.43,218.48 L117.42,219.91 L118.41,221.49 L119.40,223.05 L120.40,224.46 L121.41,225.56 L122.43,226.26 L123.47,226.48 L124.51,226.48 L125.56,226.48 L126.60,226.48 L127.65,226.32 L128.71,225.69 L129.78,224.64 L130.85,223.27 L131.93,221.72 L133.01,220.14 L134.08,218.68 L135.14,217.48 L136.20,216.66 L137.24,216.30 L138.28,216.28 L139.31,216.28 L140.35,216.28 L141.39,216.28 L142.43,216.02 L143.48,215.20 L144.53,213.90 L145.59,212.27 L146.65,210.44 L147.71,208.61 L148.76,206.95 L149.81,205.62 L150.84,204.75 L151.88,204.41 L152.91,204.41 L153.93,204.41 L154.96,204.41 L155.99,204.53 L157.01,205.18 L158.04,206.33 L159.06,207.87 L160.08,209.64 L161.10,211.49 L162.13,213.23 L163.16,214.69 L164.19,215.73 L165.23,216.24 L166.27,216.28 L167.30,216.28 L168.34,216.28 L169.38,216.28 L170.41,216.44 L171.45,217.07 L172.49,218.12 L173.53,219.48 L174.58,221.03 L175.63,222.61 L176.68,224.08 L177.73,225.28 L178.78,226.11 L179.82,226.47 L180.87,226.48 L181.91,226.48 L182.95,226.48 L184.00,226.42 L185.04,225.92 L186.07,224.98 L187.09,223.69 L188.11,222.17 L189.13,220.58 L190.15,219.07 L191.17,217.79 L192.19,216.85 L193.22,216.35 L194.25,216.28 L195.29,216.28 L196.33,216.28 L197.36,216.28 L198.40,216.15 L199.42,215.48 L200.43,214.32 L201.43,212.76 L202.42,210.97 L203.41,209.13 L204.40,207.40 L205.40,205.96 L206.40,204.94 L207.42,204.45 L208.44,204.41 L209.47,204.41 L210.50,204.41 L211.53,204.45 L212.57,204.94 L213.63,205.96 L214.71,207.39 L215.79,209.12 L216.89,210.97 L217.98,212.75 L219.07,214.31 L220.14,215.48 L221.20,216.15 L222.24,216.28 L223.28,216.28 L224.32,216.28 L225.35,216.28 L226.39,216.35 L227.45,216.85 L228.52,217.78 L229.61,219.07 L230.71,220.58 L231.82,222.17 L232.93,223.68 L234.03,224.97 L235.11,225.91 L236.18,226.41 L237.22,226.48 L238.27,226.48 L239.31,226.48 L240.35,226.47 L241.38,226.11 L242.38,225.29 L243.36,224.09 L244.33,222.62 L245.29,221.04 L246.25,219.49 L247.22,218.13 L248.20,217.08 L249.20,216.45 L250.23,216.28 L251.27,216.28 L252.30,216.28 L253.34,216.28 L254.38,216.24 L255.38,215.73 L256.36,214.70 L257.31,213.24 L258.24,211.50 L259.16,209.65 L260.08,207.87 L261.02,206.34 L261.97,205.19 L262.96,204.53 L263.98,204.41 L265.01,204.41 L266.04,204.41 L267.07,204.41 L268.12,204.74 L269.20,205.62 L270.33,206.95 L271.47,208.61 L272.63,210.44 L273.79,212.26 L274.94,213.90 L276.07,215.19 L277.16,216.01 L278.22,216.28 L279.26,216.28 L280.29,216.28 L281.33,216.28 L282.37,216.29 L283.43,216.66 L284.53,217.47 L285.66,218.67 L286.82,220.13 L287.98,221.71 L289.15,223.26 L290.30,224.63 L291.43,225.69 L292.52,226.32 L293.58,226.48 L294.62,226.48 L295.67,226.48 L296.71,226.48 L297.73,226.26 L298.72,225.57 L299.66,224.46 L300.58,223.06 L301.49,221.49 L302.39,219.92 L303.30,218.49 L304.23,217.34 L305.20,216.58 L306.21,216.28 L307.25,216.28 L308.28,216.28 L309.32,216.28 L310.36,216.28 L311.39,216.28 L312.43,216.28 L313.47,216.28 L314.50,216.28 L315.54,216.28 L316.58,216.28 L317.61,216.28 L318.65,216.28 L319.69,216.28 L320.72,216.28 L321.76,216.28 L322.80,216.28 L323.83,216.28" fill="none" stroke="#ee8656" stroke-width="0.8" stroke-linecap="round" stroke-linejoin="round" transform="translate(0,-0.4)"/>
<path d="M10.00,242.93 L11.06,242.93 L12.11,242.93 L13.17,242.93 L14.22,242.93 L15.28,242.93 L16.34,242.93 L17.39,242.93 L18.45,242.93 L19.50,242.93 L20.56,242.93 L21.62,242.93 L22.67,242.93 L23.73,242.93 L24.78,242.93 L25.84,242.93 L26.89,242.97 L27.90,243.45 L28.88,244.38 L29.82,245.68 L30.74,247.23 L31.65,248.88 L32.57,250.46 L33.52,251.83 L34.49,252.84 L35.51,253.40 L36.56,253.49 L37.62,253.49 L38.69,253.49 L39.75,253.49 L40.84,253.15 L41.97,252.33 L43.13,251.11 L44.31,249.61 L45.50,247.97 L46.69,246.36 L47.86,244.93 L49.00,243.81 L50.11,243.13 L51.18,242.93 L52.24,242.93 L53.30,242.93 L54.35,242.93 L55.41,242.89 L56.50,242.40 L57.63,241.36 L58.79,239.88 L59.97,238.09 L61.16,236.17 L62.34,234.32 L63.50,232.71 L64.63,231.49 L65.72,230.78 L66.78,230.63 L67.83,230.63 L68.87,230.63 L69.92,230.63 L70.95,230.95 L71.94,231.83 L72.91,233.19 L73.85,234.89 L74.79,236.78 L75.72,238.68 L76.68,240.39 L77.65,241.75 L78.66,242.62 L79.69,242.93 L80.75,242.93 L81.81,242.93 L82.86,242.93 L83.92,242.94 L84.95,243.29 L85.97,244.13 L86.96,245.35 L87.94,246.86 L88.91,248.50 L89.89,250.11 L90.88,251.54 L91.89,252.64 L92.92,253.31 L93.97,253.49 L95.04,253.49 L96.10,253.49 L97.16,253.49 L98.24,253.27 L99.33,252.56 L100.44,251.43 L101.57,249.98 L102.70,248.36 L103.82,246.72 L104.94,245.24 L106.05,244.04 L107.14,243.24 L108.20,242.93 L109.26,242.93 L110.32,242.93 L111.37,242.93 L112.43,242.92 L113.50,242.57 L114.58,241.65 L115.69,240.25 L116.80,238.52 L117.91,236.62 L119.02,234.74 L120.13,233.05 L121.22,231.73 L122.29,230.90 L123.35,230.63 L124.39,230.63 L125.44,230.63 L126.49,230.63 L127.53,230.82 L128.56,231.58 L129.58,232.83 L130.58,234.47 L131.59,236.34 L132.60,238.25 L133.61,240.02 L134.64,241.47 L135.67,242.47 L136.72,242.91 L137.77,242.93 L138.83,242.93 L139.88,242.93 L140.94,242.93 L141.99,243.17 L143.04,243.89 L144.08,245.04 L145.11,246.49 L146.15,248.11 L147.19,249.75 L148.23,251.23 L149.27,252.42 L150.33,253.20 L151.39,253.49 L152.45,253.49 L153.52,253.49 L154.58,253.49 L155.64,253.37 L156.71,252.77 L157.78,251.72 L158.85,250.33 L159.92,248.74 L160.98,247.10 L162.05,245.56 L163.11,244.28 L164.17,243.39 L165.23,242.96 L166.28,242.93 L167.34,242.93 L168.39,242.93 L169.45,242.93 L170.51,242.71 L171.56,241.91 L172.61,240.61 L173.66,238.95 L174.70,237.07 L175.74,235.16 L176.79,233.42 L177.82,232.00 L178.87,231.04 L179.91,230.64 L180.96,230.63 L182.01,230.63 L183.05,230.63 L184.10,230.73 L185.16,231.35 L186.22,232.50 L187.29,234.07 L188.36,235.89 L189.44,237.81 L190.52,239.63 L191.60,241.17 L192.67,242.28 L193.74,242.86 L194.79,242.93 L195.85,242.93 L196.91,242.93 L197.96,242.93 L199.02,243.07 L200.09,243.68 L201.17,244.74 L202.26,246.13 L203.35,247.73 L204.45,249.37 L205.55,250.91 L206.64,252.18 L207.73,253.06 L208.80,253.47 L209.87,253.49 L210.93,253.49 L211.99,253.49 L213.05,253.44 L214.10,252.95 L215.14,252.00 L216.16,250.68 L217.17,249.12 L218.17,247.47 L219.18,245.90 L220.19,244.55 L221.21,243.56 L222.25,243.01 L223.30,242.93 L224.36,242.93 L225.42,242.93 L226.47,242.93 L227.52,242.81 L228.55,242.14 L229.56,240.95 L230.55,239.36 L231.53,237.51 L232.50,235.60 L233.47,233.80 L234.45,232.29 L235.46,231.22 L236.48,230.68 L237.52,230.63 L238.57,230.63 L239.62,230.63 L240.67,230.67 L241.74,231.16 L242.84,232.19 L243.96,233.67 L245.10,235.45 L246.25,237.37 L247.40,239.22 L248.54,240.85 L249.66,242.07 L250.75,242.78 L251.82,242.93 L252.87,242.93 L253.93,242.93 L254.98,242.93 L256.04,242.99 L257.13,243.50 L258.24,244.46 L259.38,245.79 L260.53,247.35 L261.69,249.00 L262.85,250.57 L263.99,251.91 L265.12,252.89 L266.21,253.42 L267.28,253.49 L268.34,253.49 L269.41,253.49 L270.47,253.48 L271.51,253.11 L272.51,252.26 L273.49,251.01 L274.45,249.50 L275.39,247.86 L276.34,246.25 L277.29,244.84 L278.27,243.75 L279.28,243.10 L280.33,242.93 L281.38,242.93 L282.44,242.93 L283.49,242.93 L284.55,242.88 L285.56,242.35 L286.53,241.27 L287.47,239.76 L288.38,237.95 L289.28,236.04 L290.19,234.20 L291.11,232.61 L292.06,231.42 L293.05,230.76 L294.09,230.63 L295.14,230.63 L296.18,230.63 L297.23,230.64 L298.31,230.99 L299.44,231.91 L300.61,233.30 L301.81,235.02 L303.03,236.92 L304.25,238.81 L305.45,240.50 L306.63,241.83 L307.76,242.66 L308.84,242.93 L309.89,242.93 L310.95,242.93 L312.00,242.93 L313.06,242.93 L314.12,242.93 L315.17,242.93 L316.23,242.93 L317.28,242.93 L318.34,242.93 L319.40,242.93 L320.45,242.93 L321.51,242.93 L322.56,242.93 L323.62,242.93 L324.68,242.93 L325.73,242.93 L326.79,242.93" fill="none" stroke="#a0401c" stroke-width="3.7" stroke-linecap="round" stroke-linejoin="round"/>
<path d="M10.00,242.93 L11.06,242.93 L12.11,242.93 L13.17,242.93 L14.22,242.93 L15.28,242.93 L16.34,242.93 L17.39,242.93 L18.45,242.93 L19.50,242.93 L20.56,242.93 L21.62,242.93 L22.67,242.93 L23.73,242.93 L24.78,242.93 L25.84,242.93 L26.89,242.97 L27.90,243.45 L28.88,244.38 L29.82,245.68 L30.74,247.23 L31.65,248.88 L32.57,250.46 L33.52,251.83 L34.49,252.84 L35.51,253.40 L36.56,253.49 L37.62,253.49 L38.69,253.49 L39.75,253.49 L40.84,253.15 L41.97,252.33 L43.13,251.11 L44.31,249.61 L45.50,247.97 L46.69,246.36 L47.86,244.93 L49.00,243.81 L50.11,243.13 L51.18,242.93 L52.24,242.93 L53.30,242.93 L54.35,242.93 L55.41,242.89 L56.50,242.40 L57.63,241.36 L58.79,239.88 L59.97,238.09 L61.16,236.17 L62.34,234.32 L63.50,232.71 L64.63,231.49 L65.72,230.78 L66.78,230.63 L67.83,230.63 L68.87,230.63 L69.92,230.63 L70.95,230.95 L71.94,231.83 L72.91,233.19 L73.85,234.89 L74.79,236.78 L75.72,238.68 L76.68,240.39 L77.65,241.75 L78.66,242.62 L79.69,242.93 L80.75,242.93 L81.81,242.93 L82.86,242.93 L83.92,242.94 L84.95,243.29 L85.97,244.13 L86.96,245.35 L87.94,246.86 L88.91,248.50 L89.89,250.11 L90.88,251.54 L91.89,252.64 L92.92,253.31 L93.97,253.49 L95.04,253.49 L96.10,253.49 L97.16,253.49 L98.24,253.27 L99.33,252.56 L100.44,251.43 L101.57,249.98 L102.70,248.36 L103.82,246.72 L104.94,245.24 L106.05,244.04 L107.14,243.24 L108.20,242.93 L109.26,242.93 L110.32,242.93 L111.37,242.93 L112.43,242.92 L113.50,242.57 L114.58,241.65 L115.69,240.25 L116.80,238.52 L117.91,236.62 L119.02,234.74 L120.13,233.05 L121.22,231.73 L122.29,230.90 L123.35,230.63 L124.39,230.63 L125.44,230.63 L126.49,230.63 L127.53,230.82 L128.56,231.58 L129.58,232.83 L130.58,234.47 L131.59,236.34 L132.60,238.25 L133.61,240.02 L134.64,241.47 L135.67,242.47 L136.72,242.91 L137.77,242.93 L138.83,242.93 L139.88,242.93 L140.94,242.93 L141.99,243.17 L143.04,243.89 L144.08,245.04 L145.11,246.49 L146.15,248.11 L147.19,249.75 L148.23,251.23 L149.27,252.42 L150.33,253.20 L151.39,253.49 L152.45,253.49 L153.52,253.49 L154.58,253.49 L155.64,253.37 L156.71,252.77 L157.78,251.72 L158.85,250.33 L159.92,248.74 L160.98,247.10 L162.05,245.56 L163.11,244.28 L164.17,243.39 L165.23,242.96 L166.28,242.93 L167.34,242.93 L168.39,242.93 L169.45,242.93 L170.51,242.71 L171.56,241.91 L172.61,240.61 L173.66,238.95 L174.70,237.07 L175.74,235.16 L176.79,233.42 L177.82,232.00 L178.87,231.04 L179.91,230.64 L180.96,230.63 L182.01,230.63 L183.05,230.63 L184.10,230.73 L185.16,231.35 L186.22,232.50 L187.29,234.07 L188.36,235.89 L189.44,237.81 L190.52,239.63 L191.60,241.17 L192.67,242.28 L193.74,242.86 L194.79,242.93 L195.85,242.93 L196.91,242.93 L197.96,242.93 L199.02,243.07 L200.09,243.68 L201.17,244.74 L202.26,246.13 L203.35,247.73 L204.45,249.37 L205.55,250.91 L206.64,252.18 L207.73,253.06 L208.80,253.47 L209.87,253.49 L210.93,253.49 L211.99,253.49 L213.05,253.44 L214.10,252.95 L215.14,252.00 L216.16,250.68 L217.17,249.12 L218.17,247.47 L219.18,245.90 L220.19,244.55 L221.21,243.56 L222.25,243.01 L223.30,242.93 L224.36,242.93 L225.42,242.93 L226.47,242.93 L227.52,242.81 L228.55,242.14 L229.56,240.95 L230.55,239.36 L231.53,237.51 L232.50,235.60 L233.47,233.80 L234.45,232.29 L235.46,231.22 L236.48,230.68 L237.52,230.63 L238.57,230.63 L239.62,230.63 L240.67,230.67 L241.74,231.16 L242.84,232.19 L243.96,233.67 L245.10,235.45 L246.25,237.37 L247.40,239.22 L248.54,240.85 L249.66,242.07 L250.75,242.78 L251.82,242.93 L252.87,242.93 L253.93,242.93 L254.98,242.93 L256.04,242.99 L257.13,243.50 L258.24,244.46 L259.38,245.79 L260.53,247.35 L261.69,249.00 L262.85,250.57 L263.99,251.91 L265.12,252.89 L266.21,253.42 L267.28,253.49 L268.34,253.49 L269.41,253.49 L270.47,253.48 L271.51,253.11 L272.51,252.26 L273.49,251.01 L274.45,249.50 L275.39,247.86 L276.34,246.25 L277.29,244.84 L278.27,243.75 L279.28,243.10 L280.33,242.93 L281.38,242.93 L282.44,242.93 L283.49,242.93 L284.55,242.88 L285.56,242.35 L286.53,241.27 L287.47,239.76 L288.38,237.95 L289.28,236.04 L290.19,234.20 L291.11,232.61 L292.06,231.42 L293.05,230.76 L294.09,230.63 L295.14,230.63 L296.18,230.63 L297.23,230.64 L298.31,230.99 L299.44,231.91 L300.61,233.30 L301.81,235.02 L303.03,236.92 L304.25,238.81 L305.45,240.50 L306.63,241.83 L307.76,242.66 L308.84,242.93 L309.89,242.93 L310.95,242.93 L312.00,242.93 L313.06,242.93 L314.12,242.93 L315.17,242.93 L316.23,242.93 L317.28,242.93 L318.34,242.93 L319.40,242.93 L320.45,242.93 L321.51,242.93 L322.56,242.93 L323.62,242.93 L324.68,242.93 L325.73,242.93 L326.79,242.93" fill="none" stroke="#dc5b2c" stroke-width="2.3" stroke-linecap="round" stroke-linejoin="round"/>
<path d="M10.00,242.93 L11.06,242.93 L12.11,242.93 L13.17,242.93 L14.22,242.93 L15.28,242.93 L16.34,242.93 L17.39,242.93 L18.45,242.93 L19.50,242.93 L20.56,242.93 L21.62,242.93 L22.67,242.93 L23.73,242.93 L24.78,242.93 L25.84,242.93 L26.89,242.97 L27.90,243.45 L28.88,244.38 L29.82,245.68 L30.74,247.23 L31.65,248.88 L32.57,250.46 L33.52,251.83 L34.49,252.84 L35.51,253.40 L36.56,253.49 L37.62,253.49 L38.69,253.49 L39.75,253.49 L40.84,253.15 L41.97,252.33 L43.13,251.11 L44.31,249.61 L45.50,247.97 L46.69,246.36 L47.86,244.93 L49.00,243.81 L50.11,243.13 L51.18,242.93 L52.24,242.93 L53.30,242.93 L54.35,242.93 L55.41,242.89 L56.50,242.40 L57.63,241.36 L58.79,239.88 L59.97,238.09 L61.16,236.17 L62.34,234.32 L63.50,232.71 L64.63,231.49 L65.72,230.78 L66.78,230.63 L67.83,230.63 L68.87,230.63 L69.92,230.63 L70.95,230.95 L71.94,231.83 L72.91,233.19 L73.85,234.89 L74.79,236.78 L75.72,238.68 L76.68,240.39 L77.65,241.75 L78.66,242.62 L79.69,242.93 L80.75,242.93 L81.81,242.93 L82.86,242.93 L83.92,242.94 L84.95,243.29 L85.97,244.13 L86.96,245.35 L87.94,246.86 L88.91,248.50 L89.89,250.11 L90.88,251.54 L91.89,252.64 L92.92,253.31 L93.97,253.49 L95.04,253.49 L96.10,253.49 L97.16,253.49 L98.24,253.27 L99.33,252.56 L100.44,251.43 L101.57,249.98 L102.70,248.36 L103.82,246.72 L104.94,245.24 L106.05,244.04 L107.14,243.24 L108.20,242.93 L109.26,242.93 L110.32,242.93 L111.37,242.93 L112.43,242.92 L113.50,242.57 L114.58,241.65 L115.69,240.25 L116.80,238.52 L117.91,236.62 L119.02,234.74 L120.13,233.05 L121.22,231.73 L122.29,230.90 L123.35,230.63 L124.39,230.63 L125.44,230.63 L126.49,230.63 L127.53,230.82 L128.56,231.58 L129.58,232.83 L130.58,234.47 L131.59,236.34 L132.60,238.25 L133.61,240.02 L134.64,241.47 L135.67,242.47 L136.72,242.91 L137.77,242.93 L138.83,242.93 L139.88,242.93 L140.94,242.93 L141.99,243.17 L143.04,243.89 L144.08,245.04 L145.11,246.49 L146.15,248.11 L147.19,249.75 L148.23,251.23 L149.27,252.42 L150.33,253.20 L151.39,253.49 L152.45,253.49 L153.52,253.49 L154.58,253.49 L155.64,253.37 L156.71,252.77 L157.78,251.72 L158.85,250.33 L159.92,248.74 L160.98,247.10 L162.05,245.56 L163.11,244.28 L164.17,243.39 L165.23,242.96 L166.28,242.93 L167.34,242.93 L168.39,242.93 L169.45,242.93 L170.51,242.71 L171.56,241.91 L172.61,240.61 L173.66,238.95 L174.70,237.07 L175.74,235.16 L176.79,233.42 L177.82,232.00 L178.87,231.04 L179.91,230.64 L180.96,230.63 L182.01,230.63 L183.05,230.63 L184.10,230.73 L185.16,231.35 L186.22,232.50 L187.29,234.07 L188.36,235.89 L189.44,237.81 L190.52,239.63 L191.60,241.17 L192.67,242.28 L193.74,242.86 L194.79,242.93 L195.85,242.93 L196.91,242.93 L197.96,242.93 L199.02,243.07 L200.09,243.68 L201.17,244.74 L202.26,246.13 L203.35,247.73 L204.45,249.37 L205.55,250.91 L206.64,252.18 L207.73,253.06 L208.80,253.47 L209.87,253.49 L210.93,253.49 L211.99,253.49 L213.05,253.44 L214.10,252.95 L215.14,252.00 L216.16,250.68 L217.17,249.12 L218.17,247.47 L219.18,245.90 L220.19,244.55 L221.21,243.56 L222.25,243.01 L223.30,242.93 L224.36,242.93 L225.42,242.93 L226.47,242.93 L227.52,242.81 L228.55,242.14 L229.56,240.95 L230.55,239.36 L231.53,237.51 L232.50,235.60 L233.47,233.80 L234.45,232.29 L235.46,231.22 L236.48,230.68 L237.52,230.63 L238.57,230.63 L239.62,230.63 L240.67,230.67 L241.74,231.16 L242.84,232.19 L243.96,233.67 L245.10,235.45 L246.25,237.37 L247.40,239.22 L248.54,240.85 L249.66,242.07 L250.75,242.78 L251.82,242.93 L252.87,242.93 L253.93,242.93 L254.98,242.93 L256.04,242.99 L257.13,243.50 L258.24,244.46 L259.38,245.79 L260.53,247.35 L261.69,249.00 L262.85,250.57 L263.99,251.91 L265.12,252.89 L266.21,253.42 L267.28,253.49 L268.34,253.49 L269.41,253.49 L270.47,253.48 L271.51,253.11 L272.51,252.26 L273.49,251.01 L274.45,249.50 L275.39,247.86 L276.34,246.25 L277.29,244.84 L278.27,243.75 L279.28,243.10 L280.33,242.93 L281.38,242.93 L282.44,242.93 L283.49,242.93 L284.55,242.88 L285.56,242.35 L286.53,241.27 L287.47,239.76 L288.38,237.95 L289.28,236.04 L290.19,234.20 L291.11,232.61 L292.06,231.42 L293.05,230.76 L294.09,230.63 L295.14,230.63 L296.18,230.63 L297.23,230.64 L298.31,230.99 L299.44,231.91 L300.61,233.30 L301.81,235.02 L303.03,236.92 L304.25,238.81 L305.45,240.50 L306.63,241.83 L307.76,242.66 L308.84,242.93 L309.89,242.93 L310.95,242.93 L312.00,242.93 L313.06,242.93 L314.12,242.93 L315.17,242.93 L316.23,242.93 L317.28,242.93 L318.34,242.93 L319.40,242.93 L320.45,242.93 L321.51,242.93 L322.56,242.93 L323.62,242.93 L324.68,242.93 L325.73,242.93 L326.79,242.93" fill="none" stroke="#ee8656" stroke-width="0.8" stroke-linecap="round" stroke-linejoin="round" transform="translate(0,-0.4)"/>
<path d="M7.05,270.53 L8.13,270.53 L9.21,270.53 L10.28,270.53 L11.36,270.53 L12.43,270.53 L13.51,270.53 L14.59,270.53 L15.66,270.53 L16.74,270.53 L17.81,270.53 L18.89,270.53 L19.97,270.53 L21.04,270.53 L22.12,270.53 L23.19,270.53 L24.27,270.49 L25.40,269.97 L26.57,268.88 L27.79,267.32 L29.02,265.46 L30.27,263.47 L31.51,261.56 L32.72,259.90 L33.90,258.65 L35.03,257.93 L36.11,257.79 L37.18,257.79 L38.24,257.79 L39.31,257.79 L40.35,258.14 L41.34,259.07 L42.29,260.50 L43.22,262.28 L44.14,264.25 L45.05,266.21 L45.99,267.97 L46.96,269.36 L47.96,270.24 L49.02,270.53 L50.09,270.53 L51.17,270.53 L52.25,270.53 L53.32,270.53 L54.40,270.53 L55.47,270.53 L56.55,270.53 L57.63,270.53 L58.70,270.53 L59.78,270.53 L60.85,270.53 L61.93,270.53 L63.01,270.53 L64.08,270.53 L65.16,270.53 L66.23,270.53 L67.31,270.53 L68.39,270.53 L69.46,270.53 L70.54,270.53 L71.61,270.53 L72.69,270.53 L73.77,270.53 L74.84,270.53 L75.92,270.53 L76.99,270.53 L78.07,270.53 L79.15,270.53 L80.22,270.53 L81.30,270.53 L82.37,270.52 L83.47,270.11 L84.60,269.11 L85.75,267.63 L86.92,265.81 L88.10,263.83 L89.26,261.89 L90.42,260.17 L91.55,258.83 L92.66,258.02 L93.74,257.79 L94.81,257.79 L95.87,257.79 L96.94,257.79 L98.00,258.04 L99.03,258.87 L100.04,260.21 L101.03,261.94 L102.02,263.89 L103.01,265.87 L104.01,267.68 L105.02,269.15 L106.06,270.13 L107.12,270.52 L108.20,270.53 L109.27,270.53 L110.35,270.53 L111.43,270.53 L112.50,270.53 L113.58,270.53 L114.65,270.53 L115.73,270.53 L116.81,270.53 L117.88,270.53 L118.96,270.53 L120.03,270.53 L121.11,270.53 L122.19,270.53 L123.26,270.53 L124.34,270.53 L125.41,270.53 L126.49,270.53 L127.57,270.53 L128.64,270.53 L129.72,270.53 L130.79,270.53 L131.87,270.53 L132.94,270.53 L134.02,270.53 L135.10,270.53 L136.17,270.53 L137.25,270.53 L138.32,270.53 L139.40,270.53 L140.48,270.53 L141.56,270.22 L142.65,269.32 L143.74,267.92 L144.84,266.15 L145.94,264.19 L147.04,262.22 L148.14,260.45 L149.22,259.04 L150.30,258.12 L151.37,257.79 L152.44,257.79 L153.50,257.79 L154.57,257.79 L155.64,257.95 L156.70,258.68 L157.76,259.94 L158.82,261.61 L159.88,263.54 L160.94,265.52 L162.01,267.38 L163.08,268.92 L164.15,269.99 L165.22,270.50 L166.30,270.53 L167.38,270.53 L168.45,270.53 L169.53,270.53 L170.60,270.53 L171.68,270.53 L172.76,270.53 L173.83,270.53 L174.91,270.53 L175.98,270.53 L177.06,270.53 L178.14,270.53 L179.21,270.53 L180.29,270.53 L181.36,270.53 L182.44,270.53 L183.52,270.53 L184.59,270.53 L185.67,270.53 L186.74,270.53 L187.82,270.53 L188.90,270.53 L189.97,270.53 L191.05,270.53 L192.12,270.53 L193.20,270.53 L194.28,270.53 L195.35,270.53 L196.43,270.53 L197.50,270.53 L198.58,270.53 L199.65,270.32 L200.71,269.53 L201.76,268.20 L202.79,266.48 L203.82,264.54 L204.85,262.56 L205.87,260.74 L206.90,259.26 L207.94,258.24 L209.00,257.81 L210.07,257.79 L211.13,257.79 L212.20,257.79 L213.27,257.88 L214.36,258.51 L215.46,259.68 L216.58,261.29 L217.71,263.18 L218.85,265.17 L219.98,267.06 L221.11,268.67 L222.23,269.84 L223.33,270.45 L224.40,270.53 L225.48,270.53 L226.56,270.53 L227.63,270.53 L228.71,270.53 L229.78,270.53 L230.86,270.53 L231.94,270.53 L233.01,270.53 L234.09,270.53 L235.16,270.53 L236.24,270.53 L237.32,270.53 L238.39,270.53 L239.47,270.53 L240.54,270.53 L241.62,270.53 L242.70,270.53 L243.77,270.53 L244.85,270.53 L245.92,270.53 L247.00,270.53 L248.08,270.53 L249.15,270.53 L250.23,270.53 L251.30,270.53 L252.38,270.53 L253.46,270.53 L254.53,270.53 L255.61,270.53 L256.68,270.53 L257.75,270.40 L258.79,269.71 L259.79,268.47 L260.77,266.81 L261.72,264.90 L262.67,262.91 L263.63,261.05 L264.60,259.49 L265.60,258.39 L266.63,257.84 L267.70,257.79 L268.77,257.79 L269.83,257.79 L270.90,257.83 L272.00,258.35 L273.15,259.44 L274.32,260.98 L275.52,262.83 L276.73,264.82 L277.94,266.74 L279.13,268.41 L280.29,269.67 L281.42,270.39 L282.51,270.53 L283.58,270.53 L284.66,270.53 L285.74,270.53 L286.81,270.53 L287.89,270.53 L288.96,270.53 L290.04,270.53 L291.12,270.53 L292.19,270.53 L293.27,270.53 L294.34,270.53 L295.42,270.53 L296.50,270.53 L297.57,270.53 L298.65,270.53 L299.72,270.53 L300.80,270.53 L301.87,270.53 L302.95,270.53 L304.03,270.53 L305.10,270.53 L306.18,270.53 L307.25,270.53 L308.33,270.53 L309.41,270.53 L310.48,270.53 L311.56,270.53 L312.63,270.53 L313.71,270.53 L314.79,270.53 L315.86,270.53 L316.94,270.53 L318.01,270.53 L319.09,270.53 L320.17,270.53 L321.24,270.53 L322.32,270.53 L323.39,270.53 L324.47,270.53 L325.55,270.53 L326.62,270.53 L327.70,270.53 L328.77,270.53 L329.85,270.53" fill="none" stroke="#a0401c" stroke-width="3.7" stroke-linecap="round" stroke-linejoin="round"/>
<path d="M7.05,270.53 L8.13,270.53 L9.21,270.53 L10.28,270.53 L11.36,270.53 L12.43,270.53 L13.51,270.53 L14.59,270.53 L15.66,270.53 L16.74,270.53 L17.81,270.53 L18.89,270.53 L19.97,270.53 L21.04,270.53 L22.12,270.53 L23.19,270.53 L24.27,270.49 L25.40,269.97 L26.57,268.88 L27.79,267.32 L29.02,265.46 L30.27,263.47 L31.51,261.56 L32.72,259.90 L33.90,258.65 L35.03,257.93 L36.11,257.79 L37.18,257.79 L38.24,257.79 L39.31,257.79 L40.35,258.14 L41.34,259.07 L42.29,260.50 L43.22,262.28 L44.14,264.25 L45.05,266.21 L45.99,267.97 L46.96,269.36 L47.96,270.24 L49.02,270.53 L50.09,270.53 L51.17,270.53 L52.25,270.53 L53.32,270.53 L54.40,270.53 L55.47,270.53 L56.55,270.53 L57.63,270.53 L58.70,270.53 L59.78,270.53 L60.85,270.53 L61.93,270.53 L63.01,270.53 L64.08,270.53 L65.16,270.53 L66.23,270.53 L67.31,270.53 L68.39,270.53 L69.46,270.53 L70.54,270.53 L71.61,270.53 L72.69,270.53 L73.77,270.53 L74.84,270.53 L75.92,270.53 L76.99,270.53 L78.07,270.53 L79.15,270.53 L80.22,270.53 L81.30,270.53 L82.37,270.52 L83.47,270.11 L84.60,269.11 L85.75,267.63 L86.92,265.81 L88.10,263.83 L89.26,261.89 L90.42,260.17 L91.55,258.83 L92.66,258.02 L93.74,257.79 L94.81,257.79 L95.87,257.79 L96.94,257.79 L98.00,258.04 L99.03,258.87 L100.04,260.21 L101.03,261.94 L102.02,263.89 L103.01,265.87 L104.01,267.68 L105.02,269.15 L106.06,270.13 L107.12,270.52 L108.20,270.53 L109.27,270.53 L110.35,270.53 L111.43,270.53 L112.50,270.53 L113.58,270.53 L114.65,270.53 L115.73,270.53 L116.81,270.53 L117.88,270.53 L118.96,270.53 L120.03,270.53 L121.11,270.53 L122.19,270.53 L123.26,270.53 L124.34,270.53 L125.41,270.53 L126.49,270.53 L127.57,270.53 L128.64,270.53 L129.72,270.53 L130.79,270.53 L131.87,270.53 L132.94,270.53 L134.02,270.53 L135.10,270.53 L136.17,270.53 L137.25,270.53 L138.32,270.53 L139.40,270.53 L140.48,270.53 L141.56,270.22 L142.65,269.32 L143.74,267.92 L144.84,266.15 L145.94,264.19 L147.04,262.22 L148.14,260.45 L149.22,259.04 L150.30,258.12 L151.37,257.79 L152.44,257.79 L153.50,257.79 L154.57,257.79 L155.64,257.95 L156.70,258.68 L157.76,259.94 L158.82,261.61 L159.88,263.54 L160.94,265.52 L162.01,267.38 L163.08,268.92 L164.15,269.99 L165.22,270.50 L166.30,270.53 L167.38,270.53 L168.45,270.53 L169.53,270.53 L170.60,270.53 L171.68,270.53 L172.76,270.53 L173.83,270.53 L174.91,270.53 L175.98,270.53 L177.06,270.53 L178.14,270.53 L179.21,270.53 L180.29,270.53 L181.36,270.53 L182.44,270.53 L183.52,270.53 L184.59,270.53 L185.67,270.53 L186.74,270.53 L187.82,270.53 L188.90,270.53 L189.97,270.53 L191.05,270.53 L192.12,270.53 L193.20,270.53 L194.28,270.53 L195.35,270.53 L196.43,270.53 L197.50,270.53 L198.58,270.53 L199.65,270.32 L200.71,269.53 L201.76,268.20 L202.79,266.48 L203.82,264.54 L204.85,262.56 L205.87,260.74 L206.90,259.26 L207.94,258.24 L209.00,257.81 L210.07,257.79 L211.13,257.79 L212.20,257.79 L213.27,257.88 L214.36,258.51 L215.46,259.68 L216.58,261.29 L217.71,263.18 L218.85,265.17 L219.98,267.06 L221.11,268.67 L222.23,269.84 L223.33,270.45 L224.40,270.53 L225.48,270.53 L226.56,270.53 L227.63,270.53 L228.71,270.53 L229.78,270.53 L230.86,270.53 L231.94,270.53 L233.01,270.53 L234.09,270.53 L235.16,270.53 L236.24,270.53 L237.32,270.53 L238.39,270.53 L239.47,270.53 L240.54,270.53 L241.62,270.53 L242.70,270.53 L243.77,270.53 L244.85,270.53 L245.92,270.53 L247.00,270.53 L248.08,270.53 L249.15,270.53 L250.23,270.53 L251.30,270.53 L252.38,270.53 L253.46,270.53 L254.53,270.53 L255.61,270.53 L256.68,270.53 L257.75,270.40 L258.79,269.71 L259.79,268.47 L260.77,266.81 L261.72,264.90 L262.67,262.91 L263.63,261.05 L264.60,259.49 L265.60,258.39 L266.63,257.84 L267.70,257.79 L268.77,257.79 L269.83,257.79 L270.90,257.83 L272.00,258.35 L273.15,259.44 L274.32,260.98 L275.52,262.83 L276.73,264.82 L277.94,266.74 L279.13,268.41 L280.29,269.67 L281.42,270.39 L282.51,270.53 L283.58,270.53 L284.66,270.53 L285.74,270.53 L286.81,270.53 L287.89,270.53 L288.96,270.53 L290.04,270.53 L291.12,270.53 L292.19,270.53 L293.27,270.53 L294.34,270.53 L295.42,270.53 L296.50,270.53 L297.57,270.53 L298.65,270.53 L299.72,270.53 L300.80,270.53 L301.87,270.53 L302.95,270.53 L304.03,270.53 L305.10,270.53 L306.18,270.53 L307.25,270.53 L308.33,270.53 L309.41,270.53 L310.48,270.53 L311.56,270.53 L312.63,270.53 L313.71,270.53 L314.79,270.53 L315.86,270.53 L316.94,270.53 L318.01,270.53 L319.09,270.53 L320.17,270.53 L321.24,270.53 L322.32,270.53 L323.39,270.53 L324.47,270.53 L325.55,270.53 L326.62,270.53 L327.70,270.53 L328.77,270.53 L329.85,270.53" fill="none" stroke="#dc5b2c" stroke-width="2.3" stroke-linecap="round" stroke-linejoin="round"/>
<path d="M7.05,270.53 L8.13,270.53 L9.21,270.53 L10.28,270.53 L11.36,270.53 L12.43,270.53 L13.51,270.53 L14.59,270.53 L15.66,270.53 L16.74,270.53 L17.81,270.53 L18.89,270.53 L19.97,270.53 L21.04,270.53 L22.12,270.53 L23.19,270.53 L24.27,270.49 L25.40,269.97 L26.57,268.88 L27.79,267.32 L29.02,265.46 L30.27,263.47 L31.51,261.56 L32.72,259.90 L33.90,258.65 L35.03,257.93 L36.11,257.79 L37.18,257.79 L38.24,257.79 L39.31,257.79 L40.35,258.14 L41.34,259.07 L42.29,260.50 L43.22,262.28 L44.14,264.25 L45.05,266.21 L45.99,267.97 L46.96,269.36 L47.96,270.24 L49.02,270.53 L50.09,270.53 L51.17,270.53 L52.25,270.53 L53.32,270.53 L54.40,270.53 L55.47,270.53 L56.55,270.53 L57.63,270.53 L58.70,270.53 L59.78,270.53 L60.85,270.53 L61.93,270.53 L63.01,270.53 L64.08,270.53 L65.16,270.53 L66.23,270.53 L67.31,270.53 L68.39,270.53 L69.46,270.53 L70.54,270.53 L71.61,270.53 L72.69,270.53 L73.77,270.53 L74.84,270.53 L75.92,270.53 L76.99,270.53 L78.07,270.53 L79.15,270.53 L80.22,270.53 L81.30,270.53 L82.37,270.52 L83.47,270.11 L84.60,269.11 L85.75,267.63 L86.92,265.81 L88.10,263.83 L89.26,261.89 L90.42,260.17 L91.55,258.83 L92.66,258.02 L93.74,257.79 L94.81,257.79 L95.87,257.79 L96.94,257.79 L98.00,258.04 L99.03,258.87 L100.04,260.21 L101.03,261.94 L102.02,263.89 L103.01,265.87 L104.01,267.68 L105.02,269.15 L106.06,270.13 L107.12,270.52 L108.20,270.53 L109.27,270.53 L110.35,270.53 L111.43,270.53 L112.50,270.53 L113.58,270.53 L114.65,270.53 L115.73,270.53 L116.81,270.53 L117.88,270.53 L118.96,270.53 L120.03,270.53 L121.11,270.53 L122.19,270.53 L123.26,270.53 L124.34,270.53 L125.41,270.53 L126.49,270.53 L127.57,270.53 L128.64,270.53 L129.72,270.53 L130.79,270.53 L131.87,270.53 L132.94,270.53 L134.02,270.53 L135.10,270.53 L136.17,270.53 L137.25,270.53 L138.32,270.53 L139.40,270.53 L140.48,270.53 L141.56,270.22 L142.65,269.32 L143.74,267.92 L144.84,266.15 L145.94,264.19 L147.04,262.22 L148.14,260.45 L149.22,259.04 L150.30,258.12 L151.37,257.79 L152.44,257.79 L153.50,257.79 L154.57,257.79 L155.64,257.95 L156.70,258.68 L157.76,259.94 L158.82,261.61 L159.88,263.54 L160.94,265.52 L162.01,267.38 L163.08,268.92 L164.15,269.99 L165.22,270.50 L166.30,270.53 L167.38,270.53 L168.45,270.53 L169.53,270.53 L170.60,270.53 L171.68,270.53 L172.76,270.53 L173.83,270.53 L174.91,270.53 L175.98,270.53 L177.06,270.53 L178.14,270.53 L179.21,270.53 L180.29,270.53 L181.36,270.53 L182.44,270.53 L183.52,270.53 L184.59,270.53 L185.67,270.53 L186.74,270.53 L187.82,270.53 L188.90,270.53 L189.97,270.53 L191.05,270.53 L192.12,270.53 L193.20,270.53 L194.28,270.53 L195.35,270.53 L196.43,270.53 L197.50,270.53 L198.58,270.53 L199.65,270.32 L200.71,269.53 L201.76,268.20 L202.79,266.48 L203.82,264.54 L204.85,262.56 L205.87,260.74 L206.90,259.26 L207.94,258.24 L209.00,257.81 L210.07,257.79 L211.13,257.79 L212.20,257.79 L213.27,257.88 L214.36,258.51 L215.46,259.68 L216.58,261.29 L217.71,263.18 L218.85,265.17 L219.98,267.06 L221.11,268.67 L222.23,269.84 L223.33,270.45 L224.40,270.53 L225.48,270.53 L226.56,270.53 L227.63,270.53 L228.71,270.53 L229.78,270.53 L230.86,270.53 L231.94,270.53 L233.01,270.53 L234.09,270.53 L235.16,270.53 L236.24,270.53 L237.32,270.53 L238.39,270.53 L239.47,270.53 L240.54,270.53 L241.62,270.53 L242.70,270.53 L243.77,270.53 L244.85,270.53 L245.92,270.53 L247.00,270.53 L248.08,270.53 L249.15,270.53 L250.23,270.53 L251.30,270.53 L252.38,270.53 L253.46,270.53 L254.53,270.53 L255.61,270.53 L256.68,270.53 L257.75,270.40 L258.79,269.71 L259.79,268.47 L260.77,266.81 L261.72,264.90 L262.67,262.91 L263.63,261.05 L264.60,259.49 L265.60,258.39 L266.63,257.84 L267.70,257.79 L268.77,257.79 L269.83,257.79 L270.90,257.83 L272.00,258.35 L273.15,259.44 L274.32,260.98 L275.52,262.83 L276.73,264.82 L277.94,266.74 L279.13,268.41 L280.29,269.67 L281.42,270.39 L282.51,270.53 L283.58,270.53 L284.66,270.53 L285.74,270.53 L286.81,270.53 L287.89,270.53 L288.96,270.53 L290.04,270.53 L291.12,270.53 L292.19,270.53 L293.27,270.53 L294.34,270.53 L295.42,270.53 L296.50,270.53 L297.57,270.53 L298.65,270.53 L299.72,270.53 L300.80,270.53 L301.87,270.53 L302.95,270.53 L304.03,270.53 L305.10,270.53 L306.18,270.53 L307.25,270.53 L308.33,270.53 L309.41,270.53 L310.48,270.53 L311.56,270.53 L312.63,270.53 L313.71,270.53 L314.79,270.53 L315.86,270.53 L316.94,270.53 L318.01,270.53 L319.09,270.53 L320.17,270.53 L321.24,270.53 L322.32,270.53 L323.39,270.53 L324.47,270.53 L325.55,270.53 L326.62,270.53 L327.70,270.53 L328.77,270.53 L329.85,270.53" fill="none" stroke="#ee8656" stroke-width="0.8" stroke-linecap="round" stroke-linejoin="round" transform="translate(0,-0.4)"/>
<g transform="translate(47.50,21.60)">
<path d="M7.9,1.2 C7.2,0.1 5.4,0.0 4.4,1.6 C3.5,3.0 2.6,6.0 1.9,7.4 C1.5,8.2 1.0,8.8 0.5,9.1 C1.8,8.4 3.2,8.7 4.6,9.0 C6.0,9.3 7.4,8.9 8.3,7.6" fill="none" stroke="#111" stroke-width="1.0" stroke-linecap="round"/>
<path d="M4.0,2.4 C3.3,3.9 2.7,5.8 2.2,6.9" fill="none" stroke="#111" stroke-width="1.5" stroke-linecap="round"/>
<circle cx="7.3" cy="1.7" r="0.95" fill="#111"/>
<text x="9.3" y="12.0" font-family="Liberation Serif" font-size="9.5" fill="#111">1</text>
</g>
<g transform="translate(74.40,21.60)">
<path d="M7.9,1.2 C7.2,0.1 5.4,0.0 4.4,1.6 C3.5,3.0 2.6,6.0 1.9,7.4 C1.5,8.2 1.0,8.8 0.5,9.1 C1.8,8.4 3.2,8.7 4.6,9.0 C6.0,9.3 7.4,8.9 8.3,7.6" fill="none" stroke="#111" stroke-width="1.0" stroke-linecap="round"/>
<path d="M4.0,2.4 C3.3,3.9 2.7,5.8 2.2,6.9" fill="none" stroke="#111" stroke-width="1.5" stroke-linecap="round"/>
<circle cx="7.3" cy="1.7" r="0.95" fill="#111"/>
<text x="9.3" y="12.0" font-family="Liberation Serif" font-size="9.5" fill="#111">2</text>
</g>
<g transform="translate(100.00,21.60)">
<path d="M7.9,1.2 C7.2,0.1 5.4,0.0 4.4,1.6 C3.5,3.0 2.6,6.0 1.9,7.4 C1.5,8.2 1.0,8.8 0.5,9.1 C1.8,8.4 3.2,8.7 4.6,9.0 C6.0,9.3 7.4,8.9 8.3,7.6" fill="none" stroke="#111" stroke-width="1.0" stroke-linecap="round"/>
<path d="M4.0,2.4 C3.3,3.9 2.7,5.8 2.2,6.9" fill="none" stroke="#111" stroke-width="1.5" stroke-linecap="round"/>
<circle cx="7.3" cy="1.7" r="0.95" fill="#111"/>
<text x="9.3" y="12.0" font-family="Liberation Serif" font-size="9.5" fill="#111">1</text>
</g>
<g transform="translate(125.50,21.60)">
<path d="M7.9,1.2 C7.2,0.1 5.4,0.0 4.4,1.6 C3.5,3.0 2.6,6.0 1.9,7.4 C1.5,8.2 1.0,8.8 0.5,9.1 C1.8,8.4 3.2,8.7 4.6,9.0 C6.0,9.3 7.4,8.9 8.3,7.6" fill="none" stroke="#111" stroke-width="1.0" stroke-linecap="round"/>
<path d="M4.0,2.4 C3.3,3.9 2.7,5.8 2.2,6.9" fill="none" stroke="#111" stroke-width="1.5" stroke-linecap="round"/>
<circle cx="7.3" cy="1.7" r="0.95" fill="#111"/>
<text x="9.3" y="12.0" font-family="Liberation Serif" font-size="9.5" fill="#111">2</text>
</g>
<g transform="translate(151.10,21.60)">
<path d="M7.9,1.2 C7.2,0.1 5.4,0.0 4.4,1.6 C3.5,3.0 2.6,6.0 1.9,7.4 C1.5,8.2 1.0,8.8 0.5,9.1 C1.8,8.4 3.2,8.7 4.6,9.0 C6.0,9.3 7.4,8.9 8.3,7.6" fill="none" stroke="#111" stroke-width="1.0" stroke-linecap="round"/>
<path d="M4.0,2.4 C3.3,3.9 2.7,5.8 2.2,6.9" fill="none" stroke="#111" stroke-width="1.5" stroke-linecap="round"/>
<circle cx="7.3" cy="1.7" r="0.95" fill="#111"/>
<text x="9.3" y="12.0" font-family="Liberation Serif" font-size="9.5" fill="#111">1</text>
</g>
<g transform="translate(176.50,21.60)">
<path d="M7.9,1.2 C7.2,0.1 5.4,0.0 4.4,1.6 C3.5,3.0 2.6,6.0 1.9,7.4 C1.5,8.2 1.0,8.8 0.5,9.1 C1.8,8.4 3.2,8.7 4.6,9.0 C6.0,9.3 7.4,8.9 8.3,7.6" fill="none" stroke="#111" stroke-width="1.0" stroke-linecap="round"/>
<path d="M4.0,2.4 C3.3,3.9 2.7,5.8 2.2,6.9" fill="none" stroke="#111" stroke-width="1.5" stroke-linecap="round"/>
<circle cx="7.3" cy="1.7" r="0.95" fill="#111"/>
<text x="9.3" y="12.0" font-family="Liberation Serif" font-size="9.5" fill="#111">2</text>
</g>
<g transform="translate(201.60,21.60)">
<path d="M7.9,1.2 C7.2,0.1 5.4,0.0 4.4,1.6 C3.5,3.0 2.6,6.0 1.9,7.4 C1.5,8.2 1.0,8.8 0.5,9.1 C1.8,8.4 3.2,8.7 4.6,9.0 C6.0,9.3 7.4,8.9 8.3,7.6" fill="none" stroke="#111" stroke-width="1.0" stroke-linecap="round"/>
<path d="M4.0,2.4 C3.3,3.9 2.7,5.8 2.2,6.9" fill="none" stroke="#111" stroke-width="1.5" stroke-linecap="round"/>
<circle cx="7.3" cy="1.7" r="0.95" fill="#111"/>
<text x="9.3" y="12.0" font-family="Liberation Serif" font-size="9.5" fill="#111">1</text>
</g>
<g transform="translate(226.10,21.60)">
<path d="M7.9,1.2 C7.2,0.1 5.4,0.0 4.4,1.6 C3.5,3.0 2.6,6.0 1.9,7.4 C1.5,8.2 1.0,8.8 0.5,9.1 C1.8,8.4 3.2,8.7 4.6,9.0 C6.0,9.3 7.4,8.9 8.3,7.6" fill="none" stroke="#111" stroke-width="1.0" stroke-linecap="round"/>
<path d="M4.0,2.4 C3.3,3.9 2.7,5.8 2.2,6.9" fill="none" stroke="#111" stroke-width="1.5" stroke-linecap="round"/>
<circle cx="7.3" cy="1.7" r="0.95" fill="#111"/>
<text x="9.3" y="12.0" font-family="Liberation Serif" font-size="9.5" fill="#111">2</text>
</g>
<g transform="translate(253.70,21.60)">
<path d="M7.9,1.2 C7.2,0.1 5.4,0.0 4.4,1.6 C3.5,3.0 2.6,6.0 1.9,7.4 C1.5,8.2 1.0,8.8 0.5,9.1 C1.8,8.4 3.2,8.7 4.6,9.0 C6.0,9.3 7.4,8.9 8.3,7.6" fill="none" stroke="#111" stroke-width="1.0" stroke-linecap="round"/>
<path d="M4.0,2.4 C3.3,3.9 2.7,5.8 2.2,6.9" fill="none" stroke="#111" stroke-width="1.5" stroke-linecap="round"/>
<circle cx="7.3" cy="1.7" r="0.95" fill="#111"/>
<text x="9.3" y="12.0" font-family="Liberation Serif" font-size="9.5" fill="#111">1</text>
</g>
<g transform="translate(277.20,21.60)">
<path d="M7.9,1.2 C7.2,0.1 5.4,0.0 4.4,1.6 C3.5,3.0 2.6,6.0 1.9,7.4 C1.5,8.2 1.0,8.8 0.5,9.1 C1.8,8.4 3.2,8.7 4.6,9.0 C6.0,9.3 7.4,8.9 8.3,7.6" fill="none" stroke="#111" stroke-width="1.0" stroke-linecap="round"/>
<path d="M4.0,2.4 C3.3,3.9 2.7,5.8 2.2,6.9" fill="none" stroke="#111" stroke-width="1.5" stroke-linecap="round"/>
<circle cx="7.3" cy="1.7" r="0.95" fill="#111"/>
<text x="9.3" y="12.0" font-family="Liberation Serif" font-size="9.5" fill="#111">2</text>
</g>
<path d="M19.3,292.2 C22,301.5 45,304.3 70,304.6 C95,305 108,306.5 112.6,315.2 C117,306.5 130,305 155,304.6 C180,304.3 201,301.5 203.7,292.2" fill="none" stroke="#5c5c5c" stroke-width="2.3"/>
<path d="M108.7,319.6 V327.8 M110.9,319.6 V327.8 M108.0,327.9 H111.8 M108.0,319.6 H115.6 V321.6 M110.9,323.7 H114.0 M114.0,322.6 V324.8" fill="none" stroke="#6a6a6a" stroke-width="0.9"/>
<text x="116.0" y="330.9" font-family="Liberation Serif" font-style="italic" font-size="10.5" fill="#555">p</text>

<rect x="413.80" y="7.1" width="23" height="116.7" fill="#e5e5e5"/>
<rect x="460.74" y="7.1" width="23" height="116.7" fill="#e5e5e5"/>
<rect x="507.68" y="7.1" width="23" height="116.7" fill="#e5e5e5"/>
<rect x="554.62" y="7.1" width="23" height="116.7" fill="#e5e5e5"/>
<rect x="601.56" y="7.1" width="23" height="116.7" fill="#e5e5e5"/>
<line x1="402.4" y1="39.5" x2="660.2" y2="39.5" stroke="#86a1cd" stroke-width="1.1"/>
<line x1="402.4" y1="94.7" x2="660.2" y2="94.7" stroke="#f0a08a" stroke-width="1.1"/>
<line x1="425.30" y1="21.60" x2="425.30" y2="65.4" stroke="#6684bb" stroke-width="1" stroke-dasharray="2.6,3"/>
<line x1="448.77" y1="30.80" x2="448.77" y2="65.4" stroke="#6684bb" stroke-width="1" stroke-dasharray="2.6,3"/>
<line x1="472.24" y1="32.50" x2="472.24" y2="65.4" stroke="#6684bb" stroke-width="1" stroke-dasharray="2.6,3"/>
<line x1="495.71" y1="38.30" x2="495.71" y2="65.4" stroke="#6684bb" stroke-width="1" stroke-dasharray="2.6,3"/>
<line x1="519.18" y1="37.50" x2="519.18" y2="65.4" stroke="#6684bb" stroke-width="1" stroke-dasharray="2.6,3"/>
<line x1="542.65" y1="45.00" x2="542.65" y2="65.4" stroke="#9bb1d8" stroke-width="2.8"/>
<line x1="566.12" y1="44.20" x2="566.12" y2="65.4" stroke="#7893c4" stroke-width="3.0"/>
<line x1="589.59" y1="44.70" x2="589.59" y2="65.4" stroke="#9bb1d8" stroke-width="2.8"/>
<line x1="613.06" y1="42.80" x2="613.06" y2="65.4" stroke="#7893c4" stroke-width="3.0"/>
<line x1="636.53" y1="44.30" x2="636.53" y2="65.4" stroke="#9bb1d8" stroke-width="2.8"/>
<line x1="448.77" y1="65.4" x2="448.77" y2="75.30" stroke="#f3ab95" stroke-width="2.4"/>
<line x1="472.24" y1="65.4" x2="472.24" y2="80.90" stroke="#e58f78" stroke-width="2.9"/>
<line x1="495.71" y1="65.4" x2="495.71" y2="90.40" stroke="#f3ab95" stroke-width="2.4"/>
<line x1="519.18" y1="65.4" x2="519.18" y2="82.60" stroke="#e58f78" stroke-width="2.9"/>
<line x1="542.65" y1="65.4" x2="542.65" y2="94.70" stroke="#ee9070" stroke-width="1.1" stroke-dasharray="2.6,3"/>
<line x1="566.12" y1="65.4" x2="566.12" y2="83.50" stroke="#e58f78" stroke-width="2.9"/>
<line x1="589.59" y1="65.4" x2="589.59" y2="88.80" stroke="#f3ab95" stroke-width="2.4"/>
<line x1="613.06" y1="65.4" x2="613.06" y2="92.00" stroke="#ee9070" stroke-width="1.1" stroke-dasharray="2.6,3"/>
<line x1="636.53" y1="65.4" x2="636.53" y2="71.00" stroke="#f3ab95" stroke-width="2.4"/>
<line x1="402.4" y1="65.4" x2="660.2" y2="65.4" stroke="#666" stroke-width="1.15"/>
<circle cx="425.30" cy="18.6" r="2.5" fill="#d8e1f0" stroke="#5b7cb7" stroke-width="1"/>
<circle cx="448.77" cy="27.8" r="2.5" fill="#d8e1f0" stroke="#5b7cb7" stroke-width="1"/>
<circle cx="472.24" cy="29.5" r="2.5" fill="#d8e1f0" stroke="#5b7cb7" stroke-width="1"/>
<circle cx="495.71" cy="35.3" r="2.5" fill="#d8e1f0" stroke="#5b7cb7" stroke-width="1"/>
<circle cx="519.18" cy="34.5" r="2.5" fill="#d8e1f0" stroke="#5b7cb7" stroke-width="1"/>
<circle cx="542.65" cy="42.5" r="2.5" fill="#d8e1f0" stroke="#5b7cb7" stroke-width="1"/>
<circle cx="566.12" cy="41.7" r="2.5" fill="#d8e1f0" stroke="#5b7cb7" stroke-width="1"/>
<circle cx="589.59" cy="42.2" r="2.5" fill="#d8e1f0" stroke="#5b7cb7" stroke-width="1"/>
<circle cx="613.06" cy="40.3" r="2.5" fill="#d8e1f0" stroke="#5b7cb7" stroke-width="1"/>
<circle cx="636.53" cy="41.8" r="2.5" fill="#d8e1f0" stroke="#5b7cb7" stroke-width="1"/>
<rect x="422.90" y="63.00" width="4.8" height="4.8" fill="#f6c8b8" fill-opacity="0.5" stroke="#dc6c4c" stroke-width="1"/>
<path d="M423.50,65.40 H427.10 M425.30,63.60 V67.20" stroke="#dc6c4c" stroke-width="0.5" opacity="0.6"/>
<rect x="446.37" y="75.40" width="4.8" height="4.8" fill="#f6c8b8" fill-opacity="0.5" stroke="#ec8c6e" stroke-width="1"/>
<path d="M446.97,77.80 H450.57 M448.77,76.00 V79.60" stroke="#ec8c6e" stroke-width="0.5" opacity="0.6"/>
<rect x="469.84" y="81.00" width="4.8" height="4.8" fill="#f6c8b8" fill-opacity="0.5" stroke="#dc6c4c" stroke-width="1"/>
<path d="M470.44,83.40 H474.04 M472.24,81.60 V85.20" stroke="#dc6c4c" stroke-width="0.5" opacity="0.6"/>
<rect x="493.31" y="90.50" width="4.8" height="4.8" fill="#f6c8b8" fill-opacity="0.5" stroke="#ec8c6e" stroke-width="1"/>
<path d="M493.91,92.90 H497.51 M495.71,91.10 V94.70" stroke="#ec8c6e" stroke-width="0.5" opacity="0.6"/>
<rect x="516.78" y="82.70" width="4.8" height="4.8" fill="#f6c8b8" fill-opacity="0.5" stroke="#dc6c4c" stroke-width="1"/>
<path d="M517.38,85.10 H520.98 M519.18,83.30 V86.90" stroke="#dc6c4c" stroke-width="0.5" opacity="0.6"/>
<rect x="540.25" y="95.00" width="4.8" height="4.8" fill="#f6c8b8" fill-opacity="0.5" stroke="#ec8c6e" stroke-width="1"/>
<path d="M540.85,97.40 H544.45 M542.65,95.60 V99.20" stroke="#ec8c6e" stroke-width="0.5" opacity="0.6"/>
<rect x="563.72" y="83.60" width="4.8" height="4.8" fill="#f6c8b8" fill-opacity="0.5" stroke="#dc6c4c" stroke-width="1"/>
<path d="M564.32,86.00 H567.92 M566.12,84.20 V87.80" stroke="#dc6c4c" stroke-width="0.5" opacity="0.6"/>
<rect x="587.19" y="88.90" width="4.8" height="4.8" fill="#f6c8b8" fill-opacity="0.5" stroke="#ec8c6e" stroke-width="1"/>
<path d="M587.79,91.30 H591.39 M589.59,89.50 V93.10" stroke="#ec8c6e" stroke-width="0.5" opacity="0.6"/>
<rect x="610.66" y="92.30" width="4.8" height="4.8" fill="#f6c8b8" fill-opacity="0.5" stroke="#ec8c6e" stroke-width="1"/>
<path d="M611.26,94.70 H614.86 M613.06,92.90 V96.50" stroke="#ec8c6e" stroke-width="0.5" opacity="0.6"/>
<rect x="634.13" y="71.10" width="4.8" height="4.8" fill="#f6c8b8" fill-opacity="0.5" stroke="#dc6c4c" stroke-width="1"/>
<path d="M634.73,73.50 H638.33 M636.53,71.70 V75.30" stroke="#dc6c4c" stroke-width="0.5" opacity="0.6"/>
<rect x="402.4" y="1.5" width="257.80" height="128.10" fill="none" stroke="#858585" stroke-width="1.35"/>
<line x1="425.30" y1="129.6" x2="425.30" y2="123.6" stroke="#5a5a5a" stroke-width="1.1"/>
<text x="425.30" y="142.9" text-anchor="middle" font-family="Liberation Sans" font-size="12" fill="#606060">1</text>
<line x1="495.71" y1="129.6" x2="495.71" y2="123.6" stroke="#5a5a5a" stroke-width="1.1"/>
<text x="495.71" y="142.9" text-anchor="middle" font-family="Liberation Sans" font-size="12" fill="#606060">4</text>
<line x1="566.12" y1="129.6" x2="566.12" y2="123.6" stroke="#5a5a5a" stroke-width="1.1"/>
<text x="566.12" y="142.9" text-anchor="middle" font-family="Liberation Sans" font-size="12" fill="#606060">7</text>
<line x1="636.53" y1="129.6" x2="636.53" y2="123.6" stroke="#5a5a5a" stroke-width="1.1"/>
<text x="636.53" y="142.9" text-anchor="middle" font-family="Liberation Sans" font-size="12" fill="#606060">10</text>
<line x1="402.4" y1="7.0" x2="404.9" y2="7.0" stroke="#5a5a5a" stroke-width="1"/>
<line x1="660.2" y1="7.0" x2="657.7" y2="7.0" stroke="#5a5a5a" stroke-width="1"/>
<line x1="402.4" y1="65.4" x2="404.9" y2="65.4" stroke="#5a5a5a" stroke-width="1"/>
<line x1="660.2" y1="65.4" x2="657.7" y2="65.4" stroke="#5a5a5a" stroke-width="1"/>
<line x1="402.4" y1="123.8" x2="404.9" y2="123.8" stroke="#5a5a5a" stroke-width="1"/>
<line x1="660.2" y1="123.8" x2="657.7" y2="123.8" stroke="#5a5a5a" stroke-width="1"/>
<line x1="660.2" y1="39.5" x2="657.7" y2="39.5" stroke="#5a5a5a" stroke-width="1"/>
<line x1="660.2" y1="94.7" x2="657.7" y2="94.7" stroke="#5a5a5a" stroke-width="1"/>
<text x="400.3" y="12.0" text-anchor="end" font-family="Liberation Sans" font-size="12" fill="#606060">1</text>
<text x="400.5" y="69.6" text-anchor="end" font-family="Liberation Sans" font-size="12" fill="#606060">0</text>
<text x="396" y="121.8" text-anchor="middle" font-family="Liberation Sans" font-size="9.8" fill="#555">1</text>
<line x1="392.9" y1="123.8" x2="399.1" y2="123.8" stroke="#555" stroke-width="0.8"/>
<text x="396" y="132.3" text-anchor="middle" font-family="Liberation Sans" font-size="9.2" fill="#555">4</text>
<text transform="translate(393.8,43.9) rotate(-90)" font-family="Liberation Sans" font-size="12.6" fill="#666">N<tspan font-style="italic" dx="0.6">μ</tspan></text>
<line x1="385.8" y1="29.3" x2="385.8" y2="33.6" stroke="#666" stroke-width="0.8"/>
<text transform="translate(394.2,103.3) rotate(-90)" font-family="Liberation Sans" font-size="12.6" fill="#666">N<tspan font-style="italic" dx="0.6">σ</tspan></text>
<line x1="386.0" y1="88" x2="386.0" y2="93.8" stroke="#666" stroke-width="0.8"/>
<text x="662" y="42.7" font-family="Liberation Sans" font-size="10.5" fill="#5a80bb">N<tspan font-style="italic">μ</tspan><tspan font-size="8.6" dy="2.9" dx="0.2">th</tspan></text>
<path d="M663.2,34.4 C663.8,33.2 664.6,33.2 665.3,33.9 C666,34.6 666.8,34.6 667.4,33.4" fill="none" stroke="#5a80bb" stroke-width="0.8"/>
<text x="662" y="98.6" font-family="Liberation Sans" font-size="10.5" fill="#e0663e">N<tspan font-style="italic">σ</tspan><tspan font-size="8.6" dy="2.0" dx="0.2">th</tspan></text>
<path d="M670.0,91.6 C670.6,90.4 671.4,90.4 672.1,91.1 C672.8,91.8 673.6,91.8 674.2,90.6" fill="none" stroke="#e0663e" stroke-width="0.8"/>
<text x="533" y="161.9" text-anchor="middle" font-family="Liberation Serif" font-size="14" fill="#333" textLength="128" lengthAdjust="spacingAndGlyphs">Number of layers (p)</text>
<rect x="404.3" y="185.3" width="258.40" height="112.70" fill="#fff"/>
<line x1="427.50" y1="185.3" x2="427.50" y2="298.0" stroke="#eeeeee" stroke-width="0.8"/>
<line x1="451.05" y1="185.3" x2="451.05" y2="298.0" stroke="#eeeeee" stroke-width="0.8"/>
<line x1="474.60" y1="185.3" x2="474.60" y2="298.0" stroke="#eeeeee" stroke-width="0.8"/>
<line x1="498.15" y1="185.3" x2="498.15" y2="298.0" stroke="#eeeeee" stroke-width="0.8"/>
<line x1="521.70" y1="185.3" x2="521.70" y2="298.0" stroke="#eeeeee" stroke-width="0.8"/>
<line x1="545.25" y1="185.3" x2="545.25" y2="298.0" stroke="#eeeeee" stroke-width="0.8"/>
<line x1="568.80" y1="185.3" x2="568.80" y2="298.0" stroke="#eeeeee" stroke-width="0.8"/>
<line x1="592.35" y1="185.3" x2="592.35" y2="298.0" stroke="#eeeeee" stroke-width="0.8"/>
<line x1="615.90" y1="185.3" x2="615.90" y2="298.0" stroke="#eeeeee" stroke-width="0.8"/>
<line x1="639.45" y1="185.3" x2="639.45" y2="298.0" stroke="#eeeeee" stroke-width="0.8"/>
<line x1="404.3" y1="188.80" x2="662.7" y2="188.80" stroke="#eeeeee" stroke-width="0.8"/>
<line x1="404.3" y1="224.10" x2="662.7" y2="224.10" stroke="#eeeeee" stroke-width="0.8"/>
<line x1="404.3" y1="259.40" x2="662.7" y2="259.40" stroke="#eeeeee" stroke-width="0.8"/>
<line x1="404.3" y1="294.70" x2="662.7" y2="294.70" stroke="#eeeeee" stroke-width="0.8"/>
<circle cx="422.80" cy="195.30" r="2.35" fill="#0072bd" fill-opacity="0.4"/>
<circle cx="422.80" cy="195.30" r="2.35" fill="#0072bd" fill-opacity="0.4"/>
<circle cx="422.80" cy="195.30" r="2.35" fill="#0072bd" fill-opacity="0.4"/>
<circle cx="422.80" cy="195.30" r="2.35" fill="#0072bd" fill-opacity="0.4"/>
<circle cx="422.80" cy="195.30" r="2.35" fill="#0072bd" fill-opacity="0.4"/>
<circle cx="422.80" cy="195.30" r="2.35" fill="#0072bd" fill-opacity="0.4"/>
<circle cx="422.80" cy="195.30" r="2.35" fill="#0072bd" fill-opacity="0.4"/>
<circle cx="422.80" cy="195.30" r="2.35" fill="#0072bd" fill-opacity="0.4"/>
<circle cx="446.19" cy="205.90" r="2.35" fill="#0072bd" fill-opacity="0.4"/>
<circle cx="446.38" cy="206.86" r="2.35" fill="#0072bd" fill-opacity="0.4"/>
<circle cx="446.27" cy="207.81" r="2.35" fill="#0072bd" fill-opacity="0.4"/>
<circle cx="446.41" cy="208.77" r="2.35" fill="#0072bd" fill-opacity="0.4"/>
<circle cx="446.43" cy="209.73" r="2.35" fill="#0072bd" fill-opacity="0.4"/>
<circle cx="446.09" cy="210.69" r="2.35" fill="#0072bd" fill-opacity="0.4"/>
<circle cx="446.06" cy="211.64" r="2.35" fill="#0072bd" fill-opacity="0.4"/>
<circle cx="446.55" cy="212.60" r="2.35" fill="#0072bd" fill-opacity="0.4"/>
<circle cx="446.21" cy="206.40" r="2.35" fill="#0072bd" fill-opacity="0.4"/>
<circle cx="446.19" cy="207.82" r="2.35" fill="#0072bd" fill-opacity="0.4"/>
<circle cx="446.65" cy="209.25" r="2.35" fill="#0072bd" fill-opacity="0.4"/>
<circle cx="446.33" cy="210.68" r="2.35" fill="#0072bd" fill-opacity="0.4"/>
<circle cx="446.55" cy="212.10" r="2.35" fill="#0072bd" fill-opacity="0.4"/>
<circle cx="446.34" cy="217.00" r="2.35" fill="#0072bd" fill-opacity="0.4"/>
<circle cx="469.98" cy="207.10" r="2.35" fill="#0072bd" fill-opacity="0.4"/>
<circle cx="469.69" cy="208.09" r="2.35" fill="#0072bd" fill-opacity="0.4"/>
<circle cx="469.98" cy="209.08" r="2.35" fill="#0072bd" fill-opacity="0.4"/>
<circle cx="470.12" cy="210.07" r="2.35" fill="#0072bd" fill-opacity="0.4"/>
<circle cx="469.91" cy="211.07" r="2.35" fill="#0072bd" fill-opacity="0.4"/>
<circle cx="470.04" cy="212.06" r="2.35" fill="#0072bd" fill-opacity="0.4"/>
<circle cx="470.00" cy="213.05" r="2.35" fill="#0072bd" fill-opacity="0.4"/>
<circle cx="469.64" cy="214.04" r="2.35" fill="#0072bd" fill-opacity="0.4"/>
<circle cx="470.05" cy="215.03" r="2.35" fill="#0072bd" fill-opacity="0.4"/>
<circle cx="469.95" cy="216.03" r="2.35" fill="#0072bd" fill-opacity="0.4"/>
<circle cx="469.78" cy="217.02" r="2.35" fill="#0072bd" fill-opacity="0.4"/>
<circle cx="469.62" cy="218.01" r="2.35" fill="#0072bd" fill-opacity="0.4"/>
<circle cx="470.12" cy="219.00" r="2.35" fill="#0072bd" fill-opacity="0.4"/>
<circle cx="469.88" cy="207.60" r="2.35" fill="#0072bd" fill-opacity="0.4"/>
<circle cx="470.03" cy="208.96" r="2.35" fill="#0072bd" fill-opacity="0.4"/>
<circle cx="470.13" cy="210.32" r="2.35" fill="#0072bd" fill-opacity="0.4"/>
<circle cx="470.03" cy="211.69" r="2.35" fill="#0072bd" fill-opacity="0.4"/>
<circle cx="470.15" cy="213.05" r="2.35" fill="#0072bd" fill-opacity="0.4"/>
<circle cx="469.84" cy="214.41" r="2.35" fill="#0072bd" fill-opacity="0.4"/>
<circle cx="470.08" cy="215.78" r="2.35" fill="#0072bd" fill-opacity="0.4"/>
<circle cx="469.87" cy="217.14" r="2.35" fill="#0072bd" fill-opacity="0.4"/>
<circle cx="470.16" cy="218.50" r="2.35" fill="#0072bd" fill-opacity="0.4"/>
<circle cx="470.13" cy="221.00" r="2.35" fill="#0072bd" fill-opacity="0.4"/>
<circle cx="469.66" cy="222.30" r="2.35" fill="#0072bd" fill-opacity="0.4"/>
<circle cx="493.23" cy="227.70" r="2.35" fill="#0072bd" fill-opacity="0.4"/>
<circle cx="493.28" cy="231.00" r="2.35" fill="#0072bd" fill-opacity="0.4"/>
<circle cx="493.73" cy="233.30" r="2.35" fill="#0072bd" fill-opacity="0.4"/>
<circle cx="493.41" cy="234.00" r="2.35" fill="#0072bd" fill-opacity="0.4"/>
<circle cx="493.53" cy="237.00" r="2.35" fill="#0072bd" fill-opacity="0.4"/>
<circle cx="493.33" cy="238.08" r="2.35" fill="#0072bd" fill-opacity="0.4"/>
<circle cx="493.45" cy="239.17" r="2.35" fill="#0072bd" fill-opacity="0.4"/>
<circle cx="493.38" cy="240.25" r="2.35" fill="#0072bd" fill-opacity="0.4"/>
<circle cx="493.36" cy="241.33" r="2.35" fill="#0072bd" fill-opacity="0.4"/>
<circle cx="493.50" cy="242.42" r="2.35" fill="#0072bd" fill-opacity="0.4"/>
<circle cx="493.50" cy="243.50" r="2.35" fill="#0072bd" fill-opacity="0.4"/>
<circle cx="493.69" cy="237.50" r="2.35" fill="#0072bd" fill-opacity="0.4"/>
<circle cx="493.56" cy="238.88" r="2.35" fill="#0072bd" fill-opacity="0.4"/>
<circle cx="493.71" cy="240.25" r="2.35" fill="#0072bd" fill-opacity="0.4"/>
<circle cx="493.66" cy="241.62" r="2.35" fill="#0072bd" fill-opacity="0.4"/>
<circle cx="493.74" cy="243.00" r="2.35" fill="#0072bd" fill-opacity="0.4"/>
<circle cx="493.55" cy="246.00" r="2.35" fill="#0072bd" fill-opacity="0.4"/>
<circle cx="493.25" cy="250.00" r="2.35" fill="#0072bd" fill-opacity="0.4"/>
<circle cx="493.67" cy="263.50" r="2.35" fill="#0072bd" fill-opacity="0.4"/>
<circle cx="493.73" cy="266.30" r="2.35" fill="#0072bd" fill-opacity="0.4"/>
<circle cx="493.69" cy="269.00" r="2.35" fill="#0072bd" fill-opacity="0.4"/>
<circle cx="493.49" cy="271.20" r="2.35" fill="#0072bd" fill-opacity="0.4"/>
<circle cx="493.58" cy="272.19" r="2.35" fill="#0072bd" fill-opacity="0.4"/>
<circle cx="493.28" cy="273.18" r="2.35" fill="#0072bd" fill-opacity="0.4"/>
<circle cx="493.65" cy="274.16" r="2.35" fill="#0072bd" fill-opacity="0.4"/>
<circle cx="493.49" cy="275.15" r="2.35" fill="#0072bd" fill-opacity="0.4"/>
<circle cx="493.32" cy="276.14" r="2.35" fill="#0072bd" fill-opacity="0.4"/>
<circle cx="493.19" cy="277.12" r="2.35" fill="#0072bd" fill-opacity="0.4"/>
<circle cx="493.66" cy="278.11" r="2.35" fill="#0072bd" fill-opacity="0.4"/>
<circle cx="493.74" cy="279.10" r="2.35" fill="#0072bd" fill-opacity="0.4"/>
<circle cx="493.20" cy="280.09" r="2.35" fill="#0072bd" fill-opacity="0.4"/>
<circle cx="493.63" cy="281.07" r="2.35" fill="#0072bd" fill-opacity="0.4"/>
<circle cx="493.40" cy="282.06" r="2.35" fill="#0072bd" fill-opacity="0.4"/>
<circle cx="493.24" cy="283.05" r="2.35" fill="#0072bd" fill-opacity="0.4"/>
<circle cx="493.33" cy="284.04" r="2.35" fill="#0072bd" fill-opacity="0.4"/>
<circle cx="493.61" cy="285.02" r="2.35" fill="#0072bd" fill-opacity="0.4"/>
<circle cx="493.67" cy="286.01" r="2.35" fill="#0072bd" fill-opacity="0.4"/>
<circle cx="493.18" cy="287.00" r="2.35" fill="#0072bd" fill-opacity="0.4"/>
<circle cx="493.52" cy="271.70" r="2.35" fill="#0072bd" fill-opacity="0.4"/>
<circle cx="493.18" cy="273.05" r="2.35" fill="#0072bd" fill-opacity="0.4"/>
<circle cx="493.58" cy="274.39" r="2.35" fill="#0072bd" fill-opacity="0.4"/>
<circle cx="493.35" cy="275.74" r="2.35" fill="#0072bd" fill-opacity="0.4"/>
<circle cx="493.68" cy="277.08" r="2.35" fill="#0072bd" fill-opacity="0.4"/>
<circle cx="493.74" cy="278.43" r="2.35" fill="#0072bd" fill-opacity="0.4"/>
<circle cx="493.45" cy="279.77" r="2.35" fill="#0072bd" fill-opacity="0.4"/>
<circle cx="493.75" cy="281.12" r="2.35" fill="#0072bd" fill-opacity="0.4"/>
<circle cx="493.34" cy="282.46" r="2.35" fill="#0072bd" fill-opacity="0.4"/>
<circle cx="493.20" cy="283.81" r="2.35" fill="#0072bd" fill-opacity="0.4"/>
<circle cx="493.51" cy="285.15" r="2.35" fill="#0072bd" fill-opacity="0.4"/>
<circle cx="493.17" cy="286.50" r="2.35" fill="#0072bd" fill-opacity="0.4"/>
<circle cx="516.82" cy="211.70" r="2.35" fill="#0072bd" fill-opacity="0.4"/>
<circle cx="516.94" cy="215.40" r="2.35" fill="#0072bd" fill-opacity="0.4"/>
<circle cx="517.07" cy="216.40" r="2.35" fill="#0072bd" fill-opacity="0.4"/>
<circle cx="516.79" cy="217.40" r="2.35" fill="#0072bd" fill-opacity="0.4"/>
<circle cx="516.73" cy="218.40" r="2.35" fill="#0072bd" fill-opacity="0.4"/>
<circle cx="517.22" cy="219.40" r="2.35" fill="#0072bd" fill-opacity="0.4"/>
<circle cx="516.89" cy="220.40" r="2.35" fill="#0072bd" fill-opacity="0.4"/>
<circle cx="517.28" cy="221.40" r="2.35" fill="#0072bd" fill-opacity="0.4"/>
<circle cx="517.24" cy="222.40" r="2.35" fill="#0072bd" fill-opacity="0.4"/>
<circle cx="516.93" cy="223.40" r="2.35" fill="#0072bd" fill-opacity="0.4"/>
<circle cx="516.98" cy="224.40" r="2.35" fill="#0072bd" fill-opacity="0.4"/>
<circle cx="517.01" cy="225.40" r="2.35" fill="#0072bd" fill-opacity="0.4"/>
<circle cx="517.09" cy="226.40" r="2.35" fill="#0072bd" fill-opacity="0.4"/>
<circle cx="517.06" cy="227.40" r="2.35" fill="#0072bd" fill-opacity="0.4"/>
<circle cx="517.04" cy="228.40" r="2.35" fill="#0072bd" fill-opacity="0.4"/>
<circle cx="517.07" cy="229.40" r="2.35" fill="#0072bd" fill-opacity="0.4"/>
<circle cx="517.26" cy="230.40" r="2.35" fill="#0072bd" fill-opacity="0.4"/>
<circle cx="517.00" cy="231.40" r="2.35" fill="#0072bd" fill-opacity="0.4"/>
<circle cx="516.96" cy="232.40" r="2.35" fill="#0072bd" fill-opacity="0.4"/>
<circle cx="517.13" cy="233.40" r="2.35" fill="#0072bd" fill-opacity="0.4"/>
<circle cx="516.84" cy="234.40" r="2.35" fill="#0072bd" fill-opacity="0.4"/>
<circle cx="516.88" cy="235.40" r="2.35" fill="#0072bd" fill-opacity="0.4"/>
<circle cx="517.29" cy="215.90" r="2.35" fill="#0072bd" fill-opacity="0.4"/>
<circle cx="517.01" cy="217.17" r="2.35" fill="#0072bd" fill-opacity="0.4"/>
<circle cx="517.03" cy="218.43" r="2.35" fill="#0072bd" fill-opacity="0.4"/>
<circle cx="516.71" cy="219.70" r="2.35" fill="#0072bd" fill-opacity="0.4"/>
<circle cx="516.95" cy="220.97" r="2.35" fill="#0072bd" fill-opacity="0.4"/>
<circle cx="517.05" cy="222.23" r="2.35" fill="#0072bd" fill-opacity="0.4"/>
<circle cx="516.71" cy="223.50" r="2.35" fill="#0072bd" fill-opacity="0.4"/>
<circle cx="517.07" cy="224.77" r="2.35" fill="#0072bd" fill-opacity="0.4"/>
<circle cx="517.08" cy="226.03" r="2.35" fill="#0072bd" fill-opacity="0.4"/>
<circle cx="516.74" cy="227.30" r="2.35" fill="#0072bd" fill-opacity="0.4"/>
<circle cx="517.08" cy="228.57" r="2.35" fill="#0072bd" fill-opacity="0.4"/>
<circle cx="516.98" cy="229.83" r="2.35" fill="#0072bd" fill-opacity="0.4"/>
<circle cx="517.11" cy="231.10" r="2.35" fill="#0072bd" fill-opacity="0.4"/>
<circle cx="516.91" cy="232.37" r="2.35" fill="#0072bd" fill-opacity="0.4"/>
<circle cx="517.12" cy="233.63" r="2.35" fill="#0072bd" fill-opacity="0.4"/>
<circle cx="517.14" cy="234.90" r="2.35" fill="#0072bd" fill-opacity="0.4"/>
<circle cx="516.71" cy="242.30" r="2.35" fill="#0072bd" fill-opacity="0.4"/>
<circle cx="540.29" cy="263.30" r="2.35" fill="#0072bd" fill-opacity="0.4"/>
<circle cx="540.66" cy="265.50" r="2.35" fill="#0072bd" fill-opacity="0.4"/>
<circle cx="540.83" cy="267.50" r="2.35" fill="#0072bd" fill-opacity="0.4"/>
<circle cx="540.40" cy="269.20" r="2.35" fill="#0072bd" fill-opacity="0.4"/>
<circle cx="540.52" cy="270.21" r="2.35" fill="#0072bd" fill-opacity="0.4"/>
<circle cx="540.61" cy="271.23" r="2.35" fill="#0072bd" fill-opacity="0.4"/>
<circle cx="540.44" cy="272.24" r="2.35" fill="#0072bd" fill-opacity="0.4"/>
<circle cx="540.47" cy="273.26" r="2.35" fill="#0072bd" fill-opacity="0.4"/>
<circle cx="540.44" cy="274.27" r="2.35" fill="#0072bd" fill-opacity="0.4"/>
<circle cx="540.47" cy="275.29" r="2.35" fill="#0072bd" fill-opacity="0.4"/>
<circle cx="540.61" cy="276.30" r="2.35" fill="#0072bd" fill-opacity="0.4"/>
<circle cx="540.43" cy="277.31" r="2.35" fill="#0072bd" fill-opacity="0.4"/>
<circle cx="540.48" cy="278.33" r="2.35" fill="#0072bd" fill-opacity="0.4"/>
<circle cx="540.71" cy="279.34" r="2.35" fill="#0072bd" fill-opacity="0.4"/>
<circle cx="540.27" cy="280.36" r="2.35" fill="#0072bd" fill-opacity="0.4"/>
<circle cx="540.59" cy="281.37" r="2.35" fill="#0072bd" fill-opacity="0.4"/>
<circle cx="540.69" cy="282.39" r="2.35" fill="#0072bd" fill-opacity="0.4"/>
<circle cx="540.44" cy="283.40" r="2.35" fill="#0072bd" fill-opacity="0.4"/>
<circle cx="540.38" cy="269.70" r="2.35" fill="#0072bd" fill-opacity="0.4"/>
<circle cx="540.73" cy="271.02" r="2.35" fill="#0072bd" fill-opacity="0.4"/>
<circle cx="540.39" cy="272.34" r="2.35" fill="#0072bd" fill-opacity="0.4"/>
<circle cx="540.36" cy="273.66" r="2.35" fill="#0072bd" fill-opacity="0.4"/>
<circle cx="540.51" cy="274.98" r="2.35" fill="#0072bd" fill-opacity="0.4"/>
<circle cx="540.67" cy="276.30" r="2.35" fill="#0072bd" fill-opacity="0.4"/>
<circle cx="540.31" cy="277.62" r="2.35" fill="#0072bd" fill-opacity="0.4"/>
<circle cx="540.44" cy="278.94" r="2.35" fill="#0072bd" fill-opacity="0.4"/>
<circle cx="540.45" cy="280.26" r="2.35" fill="#0072bd" fill-opacity="0.4"/>
<circle cx="540.75" cy="281.58" r="2.35" fill="#0072bd" fill-opacity="0.4"/>
<circle cx="540.51" cy="282.90" r="2.35" fill="#0072bd" fill-opacity="0.4"/>
<circle cx="540.76" cy="285.50" r="2.35" fill="#0072bd" fill-opacity="0.4"/>
<circle cx="540.35" cy="287.20" r="2.35" fill="#0072bd" fill-opacity="0.4"/>
<circle cx="564.00" cy="264.50" r="2.35" fill="#0072bd" fill-opacity="0.4"/>
<circle cx="564.19" cy="265.50" r="2.35" fill="#0072bd" fill-opacity="0.4"/>
<circle cx="564.33" cy="266.50" r="2.35" fill="#0072bd" fill-opacity="0.4"/>
<circle cx="564.07" cy="267.50" r="2.35" fill="#0072bd" fill-opacity="0.4"/>
<circle cx="563.94" cy="268.50" r="2.35" fill="#0072bd" fill-opacity="0.4"/>
<circle cx="563.87" cy="269.50" r="2.35" fill="#0072bd" fill-opacity="0.4"/>
<circle cx="564.12" cy="270.50" r="2.35" fill="#0072bd" fill-opacity="0.4"/>
<circle cx="563.91" cy="271.50" r="2.35" fill="#0072bd" fill-opacity="0.4"/>
<circle cx="564.28" cy="272.50" r="2.35" fill="#0072bd" fill-opacity="0.4"/>
<circle cx="564.30" cy="273.50" r="2.35" fill="#0072bd" fill-opacity="0.4"/>
<circle cx="563.91" cy="274.50" r="2.35" fill="#0072bd" fill-opacity="0.4"/>
<circle cx="563.97" cy="275.50" r="2.35" fill="#0072bd" fill-opacity="0.4"/>
<circle cx="564.28" cy="276.50" r="2.35" fill="#0072bd" fill-opacity="0.4"/>
<circle cx="564.19" cy="277.50" r="2.35" fill="#0072bd" fill-opacity="0.4"/>
<circle cx="564.28" cy="278.50" r="2.35" fill="#0072bd" fill-opacity="0.4"/>
<circle cx="564.01" cy="279.50" r="2.35" fill="#0072bd" fill-opacity="0.4"/>
<circle cx="563.88" cy="280.50" r="2.35" fill="#0072bd" fill-opacity="0.4"/>
<circle cx="563.98" cy="281.50" r="2.35" fill="#0072bd" fill-opacity="0.4"/>
<circle cx="564.28" cy="282.50" r="2.35" fill="#0072bd" fill-opacity="0.4"/>
<circle cx="563.96" cy="283.50" r="2.35" fill="#0072bd" fill-opacity="0.4"/>
<circle cx="564.01" cy="284.50" r="2.35" fill="#0072bd" fill-opacity="0.4"/>
<circle cx="564.05" cy="285.50" r="2.35" fill="#0072bd" fill-opacity="0.4"/>
<circle cx="564.05" cy="286.50" r="2.35" fill="#0072bd" fill-opacity="0.4"/>
<circle cx="564.05" cy="287.50" r="2.35" fill="#0072bd" fill-opacity="0.4"/>
<circle cx="564.35" cy="288.50" r="2.35" fill="#0072bd" fill-opacity="0.4"/>
<circle cx="563.89" cy="289.50" r="2.35" fill="#0072bd" fill-opacity="0.4"/>
<circle cx="563.80" cy="266.00" r="2.35" fill="#0072bd" fill-opacity="0.4"/>
<circle cx="564.37" cy="267.28" r="2.35" fill="#0072bd" fill-opacity="0.4"/>
<circle cx="564.33" cy="268.56" r="2.35" fill="#0072bd" fill-opacity="0.4"/>
<circle cx="564.39" cy="269.83" r="2.35" fill="#0072bd" fill-opacity="0.4"/>
<circle cx="564.06" cy="271.11" r="2.35" fill="#0072bd" fill-opacity="0.4"/>
<circle cx="564.37" cy="272.39" r="2.35" fill="#0072bd" fill-opacity="0.4"/>
<circle cx="564.36" cy="273.67" r="2.35" fill="#0072bd" fill-opacity="0.4"/>
<circle cx="563.93" cy="274.94" r="2.35" fill="#0072bd" fill-opacity="0.4"/>
<circle cx="564.25" cy="276.22" r="2.35" fill="#0072bd" fill-opacity="0.4"/>
<circle cx="564.30" cy="277.50" r="2.35" fill="#0072bd" fill-opacity="0.4"/>
<circle cx="564.20" cy="278.78" r="2.35" fill="#0072bd" fill-opacity="0.4"/>
<circle cx="564.11" cy="280.06" r="2.35" fill="#0072bd" fill-opacity="0.4"/>
<circle cx="563.97" cy="281.33" r="2.35" fill="#0072bd" fill-opacity="0.4"/>
<circle cx="564.00" cy="282.61" r="2.35" fill="#0072bd" fill-opacity="0.4"/>
<circle cx="563.94" cy="283.89" r="2.35" fill="#0072bd" fill-opacity="0.4"/>
<circle cx="563.84" cy="285.17" r="2.35" fill="#0072bd" fill-opacity="0.4"/>
<circle cx="564.15" cy="286.44" r="2.35" fill="#0072bd" fill-opacity="0.4"/>
<circle cx="563.97" cy="287.72" r="2.35" fill="#0072bd" fill-opacity="0.4"/>
<circle cx="564.29" cy="289.00" r="2.35" fill="#0072bd" fill-opacity="0.4"/>
<circle cx="587.38" cy="266.20" r="2.35" fill="#0072bd" fill-opacity="0.4"/>
<circle cx="587.89" cy="268.60" r="2.35" fill="#0072bd" fill-opacity="0.4"/>
<circle cx="587.77" cy="269.61" r="2.35" fill="#0072bd" fill-opacity="0.4"/>
<circle cx="587.90" cy="270.61" r="2.35" fill="#0072bd" fill-opacity="0.4"/>
<circle cx="587.89" cy="271.62" r="2.35" fill="#0072bd" fill-opacity="0.4"/>
<circle cx="587.89" cy="272.62" r="2.35" fill="#0072bd" fill-opacity="0.4"/>
<circle cx="587.70" cy="273.63" r="2.35" fill="#0072bd" fill-opacity="0.4"/>
<circle cx="587.36" cy="274.64" r="2.35" fill="#0072bd" fill-opacity="0.4"/>
<circle cx="587.80" cy="275.64" r="2.35" fill="#0072bd" fill-opacity="0.4"/>
<circle cx="587.45" cy="276.65" r="2.35" fill="#0072bd" fill-opacity="0.4"/>
<circle cx="587.53" cy="277.65" r="2.35" fill="#0072bd" fill-opacity="0.4"/>
<circle cx="587.75" cy="278.66" r="2.35" fill="#0072bd" fill-opacity="0.4"/>
<circle cx="587.66" cy="279.66" r="2.35" fill="#0072bd" fill-opacity="0.4"/>
<circle cx="587.60" cy="280.67" r="2.35" fill="#0072bd" fill-opacity="0.4"/>
<circle cx="587.91" cy="281.68" r="2.35" fill="#0072bd" fill-opacity="0.4"/>
<circle cx="587.72" cy="282.68" r="2.35" fill="#0072bd" fill-opacity="0.4"/>
<circle cx="587.55" cy="283.69" r="2.35" fill="#0072bd" fill-opacity="0.4"/>
<circle cx="587.50" cy="284.69" r="2.35" fill="#0072bd" fill-opacity="0.4"/>
<circle cx="587.87" cy="285.70" r="2.35" fill="#0072bd" fill-opacity="0.4"/>
<circle cx="587.64" cy="269.10" r="2.35" fill="#0072bd" fill-opacity="0.4"/>
<circle cx="587.82" cy="270.44" r="2.35" fill="#0072bd" fill-opacity="0.4"/>
<circle cx="587.56" cy="271.78" r="2.35" fill="#0072bd" fill-opacity="0.4"/>
<circle cx="587.47" cy="273.12" r="2.35" fill="#0072bd" fill-opacity="0.4"/>
<circle cx="587.67" cy="274.47" r="2.35" fill="#0072bd" fill-opacity="0.4"/>
<circle cx="587.84" cy="275.81" r="2.35" fill="#0072bd" fill-opacity="0.4"/>
<circle cx="587.45" cy="277.15" r="2.35" fill="#0072bd" fill-opacity="0.4"/>
<circle cx="587.83" cy="278.49" r="2.35" fill="#0072bd" fill-opacity="0.4"/>
<circle cx="587.90" cy="279.83" r="2.35" fill="#0072bd" fill-opacity="0.4"/>
<circle cx="587.83" cy="281.18" r="2.35" fill="#0072bd" fill-opacity="0.4"/>
<circle cx="587.84" cy="282.52" r="2.35" fill="#0072bd" fill-opacity="0.4"/>
<circle cx="587.35" cy="283.86" r="2.35" fill="#0072bd" fill-opacity="0.4"/>
<circle cx="587.73" cy="285.20" r="2.35" fill="#0072bd" fill-opacity="0.4"/>
<circle cx="611.42" cy="226.60" r="2.35" fill="#0072bd" fill-opacity="0.4"/>
<circle cx="610.93" cy="227.00" r="2.35" fill="#0072bd" fill-opacity="0.4"/>
<circle cx="611.06" cy="228.40" r="2.35" fill="#0072bd" fill-opacity="0.4"/>
<circle cx="611.06" cy="229.75" r="2.35" fill="#0072bd" fill-opacity="0.4"/>
<circle cx="611.22" cy="231.10" r="2.35" fill="#0072bd" fill-opacity="0.4"/>
<circle cx="611.15" cy="232.45" r="2.35" fill="#0072bd" fill-opacity="0.4"/>
<circle cx="611.18" cy="233.80" r="2.35" fill="#0072bd" fill-opacity="0.4"/>
<circle cx="611.37" cy="235.15" r="2.35" fill="#0072bd" fill-opacity="0.4"/>
<circle cx="610.90" cy="236.50" r="2.35" fill="#0072bd" fill-opacity="0.4"/>
<circle cx="610.93" cy="237.85" r="2.35" fill="#0072bd" fill-opacity="0.4"/>
<circle cx="610.98" cy="239.20" r="2.35" fill="#0072bd" fill-opacity="0.4"/>
<circle cx="610.97" cy="243.10" r="2.35" fill="#0072bd" fill-opacity="0.4"/>
<circle cx="610.94" cy="246.80" r="2.35" fill="#0072bd" fill-opacity="0.4"/>
<circle cx="611.48" cy="262.70" r="2.35" fill="#0072bd" fill-opacity="0.4"/>
<circle cx="611.41" cy="266.60" r="2.35" fill="#0072bd" fill-opacity="0.4"/>
<circle cx="610.95" cy="269.20" r="2.35" fill="#0072bd" fill-opacity="0.4"/>
<circle cx="611.20" cy="270.21" r="2.35" fill="#0072bd" fill-opacity="0.4"/>
<circle cx="611.09" cy="271.23" r="2.35" fill="#0072bd" fill-opacity="0.4"/>
<circle cx="611.09" cy="272.24" r="2.35" fill="#0072bd" fill-opacity="0.4"/>
<circle cx="611.11" cy="273.25" r="2.35" fill="#0072bd" fill-opacity="0.4"/>
<circle cx="611.29" cy="274.27" r="2.35" fill="#0072bd" fill-opacity="0.4"/>
<circle cx="611.25" cy="275.28" r="2.35" fill="#0072bd" fill-opacity="0.4"/>
<circle cx="611.12" cy="276.29" r="2.35" fill="#0072bd" fill-opacity="0.4"/>
<circle cx="611.01" cy="277.31" r="2.35" fill="#0072bd" fill-opacity="0.4"/>
<circle cx="611.10" cy="278.32" r="2.35" fill="#0072bd" fill-opacity="0.4"/>
<circle cx="610.97" cy="279.33" r="2.35" fill="#0072bd" fill-opacity="0.4"/>
<circle cx="611.23" cy="280.35" r="2.35" fill="#0072bd" fill-opacity="0.4"/>
<circle cx="611.33" cy="281.36" r="2.35" fill="#0072bd" fill-opacity="0.4"/>
<circle cx="611.13" cy="282.37" r="2.35" fill="#0072bd" fill-opacity="0.4"/>
<circle cx="610.95" cy="283.39" r="2.35" fill="#0072bd" fill-opacity="0.4"/>
<circle cx="611.01" cy="284.40" r="2.35" fill="#0072bd" fill-opacity="0.4"/>
<circle cx="611.12" cy="269.70" r="2.35" fill="#0072bd" fill-opacity="0.4"/>
<circle cx="611.26" cy="270.99" r="2.35" fill="#0072bd" fill-opacity="0.4"/>
<circle cx="611.37" cy="272.28" r="2.35" fill="#0072bd" fill-opacity="0.4"/>
<circle cx="611.13" cy="273.57" r="2.35" fill="#0072bd" fill-opacity="0.4"/>
<circle cx="611.38" cy="274.86" r="2.35" fill="#0072bd" fill-opacity="0.4"/>
<circle cx="611.27" cy="276.15" r="2.35" fill="#0072bd" fill-opacity="0.4"/>
<circle cx="611.16" cy="277.45" r="2.35" fill="#0072bd" fill-opacity="0.4"/>
<circle cx="611.12" cy="278.74" r="2.35" fill="#0072bd" fill-opacity="0.4"/>
<circle cx="611.20" cy="280.03" r="2.35" fill="#0072bd" fill-opacity="0.4"/>
<circle cx="611.32" cy="281.32" r="2.35" fill="#0072bd" fill-opacity="0.4"/>
<circle cx="611.15" cy="282.61" r="2.35" fill="#0072bd" fill-opacity="0.4"/>
<circle cx="611.32" cy="283.90" r="2.35" fill="#0072bd" fill-opacity="0.4"/>
<circle cx="634.73" cy="239.20" r="2.35" fill="#0072bd" fill-opacity="0.4"/>
<circle cx="634.60" cy="267.20" r="2.35" fill="#0072bd" fill-opacity="0.4"/>
<circle cx="634.77" cy="268.80" r="2.35" fill="#0072bd" fill-opacity="0.4"/>
<circle cx="634.87" cy="270.00" r="2.35" fill="#0072bd" fill-opacity="0.4"/>
<circle cx="634.49" cy="271.00" r="2.35" fill="#0072bd" fill-opacity="0.4"/>
<circle cx="634.70" cy="272.00" r="2.35" fill="#0072bd" fill-opacity="0.4"/>
<circle cx="634.71" cy="273.00" r="2.35" fill="#0072bd" fill-opacity="0.4"/>
<circle cx="634.98" cy="274.00" r="2.35" fill="#0072bd" fill-opacity="0.4"/>
<circle cx="635.01" cy="275.00" r="2.35" fill="#0072bd" fill-opacity="0.4"/>
<circle cx="634.67" cy="276.00" r="2.35" fill="#0072bd" fill-opacity="0.4"/>
<circle cx="634.99" cy="277.00" r="2.35" fill="#0072bd" fill-opacity="0.4"/>
<circle cx="634.92" cy="278.00" r="2.35" fill="#0072bd" fill-opacity="0.4"/>
<circle cx="634.61" cy="279.00" r="2.35" fill="#0072bd" fill-opacity="0.4"/>
<circle cx="634.73" cy="280.00" r="2.35" fill="#0072bd" fill-opacity="0.4"/>
<circle cx="634.52" cy="281.00" r="2.35" fill="#0072bd" fill-opacity="0.4"/>
<circle cx="634.94" cy="282.00" r="2.35" fill="#0072bd" fill-opacity="0.4"/>
<circle cx="634.85" cy="283.00" r="2.35" fill="#0072bd" fill-opacity="0.4"/>
<circle cx="634.98" cy="284.00" r="2.35" fill="#0072bd" fill-opacity="0.4"/>
<circle cx="634.93" cy="285.00" r="2.35" fill="#0072bd" fill-opacity="0.4"/>
<circle cx="634.85" cy="286.00" r="2.35" fill="#0072bd" fill-opacity="0.4"/>
<circle cx="634.89" cy="270.50" r="2.35" fill="#0072bd" fill-opacity="0.4"/>
<circle cx="634.79" cy="271.75" r="2.35" fill="#0072bd" fill-opacity="0.4"/>
<circle cx="634.51" cy="273.00" r="2.35" fill="#0072bd" fill-opacity="0.4"/>
<circle cx="634.80" cy="274.25" r="2.35" fill="#0072bd" fill-opacity="0.4"/>
<circle cx="634.45" cy="275.50" r="2.35" fill="#0072bd" fill-opacity="0.4"/>
<circle cx="634.54" cy="276.75" r="2.35" fill="#0072bd" fill-opacity="0.4"/>
<circle cx="634.91" cy="278.00" r="2.35" fill="#0072bd" fill-opacity="0.4"/>
<circle cx="634.48" cy="279.25" r="2.35" fill="#0072bd" fill-opacity="0.4"/>
<circle cx="634.51" cy="280.50" r="2.35" fill="#0072bd" fill-opacity="0.4"/>
<circle cx="634.51" cy="281.75" r="2.35" fill="#0072bd" fill-opacity="0.4"/>
<circle cx="634.98" cy="283.00" r="2.35" fill="#0072bd" fill-opacity="0.4"/>
<circle cx="634.56" cy="284.25" r="2.35" fill="#0072bd" fill-opacity="0.4"/>
<circle cx="634.46" cy="285.50" r="2.35" fill="#0072bd" fill-opacity="0.4"/>
<circle cx="634.95" cy="288.00" r="2.35" fill="#0072bd" fill-opacity="0.4"/>
<line x1="423.90" y1="195.3" x2="431.80" y2="195.3" stroke="#111" stroke-width="1.7"/>
<circle cx="427.50" cy="195.3" r="1.9" fill="#8a8a8a"/>
<line x1="451.05" y1="207.5" x2="451.05" y2="211.4" stroke="#222" stroke-width="1.3"/>
<line x1="446.85" y1="207.5" x2="455.35" y2="207.5" stroke="#111" stroke-width="1.3"/>
<line x1="446.85" y1="211.4" x2="455.35" y2="211.4" stroke="#111" stroke-width="1.3"/>
<circle cx="451.05" cy="209.3" r="1.9" fill="#8a8a8a"/>
<line x1="474.60" y1="210.8" x2="474.60" y2="217.3" stroke="#222" stroke-width="1.3"/>
<line x1="470.40" y1="210.8" x2="478.90" y2="210.8" stroke="#111" stroke-width="1.3"/>
<line x1="470.40" y1="217.3" x2="478.90" y2="217.3" stroke="#111" stroke-width="1.3"/>
<circle cx="474.60" cy="214.0" r="1.9" fill="#8a8a8a"/>
<line x1="498.15" y1="243.7" x2="498.15" y2="283.7" stroke="#222" stroke-width="1.3"/>
<line x1="493.95" y1="243.7" x2="502.45" y2="243.7" stroke="#111" stroke-width="1.3"/>
<line x1="493.95" y1="283.7" x2="502.45" y2="283.7" stroke="#111" stroke-width="1.3"/>
<circle cx="498.15" cy="264.0" r="1.9" fill="#8a8a8a"/>
<line x1="521.70" y1="218.2" x2="521.70" y2="229.4" stroke="#222" stroke-width="1.3"/>
<line x1="517.50" y1="218.2" x2="526.00" y2="218.2" stroke="#111" stroke-width="1.3"/>
<line x1="517.50" y1="229.4" x2="526.00" y2="229.4" stroke="#111" stroke-width="1.3"/>
<circle cx="521.70" cy="223.9" r="1.9" fill="#8a8a8a"/>
<line x1="545.25" y1="272.7" x2="545.25" y2="282.5" stroke="#222" stroke-width="1.3"/>
<line x1="541.05" y1="272.7" x2="549.55" y2="272.7" stroke="#111" stroke-width="1.3"/>
<line x1="541.05" y1="282.5" x2="549.55" y2="282.5" stroke="#111" stroke-width="1.3"/>
<circle cx="545.25" cy="277.3" r="1.9" fill="#8a8a8a"/>
<line x1="568.80" y1="272.5" x2="568.80" y2="283.5" stroke="#222" stroke-width="1.3"/>
<line x1="564.60" y1="272.5" x2="573.10" y2="272.5" stroke="#111" stroke-width="1.3"/>
<line x1="564.60" y1="283.5" x2="573.10" y2="283.5" stroke="#111" stroke-width="1.3"/>
<circle cx="568.80" cy="277.9" r="1.9" fill="#8a8a8a"/>
<line x1="592.35" y1="273.1" x2="592.35" y2="282.0" stroke="#222" stroke-width="1.3"/>
<line x1="588.15" y1="273.1" x2="596.65" y2="273.1" stroke="#111" stroke-width="1.3"/>
<line x1="588.15" y1="282.0" x2="596.65" y2="282.0" stroke="#111" stroke-width="1.3"/>
<circle cx="592.35" cy="277.3" r="1.9" fill="#8a8a8a"/>
<line x1="615.90" y1="242.5" x2="615.90" y2="284.1" stroke="#222" stroke-width="1.3"/>
<line x1="611.70" y1="242.5" x2="620.20" y2="242.5" stroke="#111" stroke-width="1.3"/>
<line x1="611.70" y1="284.1" x2="620.20" y2="284.1" stroke="#111" stroke-width="1.3"/>
<circle cx="615.90" cy="263.2" r="1.9" fill="#8a8a8a"/>
<line x1="639.45" y1="269.6" x2="639.45" y2="283.5" stroke="#222" stroke-width="1.3"/>
<line x1="635.25" y1="269.6" x2="643.75" y2="269.6" stroke="#111" stroke-width="1.3"/>
<line x1="635.25" y1="283.5" x2="643.75" y2="283.5" stroke="#111" stroke-width="1.3"/>
<circle cx="639.45" cy="276.9" r="1.9" fill="#8a8a8a"/>
<rect x="404.3" y="185.3" width="258.40" height="112.70" fill="none" stroke="#c4c4c4" stroke-width="1.1"/>
<line x1="427.50" y1="298.0" x2="427.50" y2="295.5" stroke="#bbb" stroke-width="0.8"/>
<line x1="427.50" y1="185.3" x2="427.50" y2="187.8" stroke="#bbb" stroke-width="0.8"/>
<text x="427.50" y="312.7" text-anchor="middle" font-family="Liberation Serif" font-size="12.5" fill="#2a2a2a">1</text>
<line x1="451.05" y1="298.0" x2="451.05" y2="295.5" stroke="#bbb" stroke-width="0.8"/>
<line x1="451.05" y1="185.3" x2="451.05" y2="187.8" stroke="#bbb" stroke-width="0.8"/>
<text x="451.05" y="312.7" text-anchor="middle" font-family="Liberation Serif" font-size="12.5" fill="#2a2a2a">2</text>
<line x1="474.60" y1="298.0" x2="474.60" y2="295.5" stroke="#bbb" stroke-width="0.8"/>
<line x1="474.60" y1="185.3" x2="474.60" y2="187.8" stroke="#bbb" stroke-width="0.8"/>
<text x="474.60" y="312.7" text-anchor="middle" font-family="Liberation Serif" font-size="12.5" fill="#2a2a2a">3</text>
<line x1="498.15" y1="298.0" x2="498.15" y2="295.5" stroke="#bbb" stroke-width="0.8"/>
<line x1="498.15" y1="185.3" x2="498.15" y2="187.8" stroke="#bbb" stroke-width="0.8"/>
<text x="498.15" y="312.7" text-anchor="middle" font-family="Liberation Serif" font-size="12.5" fill="#2a2a2a">4</text>
<line x1="521.70" y1="298.0" x2="521.70" y2="295.5" stroke="#bbb" stroke-width="0.8"/>
<line x1="521.70" y1="185.3" x2="521.70" y2="187.8" stroke="#bbb" stroke-width="0.8"/>
<text x="521.70" y="312.7" text-anchor="middle" font-family="Liberation Serif" font-size="12.5" fill="#2a2a2a">5</text>
<line x1="545.25" y1="298.0" x2="545.25" y2="295.5" stroke="#bbb" stroke-width="0.8"/>
<line x1="545.25" y1="185.3" x2="545.25" y2="187.8" stroke="#bbb" stroke-width="0.8"/>
<text x="545.25" y="312.7" text-anchor="middle" font-family="Liberation Serif" font-size="12.5" fill="#2a2a2a">6</text>
<line x1="568.80" y1="298.0" x2="568.80" y2="295.5" stroke="#bbb" stroke-width="0.8"/>
<line x1="568.80" y1="185.3" x2="568.80" y2="187.8" stroke="#bbb" stroke-width="0.8"/>
<text x="568.80" y="312.7" text-anchor="middle" font-family="Liberation Serif" font-size="12.5" fill="#2a2a2a">7</text>
<line x1="592.35" y1="298.0" x2="592.35" y2="295.5" stroke="#bbb" stroke-width="0.8"/>
<line x1="592.35" y1="185.3" x2="592.35" y2="187.8" stroke="#bbb" stroke-width="0.8"/>
<text x="592.35" y="312.7" text-anchor="middle" font-family="Liberation Serif" font-size="12.5" fill="#2a2a2a">8</text>
<line x1="615.90" y1="298.0" x2="615.90" y2="295.5" stroke="#bbb" stroke-width="0.8"/>
<line x1="615.90" y1="185.3" x2="615.90" y2="187.8" stroke="#bbb" stroke-width="0.8"/>
<text x="615.90" y="312.7" text-anchor="middle" font-family="Liberation Serif" font-size="12.5" fill="#2a2a2a">9</text>
<line x1="639.45" y1="298.0" x2="639.45" y2="295.5" stroke="#bbb" stroke-width="0.8"/>
<line x1="639.45" y1="185.3" x2="639.45" y2="187.8" stroke="#bbb" stroke-width="0.8"/>
<text x="639.45" y="312.7" text-anchor="middle" font-family="Liberation Serif" font-size="12.5" fill="#2a2a2a">10</text>
<line x1="404.3" y1="188.80" x2="406.8" y2="188.80" stroke="#bbb" stroke-width="0.8"/>
<line x1="662.7" y1="188.80" x2="660.2" y2="188.80" stroke="#bbb" stroke-width="0.8"/>
<text x="401.0" y="192.50" text-anchor="end" font-family="Liberation Serif" font-size="13.4" fill="#2a2a2a">0</text>
<line x1="404.3" y1="224.10" x2="406.8" y2="224.10" stroke="#bbb" stroke-width="0.8"/>
<line x1="662.7" y1="224.10" x2="660.2" y2="224.10" stroke="#bbb" stroke-width="0.8"/>
<text x="401.0" y="227.80" text-anchor="end" font-family="Liberation Serif" font-size="13.4" fill="#2a2a2a">-5</text>
<line x1="404.3" y1="259.40" x2="406.8" y2="259.40" stroke="#bbb" stroke-width="0.8"/>
<line x1="662.7" y1="259.40" x2="660.2" y2="259.40" stroke="#bbb" stroke-width="0.8"/>
<text x="401.0" y="263.10" text-anchor="end" font-family="Liberation Serif" font-size="13.4" fill="#2a2a2a">-10</text>
<line x1="404.3" y1="294.70" x2="406.8" y2="294.70" stroke="#bbb" stroke-width="0.8"/>
<line x1="662.7" y1="294.70" x2="660.2" y2="294.70" stroke="#bbb" stroke-width="0.8"/>
<text x="401.0" y="298.40" text-anchor="end" font-family="Liberation Serif" font-size="13.4" fill="#2a2a2a">-15</text>
<text transform="translate(371.1,283.7) rotate(-90)" font-family="Liberation Serif" font-size="14.8" fill="#2a2a2a" textLength="37.4" lengthAdjust="spacingAndGlyphs">Norm</text>
<path d="M359.9,236.9 Q367.4,243.8 374.9,236.9" fill="none" stroke="#2a2a2a" stroke-width="1.1"/>
<text transform="translate(371.0,235.6) rotate(-90)" font-family="Liberation Serif" font-size="14.6" fill="#2a2a2a" textLength="18.3" lengthAdjust="spacingAndGlyphs">log</text>
<text transform="translate(378.0,216.6) rotate(-90)" font-family="Liberation Serif" font-size="10.6" fill="#2a2a2a" textLength="10.2" lengthAdjust="spacingAndGlyphs">10</text>
<path d="M359.9,205.3 Q367.1,198.6 374.2,205.3" fill="none" stroke="#2a2a2a" stroke-width="1.1"/>
<text x="533.2" y="333.5" text-anchor="middle" font-family="Liberation Serif" font-size="15" fill="#333" textLength="132.5" lengthAdjust="spacingAndGlyphs">Number of layers (p)</text>
<text x="0.6" y="17.6" font-family="Liberation Serif" font-weight="bold" fill="#111" font-size="23">(</text><text x="8.0" y="17.6" font-family="Liberation Serif" font-weight="bold" fill="#111" font-size="21" textLength="13.0" lengthAdjust="spacingAndGlyphs">a</text><text x="19.6" y="17.6" font-family="Liberation Serif" font-weight="bold" fill="#111" font-size="23">)</text>
<text x="336.0" y="17.2" font-family="Liberation Serif" font-weight="bold" fill="#111" font-size="23">(</text><text x="343.6" y="17.2" font-family="Liberation Serif" font-weight="bold" fill="#111" font-size="19.5" textLength="12.6" lengthAdjust="spacingAndGlyphs">b</text><text x="356.4" y="17.2" font-family="Liberation Serif" font-weight="bold" fill="#111" font-size="23">)</text>
<text x="336.8" y="177.9" font-family="Liberation Serif" font-weight="bold" fill="#111" font-size="23">(</text><text x="344.6" y="177.9" font-family="Liberation Serif" font-weight="bold" fill="#111" font-size="21" textLength="11.6" lengthAdjust="spacingAndGlyphs">c</text><text x="355.4" y="177.9" font-family="Liberation Serif" font-weight="bold" fill="#111" font-size="23">)</text>
</svg>
</body></html>
